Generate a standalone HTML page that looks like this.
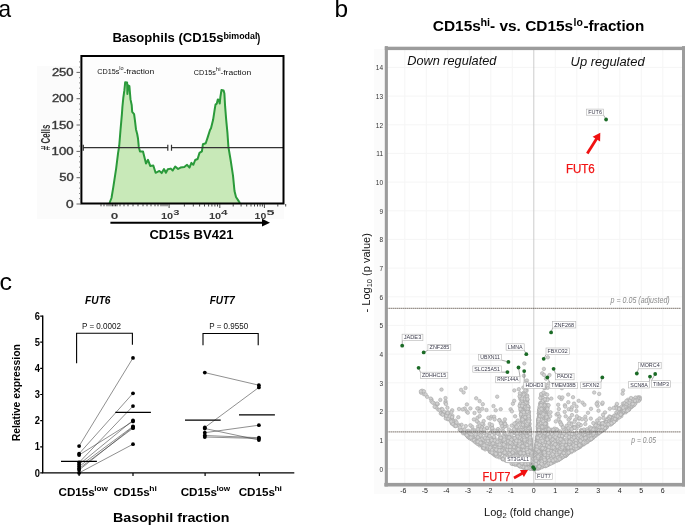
<!DOCTYPE html>
<html><head><meta charset="utf-8"><style>
html,body{margin:0;padding:0;background:#fff;}
svg{display:block;font-family:"Liberation Sans", sans-serif;}
.cl circle{r:1.75px;fill:#d0d0d0;stroke:#a6a6a6;stroke-width:0.55px;}
</style></head><body>
<svg width="685" height="525" viewBox="0 0 685 525">
<text x="-1.5" y="16.9" font-size="24" fill="#000" textLength="12.6" lengthAdjust="spacingAndGlyphs">a</text>
<text x="334.4" y="16.9" font-size="24" fill="#000" textLength="13.6" lengthAdjust="spacingAndGlyphs">b</text>
<text x="-0.5" y="289.6" font-size="24" fill="#000" textLength="12.5" lengthAdjust="spacingAndGlyphs">c</text>
<rect x="37" y="66" width="247" height="153" fill="#fbfbfb"/>
<rect x="82" y="57" width="201" height="146" fill="#fdfdfd"/>
<text x="112.4" y="42.4" font-size="12.5" fill="#000" font-weight="bold" textLength="111.1" lengthAdjust="spacingAndGlyphs">Basophils (CD15s</text>
<text x="223.4" y="38.7" font-size="8.4" fill="#000" font-weight="bold" textLength="34.0" lengthAdjust="spacingAndGlyphs">bimodal</text>
<text x="257.1" y="42.4" font-size="12.5" fill="#000" font-weight="bold" textLength="3.3" lengthAdjust="spacingAndGlyphs">)</text>
<path d="M109.5 203.0 L111.5 198.0 L113.3 187.1 L116.2 168.1 L118.1 152.9 L119.2 146.0 L120.5 130.0 L121.9 114.2 L122.4 107.0 L123.3 97.9 L124.4 90.2 L125.2 82.2 L127.1 82.4 L127.4 94.0 L128.2 85.3 L129.4 86.0 L130.5 99.4 L131.7 105.0 L132.2 111.9 L134.1 114.1 L134.9 120.2 L136.0 129.4 L137.2 134.0 L138.0 138.5 L138.8 146.9 L140.0 151.4 L143.0 151.4 L144.5 157.5 L146.0 163.6 L148.0 159.8 L150.2 165.9 L153.3 165.5 L155.6 172.8 L159.4 170.9 L161.7 173.1 L164.0 169.0 L165.9 172.8 L167.8 169.3 L170.8 168.6 L172.7 170.5 L175.2 166.5 L178.1 169.0 L180.5 167.6 L184.3 167.1 L187.1 164.8 L189.5 167.6 L191.4 162.9 L193.3 164.8 L195.2 160.0 L197.6 159.0 L199.5 152.9 L201.9 151.4 L202.9 144.3 L205.7 143.3 L207.6 137.6 L210.0 130.0 L211.0 128.2 L213.1 119.8 L214.7 109.3 L215.5 104.6 L216.8 103.6 L217.8 99.4 L218.9 99.9 L219.7 103.6 L220.4 96.8 L221.5 90.0 L223.6 90.5 L224.4 93.6 L225.1 106.2 L226.2 119.8 L227.4 132.4 L228.4 146.8 L230.7 160.5 L233.0 175.7 L234.5 191.0 L236.0 197.0 L239.0 201.6 L240.0 203.0 Z" fill="#c8e9b8" stroke="none"/>
<path d="M109.5 203.0 L111.5 198.0 L113.3 187.1 L116.2 168.1 L118.1 152.9 L119.2 146.0 L120.5 130.0 L121.9 114.2 L122.4 107.0 L123.3 97.9 L124.4 90.2 L125.2 82.2 L127.1 82.4 L127.4 94.0 L128.2 85.3 L129.4 86.0 L130.5 99.4 L131.7 105.0 L132.2 111.9 L134.1 114.1 L134.9 120.2 L136.0 129.4 L137.2 134.0 L138.0 138.5 L138.8 146.9 L140.0 151.4 L143.0 151.4 L144.5 157.5 L146.0 163.6 L148.0 159.8 L150.2 165.9 L153.3 165.5 L155.6 172.8 L159.4 170.9 L161.7 173.1 L164.0 169.0 L165.9 172.8 L167.8 169.3 L170.8 168.6 L172.7 170.5 L175.2 166.5 L178.1 169.0 L180.5 167.6 L184.3 167.1 L187.1 164.8 L189.5 167.6 L191.4 162.9 L193.3 164.8 L195.2 160.0 L197.6 159.0 L199.5 152.9 L201.9 151.4 L202.9 144.3 L205.7 143.3 L207.6 137.6 L210.0 130.0 L211.0 128.2 L213.1 119.8 L214.7 109.3 L215.5 104.6 L216.8 103.6 L217.8 99.4 L218.9 99.9 L219.7 103.6 L220.4 96.8 L221.5 90.0 L223.6 90.5 L224.4 93.6 L225.1 106.2 L226.2 119.8 L227.4 132.4 L228.4 146.8 L230.7 160.5 L233.0 175.7 L234.5 191.0 L236.0 197.0 L239.0 201.6 L240.0 203.0" fill="none" stroke="#2a9a3a" stroke-width="2" stroke-linejoin="round"/>
<path d="M83.3 147.7 H167.8 M83.3 144.8 V150.8 M167.8 144.8 V150.8 M171.5 144.8 V150.8 M171.5 147.7 H283" stroke="#333" stroke-width="1.2" fill="none"/>
<path d="M81.4 56 V203.4 H283.5 V56 Z" fill="none" stroke="#000" stroke-width="2"/>
<path d="M76.5 204.0 H81 M79.3 198.7 H81 M79.3 193.5 H81 M79.3 188.2 H81 M79.3 182.9 H81 M76.5 177.7 H81 M79.3 172.4 H81 M79.3 167.2 H81 M79.3 161.9 H81 M79.3 156.6 H81 M76.5 151.4 H81 M79.3 146.1 H81 M79.3 140.8 H81 M79.3 135.6 H81 M79.3 130.3 H81 M76.5 125.0 H81 M79.3 119.8 H81 M79.3 114.5 H81 M79.3 109.2 H81 M79.3 104.0 H81 M76.5 98.7 H81 M79.3 93.5 H81 M79.3 88.2 H81 M79.3 82.9 H81 M79.3 77.7 H81 M76.5 72.4 H81 M79.3 67.1 H81 M79.3 61.9 H81" stroke="#666" stroke-width="1"/>
<text x="66.1" y="207.5" font-size="10.0" fill="#383838" textLength="7.6" lengthAdjust="spacingAndGlyphs" stroke="#383838" stroke-width="0.35">0</text>
<text x="59.2" y="181.2" font-size="10.0" fill="#383838" textLength="14.4" lengthAdjust="spacingAndGlyphs" stroke="#383838" stroke-width="0.35">50</text>
<text x="51.6" y="154.9" font-size="10.0" fill="#383838" textLength="22.0" lengthAdjust="spacingAndGlyphs" stroke="#383838" stroke-width="0.35">100</text>
<text x="51.6" y="128.5" font-size="10.0" fill="#383838" textLength="22.0" lengthAdjust="spacingAndGlyphs" stroke="#383838" stroke-width="0.35">150</text>
<text x="51.9" y="102.2" font-size="10.0" fill="#383838" textLength="21.7" lengthAdjust="spacingAndGlyphs" stroke="#383838" stroke-width="0.35">200</text>
<text x="51.9" y="75.9" font-size="10.0" fill="#383838" textLength="21.7" lengthAdjust="spacingAndGlyphs" stroke="#383838" stroke-width="0.35">250</text>
<text x="0.0" y="0.0" font-size="12" fill="#333" font-weight="bold" text-anchor="middle" textLength="25.5" lengthAdjust="spacingAndGlyphs" transform="translate(49.8 137.4) rotate(-90)"># Cells</text>
<path d="M184.4 204 V206.5 M193.3 204 V206.5 M199.6 204 V206.5 M204.5 204 V206.5 M208.6 204 V206.5 M211.9 204 V206.5 M214.9 204 V206.5 M217.5 204 V206.5 M233.2 204 V206.5 M241.1 204 V206.5 M246.7 204 V206.5 M251.0 204 V206.5 M254.5 204 V206.5 M257.5 204 V206.5 M260.1 204 V206.5 M262.4 204 V206.5 M277.8 204 V206.5 M285.7 204 V206.5 M169.1 204 V208 M219.8 204 V208 M264.4 204 V208 M101.0 204 V206.3 M104.0 204 V206.3 M107.0 204 V206.3 M109.0 204 V206.3 M111.0 204 V206.3 M112.5 204 V206.3 M114.0 204 V206.3 M115.5 204 V206.3 M117.0 204 V206.3 M120.0 204 V206.3 M124.0 204 V206.3 M128.0 204 V206.3 M133.0 204 V206.3 M138.0 204 V206.3 M143.0 204 V206.3 M147.0 204 V206.3 M151.0 204 V206.3 M155.0 204 V206.3 M158.0 204 V206.3 M161.0 204 V206.3 M163.0 204 V206.3 M165.0 204 V206.3 M167.0 204 V206.3" stroke="#333" stroke-width="0.9"/>
<text x="110.8" y="218.6" font-size="8.4" fill="#3a3a3a" font-weight="bold" textLength="7.6" lengthAdjust="spacingAndGlyphs">0</text>
<text x="160.9" y="218.6" font-size="8.4" fill="#3a3a3a" font-weight="bold" textLength="12.2" lengthAdjust="spacingAndGlyphs">10</text>
<text x="173.2" y="214.7" font-size="6.9" fill="#3a3a3a" font-weight="bold" textLength="6.2" lengthAdjust="spacingAndGlyphs">3</text>
<text x="208.9" y="218.6" font-size="8.4" fill="#3a3a3a" font-weight="bold" textLength="12.2" lengthAdjust="spacingAndGlyphs">10</text>
<text x="221.0" y="214.7" font-size="6.9" fill="#3a3a3a" font-weight="bold" textLength="6.6" lengthAdjust="spacingAndGlyphs">4</text>
<text x="254.6" y="218.6" font-size="8.4" fill="#3a3a3a" font-weight="bold" textLength="11.7" lengthAdjust="spacingAndGlyphs">10</text>
<text x="266.6" y="214.7" font-size="6.9" fill="#3a3a3a" font-weight="bold" textLength="8.0" lengthAdjust="spacingAndGlyphs">5</text>
<path d="M110.4 222.7 H263" stroke="#000" stroke-width="2"/>
<path d="M262 218.8 L270 222.7 L262 226.6 Z" fill="#000"/>
<text x="149.4" y="239.4" font-size="13.6" fill="#000" font-weight="bold" textLength="84.0" lengthAdjust="spacingAndGlyphs">CD15s BV421</text>
<text x="97.2" y="73.8" font-size="7.3" fill="#111" textLength="22.2" lengthAdjust="spacingAndGlyphs">CD15s</text>
<text x="119.3" y="70.1" font-size="4.8" fill="#222" textLength="4.3" lengthAdjust="spacingAndGlyphs">lo</text>
<text x="123.5" y="73.8" font-size="7.3" fill="#111" textLength="30.8" lengthAdjust="spacingAndGlyphs">-fraction</text>
<text x="193.8" y="74.8" font-size="7.3" fill="#111" textLength="22.1" lengthAdjust="spacingAndGlyphs">CD15s</text>
<text x="215.8" y="71.1" font-size="4.8" fill="#222" textLength="4.7" lengthAdjust="spacingAndGlyphs">hi</text>
<text x="220.4" y="74.8" font-size="7.3" fill="#111" textLength="30.8" lengthAdjust="spacingAndGlyphs">-fraction</text>
<path d="M42.7 315.5 V473.5 M42 472.9 H294.3" stroke="#000" stroke-width="1.4" fill="none"/>
<path d="M40.2 472.9 H42.7 M40.2 446.8 H42.7 M40.2 420.6 H42.7 M40.2 394.5 H42.7 M40.2 368.4 H42.7 M40.2 342.2 H42.7 M40.2 316.1 H42.7 M79.1 472.9 V476 M133.0 472.9 V476 M205.1 472.9 V476 M259.4 472.9 V476" stroke="#000" stroke-width="1.2"/>
<text x="40.0" y="476.5" font-size="10" fill="#000" font-weight="bold" text-anchor="end" textLength="5.2" lengthAdjust="spacingAndGlyphs">0</text>
<text x="40.0" y="450.4" font-size="10" fill="#000" font-weight="bold" text-anchor="end" textLength="5.2" lengthAdjust="spacingAndGlyphs">1</text>
<text x="40.0" y="424.2" font-size="10" fill="#000" font-weight="bold" text-anchor="end" textLength="5.2" lengthAdjust="spacingAndGlyphs">2</text>
<text x="40.0" y="398.1" font-size="10" fill="#000" font-weight="bold" text-anchor="end" textLength="5.2" lengthAdjust="spacingAndGlyphs">3</text>
<text x="40.0" y="372.0" font-size="10" fill="#000" font-weight="bold" text-anchor="end" textLength="5.2" lengthAdjust="spacingAndGlyphs">4</text>
<text x="40.0" y="345.9" font-size="10" fill="#000" font-weight="bold" text-anchor="end" textLength="5.2" lengthAdjust="spacingAndGlyphs">5</text>
<text x="40.0" y="319.7" font-size="10" fill="#000" font-weight="bold" text-anchor="end" textLength="5.2" lengthAdjust="spacingAndGlyphs">6</text>
<text x="-0.7" y="0.0" font-size="10.6" fill="#000" font-weight="bold" textLength="97.1" lengthAdjust="spacingAndGlyphs" transform="translate(19.9 440.6) rotate(-90)">Relative expression</text>
<text x="85.1" y="304.0" font-size="11.2" fill="#000" font-weight="bold" font-style="italic" textLength="25.4" lengthAdjust="spacingAndGlyphs">FUT6</text>
<text x="209.7" y="304.0" font-size="11.2" fill="#000" font-weight="bold" font-style="italic" textLength="25.0" lengthAdjust="spacingAndGlyphs">FUT7</text>
<text x="81.9" y="328.7" font-size="9.3" fill="#111" textLength="39.2" lengthAdjust="spacingAndGlyphs">P = 0.0002</text>
<text x="209.2" y="329.1" font-size="9.3" fill="#111" textLength="39.0" lengthAdjust="spacingAndGlyphs">P = 0.9550</text>
<path d="M76.6 363.2 V333.3 H132.4 V344.8 M203 345.2 V333.5 H258.2 V345.2" stroke="#000" stroke-width="1.1" fill="none"/>
<path d="M79.1 446.1 L133 357.9 M79.1 453.7 L133 393.3 M79.1 455.0 L133 421.4 M79.1 462.5 L133 406.1 M79.1 464.5 L133 420.3 M79.1 466.5 L133 426.4 M79.1 468.5 L133 428.2 M79.1 470.0 L133 427.0 M79.1 472.9 L133 444.2 M204.8 372.6 L258.9 385.2 M204.8 427.5 L258.9 387.4 M204.8 428.5 L258.9 440.0 M204.8 432.7 L258.9 425.2 M204.8 435.5 L258.9 437.7 M204.8 437.0 L258.9 438.5" stroke="#333" stroke-width="0.55" fill="none"/>
<g fill="#000"><circle cx="79.1" cy="446.1" r="1.9"/><circle cx="133" cy="357.9" r="1.9"/><circle cx="79.1" cy="453.7" r="1.9"/><circle cx="133" cy="393.3" r="1.9"/><circle cx="79.1" cy="455.0" r="1.9"/><circle cx="133" cy="421.4" r="1.9"/><circle cx="79.1" cy="462.5" r="1.9"/><circle cx="133" cy="406.1" r="1.9"/><circle cx="79.1" cy="464.5" r="1.9"/><circle cx="133" cy="420.3" r="1.9"/><circle cx="79.1" cy="466.5" r="1.9"/><circle cx="133" cy="426.4" r="1.9"/><circle cx="79.1" cy="468.5" r="1.9"/><circle cx="133" cy="428.2" r="1.9"/><circle cx="79.1" cy="470.0" r="1.9"/><circle cx="133" cy="427.0" r="1.9"/><circle cx="79.1" cy="472.9" r="1.9"/><circle cx="133" cy="444.2" r="1.9"/><circle cx="204.8" cy="372.6" r="1.9"/><circle cx="258.9" cy="385.2" r="1.9"/><circle cx="204.8" cy="427.5" r="1.9"/><circle cx="258.9" cy="387.4" r="1.9"/><circle cx="204.8" cy="428.5" r="1.9"/><circle cx="258.9" cy="440.0" r="1.9"/><circle cx="204.8" cy="432.7" r="1.9"/><circle cx="258.9" cy="425.2" r="1.9"/><circle cx="204.8" cy="435.5" r="1.9"/><circle cx="258.9" cy="437.7" r="1.9"/><circle cx="204.8" cy="437.0" r="1.9"/><circle cx="258.9" cy="438.5" r="1.9"/></g>
<path d="M61 461.3 H96.9 M115.3 412.3 H150.9 M185 420.1 H220.7 M239 414.9 H274.9" stroke="#000" stroke-width="1.15"/>
<text x="58.5" y="495.7" font-size="10.8" fill="#000" font-weight="bold" textLength="36.3" lengthAdjust="spacingAndGlyphs">CD15s</text>
<text x="94.2" y="491.2" font-size="7.2" fill="#000" font-weight="bold" textLength="13.6" lengthAdjust="spacingAndGlyphs">low</text>
<text x="180.7" y="495.7" font-size="10.8" fill="#000" font-weight="bold" textLength="36.3" lengthAdjust="spacingAndGlyphs">CD15s</text>
<text x="216.4" y="491.2" font-size="7.2" fill="#000" font-weight="bold" textLength="13.6" lengthAdjust="spacingAndGlyphs">low</text>
<text x="113.5" y="495.7" font-size="10.8" fill="#000" font-weight="bold" textLength="36.3" lengthAdjust="spacingAndGlyphs">CD15s</text>
<text x="149.2" y="491.2" font-size="7.2" fill="#000" font-weight="bold" textLength="7.6" lengthAdjust="spacingAndGlyphs">hi</text>
<text x="238.7" y="495.7" font-size="10.8" fill="#000" font-weight="bold" textLength="36.3" lengthAdjust="spacingAndGlyphs">CD15s</text>
<text x="274.4" y="491.2" font-size="7.2" fill="#000" font-weight="bold" textLength="7.6" lengthAdjust="spacingAndGlyphs">hi</text>
<text x="113.0" y="522.2" font-size="13.2" fill="#000" font-weight="bold" textLength="116.4" lengthAdjust="spacingAndGlyphs">Basophil fraction</text>
<rect x="374" y="49" width="311" height="445" fill="#fbfbfb"/>
<rect x="386" y="48" width="297.5" height="436.5" fill="#fff"/>
<path d="M404.8 49 V483 M426.3 49 V483 M447.8 49 V483 M469.3 49 V483 M490.8 49 V483 M512.3 49 V483 M555.3 49 V483 M576.8 49 V483 M598.3 49 V483 M619.8 49 V483 M641.3 49 V483 M662.8 49 V483 M387 468.8 H682 M387 440.1 H682 M387 411.5 H682 M387 382.8 H682 M387 354.1 H682 M387 325.4 H682 M387 296.8 H682 M387 268.1 H682 M387 239.4 H682 M387 210.8 H682 M387 182.1 H682 M387 153.4 H682 M387 124.8 H682 M387 96.1 H682 M387 67.4 H682" stroke="#f5f5f5" stroke-width="1"/>
<path d="M533.8 49 V483" stroke="#cccccc" stroke-width="1"/>
<text x="432.8" y="30.8" font-size="15.2" fill="#000" font-weight="bold" textLength="48.0" lengthAdjust="spacingAndGlyphs">CD15s</text>
<text x="480.4" y="25.5" font-size="10" fill="#000" font-weight="bold" textLength="9.6" lengthAdjust="spacingAndGlyphs">hi</text>
<text x="490.0" y="30.8" font-size="15.2" fill="#000" font-weight="bold" textLength="83.2" lengthAdjust="spacingAndGlyphs">- vs. CD15s</text>
<text x="573.5" y="25.6" font-size="10" fill="#000" font-weight="bold" textLength="9.3" lengthAdjust="spacingAndGlyphs">lo</text>
<text x="583.4" y="30.8" font-size="15.2" fill="#000" font-weight="bold" textLength="60.8" lengthAdjust="spacingAndGlyphs">-fraction</text>
<text x="407.2" y="65.3" font-size="12.6" fill="#111" font-style="italic" textLength="89.2" lengthAdjust="spacingAndGlyphs">Down regulated</text>
<text x="570.6" y="65.6" font-size="12.6" fill="#111" font-style="italic" textLength="74.0" lengthAdjust="spacingAndGlyphs">Up regulated</text>
<text x="383.0" y="471.5" font-size="6.5" fill="#333" text-anchor="end">0</text>
<text x="383.0" y="442.8" font-size="6.5" fill="#333" text-anchor="end">1</text>
<text x="383.0" y="414.2" font-size="6.5" fill="#333" text-anchor="end">2</text>
<text x="383.0" y="385.5" font-size="6.5" fill="#333" text-anchor="end">3</text>
<text x="383.0" y="356.8" font-size="6.5" fill="#333" text-anchor="end">4</text>
<text x="383.0" y="328.1" font-size="6.5" fill="#333" text-anchor="end">5</text>
<text x="383.0" y="299.5" font-size="6.5" fill="#333" text-anchor="end">6</text>
<text x="383.0" y="270.8" font-size="6.5" fill="#333" text-anchor="end">7</text>
<text x="383.0" y="242.1" font-size="6.5" fill="#333" text-anchor="end">8</text>
<text x="383.0" y="213.5" font-size="6.5" fill="#333" text-anchor="end">9</text>
<text x="383.0" y="184.8" font-size="6.5" fill="#333" text-anchor="end">10</text>
<text x="383.0" y="156.1" font-size="6.5" fill="#333" text-anchor="end">11</text>
<text x="383.0" y="127.5" font-size="6.5" fill="#333" text-anchor="end">12</text>
<text x="383.0" y="98.8" font-size="6.5" fill="#333" text-anchor="end">13</text>
<text x="383.0" y="70.1" font-size="6.5" fill="#333" text-anchor="end">14</text>
<text x="403.4" y="492.7" font-size="7" fill="#222" text-anchor="middle">-6</text>
<text x="424.9" y="492.7" font-size="7" fill="#222" text-anchor="middle">-5</text>
<text x="446.4" y="492.7" font-size="7" fill="#222" text-anchor="middle">-4</text>
<text x="467.9" y="492.7" font-size="7" fill="#222" text-anchor="middle">-3</text>
<text x="489.4" y="492.7" font-size="7" fill="#222" text-anchor="middle">-2</text>
<text x="510.9" y="492.7" font-size="7" fill="#222" text-anchor="middle">-1</text>
<text x="533.8" y="492.7" font-size="7" fill="#222" text-anchor="middle">0</text>
<text x="555.3" y="492.7" font-size="7" fill="#222" text-anchor="middle">1</text>
<text x="576.8" y="492.7" font-size="7" fill="#222" text-anchor="middle">2</text>
<text x="598.3" y="492.7" font-size="7" fill="#222" text-anchor="middle">3</text>
<text x="619.8" y="492.7" font-size="7" fill="#222" text-anchor="middle">4</text>
<text x="641.3" y="492.7" font-size="7" fill="#222" text-anchor="middle">5</text>
<text x="662.8" y="492.7" font-size="7" fill="#222" text-anchor="middle">6</text>
<text transform="translate(370.3 312.4) rotate(-90)" font-size="11" fill="#111">- Log<tspan font-size="7.5" dy="2">10</tspan><tspan dy="-2"> (p value)</tspan></text>
<text x="484.1" y="515.5" font-size="11" fill="#111">Log<tspan font-size="7.5" dy="2.5">2</tspan><tspan dy="-2.5"> (fold change)</tspan></text>
<g class="cl"><circle cx="529.6" cy="452.5"/><circle cx="538.5" cy="432.9"/><circle cx="567.2" cy="446.1"/><circle cx="528.2" cy="448.6"/><circle cx="562.2" cy="455.4"/><circle cx="529.6" cy="457.7"/><circle cx="467.3" cy="434.5"/><circle cx="574.6" cy="443.7"/><circle cx="543.5" cy="406.9"/><circle cx="539.9" cy="439.0"/><circle cx="500.4" cy="452.3"/><circle cx="515.1" cy="416.3"/><circle cx="506.2" cy="446.8"/><circle cx="628.0" cy="406.2"/><circle cx="523.9" cy="442.0"/><circle cx="534.5" cy="464.0"/><circle cx="564.3" cy="453.1"/><circle cx="555.1" cy="458.6"/><circle cx="607.7" cy="418.4"/><circle cx="521.9" cy="410.8"/><circle cx="528.7" cy="440.6"/><circle cx="489.8" cy="447.4"/><circle cx="551.5" cy="446.2"/><circle cx="531.5" cy="449.8"/><circle cx="529.7" cy="453.1"/><circle cx="531.3" cy="455.9"/><circle cx="454.6" cy="423.6"/><circle cx="600.5" cy="430.7"/><circle cx="596.2" cy="431.6"/><circle cx="557.3" cy="445.0"/><circle cx="527.4" cy="427.3"/><circle cx="600.9" cy="427.8"/><circle cx="527.1" cy="438.1"/><circle cx="540.1" cy="458.2"/><circle cx="528.3" cy="427.0"/><circle cx="515.0" cy="457.1"/><circle cx="528.7" cy="438.7"/><circle cx="538.1" cy="424.6"/><circle cx="474.4" cy="430.1"/><circle cx="572.5" cy="436.2"/><circle cx="595.0" cy="429.1"/><circle cx="542.3" cy="434.9"/><circle cx="532.5" cy="466.0"/><circle cx="526.2" cy="446.3"/><circle cx="525.5" cy="442.7"/><circle cx="608.7" cy="422.7"/><circle cx="547.4" cy="438.7"/><circle cx="531.0" cy="461.3"/><circle cx="527.2" cy="412.0"/><circle cx="540.1" cy="446.0"/><circle cx="538.6" cy="421.5"/><circle cx="526.6" cy="450.9"/><circle cx="537.0" cy="451.7"/><circle cx="538.9" cy="450.2"/><circle cx="539.9" cy="440.4"/><circle cx="565.6" cy="446.2"/><circle cx="540.1" cy="443.1"/><circle cx="535.5" cy="456.6"/><circle cx="534.4" cy="466.4"/><circle cx="524.8" cy="454.0"/><circle cx="488.2" cy="437.2"/><circle cx="494.6" cy="432.8"/><circle cx="539.4" cy="411.1"/><circle cx="521.9" cy="406.9"/><circle cx="531.0" cy="462.5"/><circle cx="431.5" cy="399.5"/><circle cx="438.2" cy="409.5"/><circle cx="529.2" cy="431.7"/><circle cx="529.3" cy="441.6"/><circle cx="541.7" cy="416.8"/><circle cx="555.6" cy="453.5"/><circle cx="491.3" cy="416.8"/><circle cx="494.2" cy="416.8"/><circle cx="610.9" cy="423.8"/><circle cx="525.8" cy="430.9"/><circle cx="567.2" cy="440.0"/><circle cx="609.7" cy="420.0"/><circle cx="541.6" cy="437.2"/><circle cx="530.3" cy="452.3"/><circle cx="509.9" cy="443.7"/><circle cx="571.1" cy="437.1"/><circle cx="539.0" cy="455.8"/><circle cx="539.3" cy="459.0"/><circle cx="513.1" cy="463.9"/><circle cx="527.3" cy="443.3"/><circle cx="539.0" cy="435.2"/><circle cx="540.2" cy="451.6"/><circle cx="526.4" cy="434.0"/><circle cx="521.7" cy="418.4"/><circle cx="526.5" cy="435.4"/><circle cx="461.6" cy="424.8"/><circle cx="588.8" cy="439.4"/><circle cx="531.1" cy="450.7"/><circle cx="446.1" cy="417.1"/><circle cx="551.0" cy="440.7"/><circle cx="472.6" cy="438.8"/><circle cx="537.5" cy="457.5"/><circle cx="530.5" cy="447.6"/><circle cx="546.4" cy="450.1"/><circle cx="545.9" cy="462.3"/><circle cx="535.6" cy="458.0"/><circle cx="536.3" cy="461.7"/><circle cx="597.1" cy="433.1"/><circle cx="606.5" cy="422.5"/><circle cx="590.8" cy="418.6"/><circle cx="527.9" cy="453.9"/><circle cx="548.0" cy="461.1"/><circle cx="597.5" cy="402.4"/><circle cx="593.2" cy="437.2"/><circle cx="539.0" cy="447.4"/><circle cx="526.4" cy="385.3"/><circle cx="528.6" cy="455.7"/><circle cx="525.1" cy="437.2"/><circle cx="545.2" cy="461.0"/><circle cx="468.2" cy="430.8"/><circle cx="513.4" cy="441.9"/><circle cx="538.5" cy="428.4"/><circle cx="484.6" cy="443.8"/><circle cx="537.4" cy="442.0"/><circle cx="520.9" cy="451.2"/><circle cx="638.5" cy="398.0"/><circle cx="530.5" cy="445.3"/><circle cx="538.1" cy="425.7"/><circle cx="538.9" cy="413.6"/><circle cx="541.3" cy="412.2"/><circle cx="539.4" cy="411.1"/><circle cx="577.6" cy="447.4"/><circle cx="531.8" cy="460.6"/><circle cx="546.1" cy="446.0"/><circle cx="626.9" cy="409.3"/><circle cx="483.2" cy="447.2"/><circle cx="543.3" cy="412.7"/><circle cx="580.0" cy="440.8"/><circle cx="527.4" cy="451.4"/><circle cx="548.2" cy="444.2"/><circle cx="534.3" cy="466.1"/><circle cx="476.2" cy="398.3"/><circle cx="549.6" cy="448.6"/><circle cx="621.3" cy="416.1"/><circle cx="493.5" cy="406.1"/><circle cx="564.4" cy="452.6"/><circle cx="513.9" cy="433.0"/><circle cx="491.2" cy="439.6"/><circle cx="525.1" cy="457.0"/><circle cx="531.3" cy="450.8"/><circle cx="527.9" cy="411.8"/><circle cx="639.7" cy="399.7"/><circle cx="530.2" cy="450.5"/><circle cx="508.5" cy="451.5"/><circle cx="538.4" cy="420.2"/><circle cx="549.7" cy="460.4"/><circle cx="529.3" cy="454.3"/><circle cx="550.3" cy="454.6"/><circle cx="512.7" cy="455.6"/><circle cx="528.3" cy="438.7"/><circle cx="527.9" cy="443.2"/><circle cx="598.5" cy="429.8"/><circle cx="544.9" cy="425.4"/><circle cx="465.5" cy="388.0"/><circle cx="504.7" cy="422.8"/><circle cx="597.7" cy="405.8"/><circle cx="547.8" cy="462.0"/><circle cx="585.3" cy="416.7"/><circle cx="529.7" cy="443.8"/><circle cx="520.0" cy="427.1"/><circle cx="543.2" cy="424.3"/><circle cx="524.6" cy="467.8"/><circle cx="541.1" cy="453.9"/><circle cx="600.2" cy="430.4"/><circle cx="529.3" cy="435.6"/><circle cx="543.1" cy="446.8"/><circle cx="535.9" cy="459.8"/><circle cx="526.6" cy="465.7"/><circle cx="542.4" cy="412.2"/><circle cx="535.6" cy="461.2"/><circle cx="538.0" cy="453.6"/><circle cx="524.1" cy="452.1"/><circle cx="562.4" cy="450.0"/><circle cx="535.6" cy="464.9"/><circle cx="531.7" cy="461.7"/><circle cx="542.2" cy="427.0"/><circle cx="521.0" cy="452.9"/><circle cx="551.0" cy="460.5"/><circle cx="553.1" cy="460.6"/><circle cx="522.9" cy="460.3"/><circle cx="607.2" cy="424.7"/><circle cx="527.0" cy="448.1"/><circle cx="521.3" cy="441.8"/><circle cx="523.7" cy="433.7"/><circle cx="542.3" cy="458.9"/><circle cx="529.1" cy="430.7"/><circle cx="535.7" cy="462.6"/><circle cx="548.8" cy="441.9"/><circle cx="536.2" cy="449.7"/><circle cx="533.1" cy="465.3"/><circle cx="526.3" cy="463.6"/><circle cx="584.3" cy="430.5"/><circle cx="568.6" cy="449.2"/><circle cx="539.7" cy="410.0"/><circle cx="534.3" cy="465.6"/><circle cx="524.3" cy="363.4"/><circle cx="531.6" cy="457.0"/><circle cx="536.1" cy="460.3"/><circle cx="527.7" cy="449.1"/><circle cx="526.4" cy="389.7"/><circle cx="528.4" cy="458.6"/><circle cx="533.0" cy="464.0"/><circle cx="533.7" cy="468.5"/><circle cx="447.4" cy="407.8"/><circle cx="539.6" cy="437.3"/><circle cx="540.2" cy="452.4"/><circle cx="482.1" cy="427.6"/><circle cx="535.9" cy="458.3"/><circle cx="536.3" cy="467.0"/><circle cx="528.1" cy="468.1"/><circle cx="574.0" cy="447.1"/><circle cx="524.2" cy="441.0"/><circle cx="549.4" cy="434.4"/><circle cx="529.4" cy="439.6"/><circle cx="599.3" cy="431.3"/><circle cx="483.6" cy="446.7"/><circle cx="527.2" cy="416.6"/><circle cx="534.7" cy="465.9"/><circle cx="445.5" cy="398.1"/><circle cx="532.7" cy="464.3"/><circle cx="531.5" cy="464.0"/><circle cx="528.3" cy="434.0"/><circle cx="575.4" cy="447.7"/><circle cx="620.0" cy="409.6"/><circle cx="533.9" cy="468.5"/><circle cx="535.4" cy="464.8"/><circle cx="534.6" cy="464.4"/><circle cx="546.8" cy="407.6"/><circle cx="629.3" cy="408.4"/><circle cx="537.0" cy="449.4"/><circle cx="523.3" cy="459.3"/><circle cx="554.2" cy="447.3"/><circle cx="499.6" cy="446.1"/><circle cx="543.9" cy="427.9"/><circle cx="521.5" cy="412.7"/><circle cx="542.2" cy="409.9"/><circle cx="526.4" cy="413.1"/><circle cx="541.5" cy="433.2"/><circle cx="539.0" cy="444.3"/><circle cx="530.3" cy="455.6"/><circle cx="529.2" cy="449.4"/><circle cx="631.3" cy="405.4"/><circle cx="600.0" cy="423.9"/><circle cx="510.6" cy="409.3"/><circle cx="525.1" cy="426.6"/><circle cx="526.0" cy="419.7"/><circle cx="559.6" cy="439.9"/><circle cx="559.1" cy="459.1"/><circle cx="511.7" cy="425.6"/><circle cx="507.3" cy="460.6"/><circle cx="573.4" cy="434.3"/><circle cx="579.0" cy="418.7"/><circle cx="530.4" cy="441.1"/><circle cx="566.9" cy="453.4"/><circle cx="538.6" cy="419.6"/><circle cx="584.7" cy="440.1"/><circle cx="535.1" cy="465.9"/><circle cx="631.9" cy="406.5"/><circle cx="567.0" cy="449.9"/><circle cx="529.9" cy="451.0"/><circle cx="545.4" cy="393.9"/><circle cx="562.1" cy="445.6"/><circle cx="532.3" cy="459.5"/><circle cx="584.5" cy="440.3"/><circle cx="528.4" cy="447.6"/><circle cx="529.3" cy="449.6"/><circle cx="536.2" cy="454.2"/><circle cx="623.1" cy="390.4"/><circle cx="567.6" cy="434.0"/><circle cx="517.4" cy="430.1"/><circle cx="514.6" cy="446.7"/><circle cx="484.4" cy="447.8"/><circle cx="525.4" cy="445.0"/><circle cx="569.3" cy="452.0"/><circle cx="538.1" cy="425.9"/><circle cx="533.8" cy="467.2"/><circle cx="531.3" cy="455.4"/><circle cx="538.0" cy="438.7"/><circle cx="537.9" cy="451.0"/><circle cx="632.0" cy="401.6"/><circle cx="536.8" cy="450.8"/><circle cx="504.0" cy="441.8"/><circle cx="535.8" cy="460.9"/><circle cx="530.6" cy="453.4"/><circle cx="524.3" cy="439.9"/><circle cx="543.9" cy="432.1"/><circle cx="544.8" cy="400.7"/><circle cx="525.9" cy="446.5"/><circle cx="602.5" cy="426.5"/><circle cx="533.5" cy="467.5"/><circle cx="531.5" cy="459.8"/><circle cx="568.3" cy="450.4"/><circle cx="468.8" cy="436.3"/><circle cx="540.9" cy="408.1"/><circle cx="558.6" cy="419.0"/><circle cx="533.3" cy="467.2"/><circle cx="540.9" cy="431.5"/><circle cx="612.6" cy="417.1"/><circle cx="543.4" cy="432.6"/><circle cx="587.2" cy="435.3"/><circle cx="564.9" cy="405.2"/><circle cx="538.0" cy="452.6"/><circle cx="582.5" cy="402.7"/><circle cx="539.9" cy="428.4"/><circle cx="516.5" cy="464.6"/><circle cx="529.0" cy="457.4"/><circle cx="525.6" cy="421.2"/><circle cx="575.8" cy="439.0"/><circle cx="537.9" cy="443.2"/><circle cx="520.5" cy="405.6"/><circle cx="539.4" cy="410.0"/><circle cx="547.4" cy="440.9"/><circle cx="543.0" cy="455.2"/><circle cx="586.4" cy="440.2"/><circle cx="524.6" cy="463.8"/><circle cx="548.7" cy="383.6"/><circle cx="586.1" cy="435.0"/><circle cx="523.9" cy="434.9"/><circle cx="531.8" cy="455.3"/><circle cx="550.6" cy="442.5"/><circle cx="546.1" cy="407.2"/><circle cx="540.1" cy="420.4"/><circle cx="603.7" cy="428.6"/><circle cx="556.1" cy="453.6"/><circle cx="528.4" cy="440.9"/><circle cx="542.6" cy="457.7"/><circle cx="584.1" cy="439.5"/><circle cx="545.3" cy="427.2"/><circle cx="532.3" cy="460.9"/><circle cx="531.3" cy="462.9"/><circle cx="545.9" cy="453.1"/><circle cx="533.8" cy="468.8"/><circle cx="524.5" cy="443.4"/><circle cx="532.0" cy="455.2"/><circle cx="526.6" cy="447.9"/><circle cx="529.0" cy="453.3"/><circle cx="603.5" cy="417.9"/><circle cx="532.4" cy="463.0"/><circle cx="443.4" cy="412.8"/><circle cx="527.6" cy="459.9"/><circle cx="551.7" cy="443.4"/><circle cx="535.5" cy="460.1"/><circle cx="530.5" cy="452.0"/><circle cx="538.2" cy="461.6"/><circle cx="541.8" cy="465.9"/><circle cx="574.4" cy="447.1"/><circle cx="589.3" cy="439.2"/><circle cx="548.7" cy="460.5"/><circle cx="529.6" cy="433.1"/><circle cx="639.8" cy="397.4"/><circle cx="543.0" cy="406.4"/><circle cx="532.1" cy="455.6"/><circle cx="535.5" cy="460.7"/><circle cx="527.1" cy="447.2"/><circle cx="627.6" cy="406.3"/><circle cx="639.7" cy="398.8"/><circle cx="535.5" cy="463.1"/><circle cx="523.4" cy="413.9"/><circle cx="529.2" cy="434.8"/><circle cx="522.2" cy="459.1"/><circle cx="541.5" cy="464.5"/><circle cx="533.8" cy="467.5"/><circle cx="543.3" cy="426.7"/><circle cx="532.1" cy="464.2"/><circle cx="535.5" cy="464.2"/><circle cx="516.4" cy="442.1"/><circle cx="547.6" cy="449.0"/><circle cx="553.4" cy="452.7"/><circle cx="537.6" cy="466.8"/><circle cx="518.7" cy="430.4"/><circle cx="521.5" cy="453.1"/><circle cx="532.3" cy="462.1"/><circle cx="528.1" cy="440.7"/><circle cx="523.5" cy="434.8"/><circle cx="523.1" cy="451.3"/><circle cx="521.0" cy="442.2"/><circle cx="529.4" cy="454.6"/><circle cx="565.2" cy="433.7"/><circle cx="430.7" cy="398.6"/><circle cx="605.4" cy="427.0"/><circle cx="545.6" cy="465.1"/><circle cx="558.7" cy="450.9"/><circle cx="532.4" cy="459.4"/><circle cx="549.8" cy="454.0"/><circle cx="525.5" cy="436.7"/><circle cx="521.1" cy="416.1"/><circle cx="541.7" cy="420.5"/><circle cx="512.4" cy="432.6"/><circle cx="530.4" cy="460.3"/><circle cx="544.2" cy="445.8"/><circle cx="572.3" cy="444.0"/><circle cx="540.9" cy="456.6"/><circle cx="556.9" cy="459.6"/><circle cx="536.8" cy="447.4"/><circle cx="533.1" cy="464.6"/><circle cx="515.0" cy="457.5"/><circle cx="523.7" cy="420.0"/><circle cx="488.7" cy="434.9"/><circle cx="591.0" cy="434.9"/><circle cx="536.9" cy="445.3"/><circle cx="500.6" cy="442.0"/><circle cx="523.1" cy="450.8"/><circle cx="519.4" cy="450.5"/><circle cx="545.8" cy="417.5"/><circle cx="531.2" cy="461.8"/><circle cx="563.0" cy="444.4"/><circle cx="521.3" cy="413.9"/><circle cx="540.7" cy="407.8"/><circle cx="491.9" cy="449.4"/><circle cx="604.3" cy="422.6"/><circle cx="531.8" cy="458.6"/><circle cx="576.2" cy="447.7"/><circle cx="571.0" cy="450.3"/><circle cx="595.5" cy="426.4"/><circle cx="492.2" cy="452.4"/><circle cx="569.0" cy="449.6"/><circle cx="510.2" cy="453.6"/><circle cx="560.4" cy="447.4"/><circle cx="522.2" cy="404.4"/><circle cx="529.9" cy="458.7"/><circle cx="527.8" cy="433.0"/><circle cx="538.0" cy="457.3"/><circle cx="539.5" cy="447.2"/><circle cx="525.5" cy="435.0"/><circle cx="525.6" cy="410.8"/><circle cx="592.2" cy="431.5"/><circle cx="539.7" cy="407.4"/><circle cx="527.2" cy="440.3"/><circle cx="523.2" cy="393.8"/><circle cx="573.2" cy="448.4"/><circle cx="591.2" cy="439.1"/><circle cx="560.2" cy="451.5"/><circle cx="553.2" cy="460.5"/><circle cx="527.2" cy="422.7"/><circle cx="528.4" cy="415.5"/><circle cx="546.9" cy="448.7"/><circle cx="526.8" cy="446.1"/><circle cx="542.8" cy="436.8"/><circle cx="547.7" cy="447.5"/><circle cx="543.6" cy="430.4"/><circle cx="529.5" cy="448.4"/><circle cx="535.0" cy="464.9"/><circle cx="525.8" cy="425.9"/><circle cx="523.1" cy="440.6"/><circle cx="532.4" cy="459.2"/><circle cx="546.4" cy="423.9"/><circle cx="538.4" cy="437.8"/><circle cx="596.0" cy="428.3"/><circle cx="567.3" cy="451.2"/><circle cx="615.2" cy="418.4"/><circle cx="545.6" cy="436.0"/><circle cx="617.8" cy="414.3"/><circle cx="533.1" cy="464.9"/><circle cx="537.4" cy="448.5"/><circle cx="597.8" cy="426.9"/><circle cx="526.2" cy="442.9"/><circle cx="534.8" cy="468.7"/><circle cx="538.6" cy="434.5"/><circle cx="540.7" cy="449.2"/><circle cx="579.2" cy="446.1"/><circle cx="549.0" cy="440.6"/><circle cx="537.2" cy="447.7"/><circle cx="548.5" cy="463.6"/><circle cx="534.9" cy="464.4"/><circle cx="526.4" cy="395.4"/><circle cx="537.9" cy="438.8"/><circle cx="529.1" cy="444.5"/><circle cx="427.1" cy="396.8"/><circle cx="542.0" cy="395.9"/><circle cx="537.2" cy="440.4"/><circle cx="561.2" cy="455.6"/><circle cx="537.9" cy="459.7"/><circle cx="527.2" cy="400.6"/><circle cx="535.7" cy="454.1"/><circle cx="574.9" cy="449.7"/><circle cx="549.8" cy="455.2"/><circle cx="585.4" cy="440.6"/><circle cx="528.4" cy="427.8"/><circle cx="603.9" cy="429.8"/><circle cx="536.0" cy="452.3"/><circle cx="538.1" cy="467.6"/><circle cx="626.3" cy="410.9"/><circle cx="477.5" cy="417.8"/><circle cx="494.5" cy="450.7"/><circle cx="536.9" cy="451.8"/><circle cx="503.9" cy="443.1"/><circle cx="532.6" cy="465.2"/><circle cx="539.7" cy="445.5"/><circle cx="527.4" cy="444.2"/><circle cx="600.2" cy="425.7"/><circle cx="534.9" cy="462.1"/><circle cx="529.2" cy="448.9"/><circle cx="553.7" cy="456.0"/><circle cx="531.7" cy="459.0"/><circle cx="559.0" cy="459.6"/><circle cx="569.0" cy="440.7"/><circle cx="523.0" cy="412.5"/><circle cx="564.5" cy="446.3"/><circle cx="620.6" cy="412.2"/><circle cx="544.6" cy="432.9"/><circle cx="512.9" cy="403.7"/><circle cx="533.7" cy="468.5"/><circle cx="521.8" cy="464.6"/><circle cx="540.9" cy="404.1"/><circle cx="608.9" cy="422.3"/><circle cx="543.1" cy="465.7"/><circle cx="534.7" cy="466.2"/><circle cx="422.1" cy="390.7"/><circle cx="529.1" cy="434.2"/><circle cx="558.9" cy="431.5"/><circle cx="574.7" cy="445.5"/><circle cx="497.7" cy="442.0"/><circle cx="539.4" cy="453.6"/><circle cx="517.8" cy="452.1"/><circle cx="452.2" cy="419.6"/><circle cx="535.0" cy="466.1"/><circle cx="526.6" cy="440.5"/><circle cx="537.3" cy="457.9"/><circle cx="542.4" cy="429.1"/><circle cx="525.5" cy="438.9"/><circle cx="537.4" cy="442.2"/><circle cx="512.0" cy="446.0"/><circle cx="534.4" cy="465.0"/><circle cx="576.5" cy="444.6"/><circle cx="523.5" cy="393.0"/><circle cx="510.4" cy="459.9"/><circle cx="577.8" cy="435.4"/><circle cx="541.8" cy="443.4"/><circle cx="444.7" cy="414.4"/><circle cx="557.1" cy="441.3"/><circle cx="541.1" cy="437.4"/><circle cx="523.3" cy="435.6"/><circle cx="515.8" cy="459.7"/><circle cx="481.3" cy="444.3"/><circle cx="559.7" cy="434.7"/><circle cx="539.2" cy="464.2"/><circle cx="524.7" cy="415.3"/><circle cx="536.9" cy="446.1"/><circle cx="559.5" cy="452.3"/><circle cx="576.5" cy="406.6"/><circle cx="591.3" cy="436.9"/><circle cx="527.8" cy="461.8"/><circle cx="568.2" cy="394.6"/><circle cx="454.0" cy="422.8"/><circle cx="523.8" cy="466.7"/><circle cx="537.4" cy="452.2"/><circle cx="549.1" cy="453.1"/><circle cx="537.8" cy="460.0"/><circle cx="551.8" cy="442.1"/><circle cx="542.0" cy="405.2"/><circle cx="520.5" cy="399.2"/><circle cx="619.2" cy="416.9"/><circle cx="535.4" cy="464.9"/><circle cx="556.0" cy="439.8"/><circle cx="535.1" cy="462.7"/><circle cx="541.8" cy="426.3"/><circle cx="541.1" cy="419.1"/><circle cx="563.5" cy="455.2"/><circle cx="570.0" cy="439.8"/><circle cx="566.6" cy="454.3"/><circle cx="474.9" cy="439.1"/><circle cx="557.0" cy="444.5"/><circle cx="529.9" cy="449.1"/><circle cx="527.2" cy="468.0"/><circle cx="623.0" cy="403.6"/><circle cx="541.5" cy="457.1"/><circle cx="541.1" cy="439.6"/><circle cx="513.8" cy="438.1"/><circle cx="581.0" cy="430.4"/><circle cx="565.7" cy="450.0"/><circle cx="521.8" cy="436.2"/><circle cx="529.8" cy="429.8"/><circle cx="530.3" cy="461.0"/><circle cx="531.1" cy="454.6"/><circle cx="541.4" cy="433.0"/><circle cx="616.7" cy="416.3"/><circle cx="496.3" cy="451.4"/><circle cx="596.6" cy="403.9"/><circle cx="537.4" cy="457.6"/><circle cx="530.4" cy="452.2"/><circle cx="524.3" cy="440.8"/><circle cx="527.6" cy="458.5"/><circle cx="490.1" cy="442.5"/><circle cx="548.5" cy="445.8"/><circle cx="531.9" cy="460.9"/><circle cx="532.2" cy="458.2"/><circle cx="535.5" cy="463.0"/><circle cx="513.2" cy="459.9"/><circle cx="541.0" cy="430.7"/><circle cx="538.1" cy="432.6"/><circle cx="599.2" cy="393.9"/><circle cx="524.9" cy="460.2"/><circle cx="544.9" cy="436.6"/><circle cx="494.6" cy="455.1"/><circle cx="557.0" cy="458.0"/><circle cx="581.1" cy="444.7"/><circle cx="531.9" cy="458.0"/><circle cx="528.4" cy="464.5"/><circle cx="539.0" cy="431.8"/><circle cx="541.6" cy="422.5"/><circle cx="509.0" cy="455.8"/><circle cx="530.1" cy="457.8"/><circle cx="535.5" cy="461.9"/><circle cx="536.3" cy="456.6"/><circle cx="421.1" cy="392.7"/><circle cx="500.4" cy="447.8"/><circle cx="530.7" cy="442.2"/><circle cx="540.8" cy="445.9"/><circle cx="542.2" cy="434.9"/><circle cx="541.2" cy="444.6"/><circle cx="472.6" cy="436.7"/><circle cx="517.5" cy="453.7"/><circle cx="524.3" cy="457.9"/><circle cx="607.9" cy="423.6"/><circle cx="636.2" cy="398.9"/><circle cx="637.7" cy="400.3"/><circle cx="544.8" cy="430.6"/><circle cx="538.4" cy="446.9"/><circle cx="510.9" cy="444.3"/><circle cx="538.3" cy="451.7"/><circle cx="538.5" cy="452.0"/><circle cx="535.6" cy="457.3"/><circle cx="491.6" cy="429.8"/><circle cx="526.5" cy="390.9"/><circle cx="535.0" cy="464.5"/><circle cx="581.8" cy="439.5"/><circle cx="532.0" cy="463.8"/><circle cx="539.8" cy="439.3"/><circle cx="526.0" cy="439.7"/><circle cx="536.9" cy="444.5"/><circle cx="532.6" cy="465.9"/><circle cx="545.0" cy="408.0"/><circle cx="528.6" cy="433.5"/><circle cx="537.5" cy="443.2"/><circle cx="530.8" cy="442.6"/><circle cx="547.6" cy="427.4"/><circle cx="530.2" cy="448.4"/><circle cx="535.1" cy="461.6"/><circle cx="563.9" cy="454.7"/><circle cx="525.4" cy="416.7"/><circle cx="635.5" cy="403.1"/><circle cx="568.2" cy="446.0"/><circle cx="528.2" cy="447.7"/><circle cx="538.7" cy="450.8"/><circle cx="544.0" cy="419.2"/><circle cx="520.6" cy="452.5"/><circle cx="540.3" cy="408.4"/><circle cx="594.2" cy="430.0"/><circle cx="565.7" cy="416.3"/><circle cx="537.4" cy="440.5"/><circle cx="558.1" cy="450.8"/><circle cx="568.4" cy="449.1"/><circle cx="563.4" cy="452.0"/><circle cx="529.1" cy="457.3"/><circle cx="542.8" cy="437.4"/><circle cx="536.6" cy="462.2"/><circle cx="587.5" cy="441.5"/><circle cx="541.3" cy="395.3"/><circle cx="553.8" cy="459.4"/><circle cx="477.7" cy="436.9"/><circle cx="534.5" cy="465.7"/><circle cx="527.0" cy="443.4"/><circle cx="547.6" cy="387.8"/><circle cx="521.8" cy="424.0"/><circle cx="526.1" cy="416.1"/><circle cx="556.2" cy="458.7"/><circle cx="533.2" cy="467.1"/><circle cx="548.9" cy="464.1"/><circle cx="528.6" cy="445.9"/><circle cx="537.2" cy="457.4"/><circle cx="531.9" cy="457.0"/><circle cx="525.8" cy="433.9"/><circle cx="465.4" cy="431.9"/><circle cx="537.7" cy="458.4"/><circle cx="535.8" cy="459.3"/><circle cx="523.5" cy="414.7"/><circle cx="510.2" cy="460.6"/><circle cx="531.5" cy="454.7"/><circle cx="544.9" cy="461.2"/><circle cx="531.1" cy="462.2"/><circle cx="545.8" cy="409.6"/><circle cx="539.4" cy="449.7"/><circle cx="577.8" cy="441.8"/><circle cx="542.5" cy="438.4"/><circle cx="553.9" cy="441.9"/><circle cx="577.6" cy="444.1"/><circle cx="461.8" cy="431.4"/><circle cx="527.9" cy="434.9"/><circle cx="582.5" cy="432.4"/><circle cx="535.2" cy="462.5"/><circle cx="527.6" cy="410.4"/><circle cx="528.5" cy="443.9"/><circle cx="534.3" cy="465.5"/><circle cx="530.6" cy="451.1"/><circle cx="524.9" cy="457.3"/><circle cx="492.6" cy="430.3"/><circle cx="524.6" cy="394.0"/><circle cx="519.6" cy="444.7"/><circle cx="540.1" cy="415.9"/><circle cx="540.2" cy="465.4"/><circle cx="541.3" cy="465.7"/><circle cx="548.1" cy="429.9"/><circle cx="637.6" cy="399.4"/><circle cx="538.7" cy="440.2"/><circle cx="596.7" cy="428.9"/><circle cx="523.0" cy="411.7"/><circle cx="623.1" cy="413.1"/><circle cx="536.9" cy="440.7"/><circle cx="544.2" cy="423.8"/><circle cx="604.0" cy="427.5"/><circle cx="541.2" cy="434.0"/><circle cx="544.2" cy="452.2"/><circle cx="544.5" cy="420.1"/><circle cx="631.1" cy="407.2"/><circle cx="519.4" cy="440.0"/><circle cx="529.3" cy="423.4"/><circle cx="616.7" cy="415.1"/><circle cx="531.5" cy="463.4"/><circle cx="585.2" cy="434.9"/><circle cx="552.3" cy="441.2"/><circle cx="543.5" cy="436.2"/><circle cx="539.1" cy="452.7"/><circle cx="527.5" cy="467.2"/><circle cx="527.3" cy="432.6"/><circle cx="534.0" cy="468.1"/><circle cx="579.2" cy="443.2"/><circle cx="504.6" cy="439.2"/><circle cx="540.2" cy="466.9"/><circle cx="540.3" cy="452.3"/><circle cx="538.1" cy="434.9"/><circle cx="615.9" cy="417.9"/><circle cx="521.4" cy="452.6"/><circle cx="541.6" cy="413.3"/><circle cx="555.1" cy="448.6"/><circle cx="514.8" cy="456.6"/><circle cx="611.9" cy="418.6"/><circle cx="532.8" cy="463.3"/><circle cx="598.9" cy="432.8"/><circle cx="612.9" cy="420.2"/><circle cx="510.2" cy="447.6"/><circle cx="541.6" cy="446.7"/><circle cx="535.2" cy="463.0"/><circle cx="612.4" cy="421.6"/><circle cx="516.2" cy="446.6"/><circle cx="523.7" cy="416.4"/><circle cx="530.6" cy="438.5"/><circle cx="529.0" cy="420.3"/><circle cx="536.8" cy="459.1"/><circle cx="526.2" cy="467.3"/><circle cx="554.2" cy="456.9"/><circle cx="529.7" cy="454.7"/><circle cx="623.8" cy="410.9"/><circle cx="486.1" cy="439.4"/><circle cx="538.8" cy="464.8"/><circle cx="528.1" cy="437.1"/><circle cx="617.3" cy="416.4"/><circle cx="544.4" cy="411.6"/><circle cx="506.4" cy="458.9"/><circle cx="506.6" cy="451.9"/><circle cx="528.1" cy="439.3"/><circle cx="529.9" cy="454.6"/><circle cx="576.5" cy="428.7"/><circle cx="519.4" cy="460.2"/><circle cx="530.0" cy="453.3"/><circle cx="534.1" cy="468.1"/><circle cx="534.0" cy="468.1"/><circle cx="540.1" cy="404.1"/><circle cx="536.0" cy="453.5"/><circle cx="531.2" cy="453.7"/><circle cx="609.4" cy="424.0"/><circle cx="544.2" cy="461.1"/><circle cx="537.6" cy="448.8"/><circle cx="529.7" cy="442.4"/><circle cx="514.4" cy="447.7"/><circle cx="497.2" cy="396.7"/><circle cx="531.2" cy="461.2"/><circle cx="567.7" cy="446.7"/><circle cx="538.6" cy="437.1"/><circle cx="479.6" cy="445.4"/><circle cx="563.9" cy="456.5"/><circle cx="531.8" cy="460.3"/><circle cx="510.9" cy="443.6"/><circle cx="525.9" cy="465.6"/><circle cx="528.4" cy="407.5"/><circle cx="516.7" cy="454.3"/><circle cx="485.2" cy="449.4"/><circle cx="535.9" cy="463.7"/><circle cx="537.6" cy="464.1"/><circle cx="537.8" cy="458.1"/><circle cx="525.2" cy="433.4"/><circle cx="541.8" cy="406.0"/><circle cx="517.5" cy="445.2"/><circle cx="535.0" cy="467.6"/><circle cx="533.8" cy="468.7"/><circle cx="466.7" cy="411.4"/><circle cx="446.2" cy="415.2"/><circle cx="529.4" cy="447.2"/><circle cx="515.6" cy="426.8"/><circle cx="491.7" cy="426.4"/><circle cx="560.6" cy="458.3"/><circle cx="539.8" cy="430.4"/><circle cx="536.9" cy="462.0"/><circle cx="514.2" cy="440.8"/><circle cx="531.3" cy="450.8"/><circle cx="542.8" cy="431.5"/><circle cx="543.6" cy="427.9"/><circle cx="566.9" cy="452.0"/><circle cx="545.2" cy="466.1"/><circle cx="552.3" cy="441.7"/><circle cx="628.1" cy="399.7"/><circle cx="537.6" cy="459.1"/><circle cx="527.9" cy="449.7"/><circle cx="553.5" cy="460.9"/><circle cx="480.6" cy="444.1"/><circle cx="616.9" cy="412.6"/><circle cx="523.4" cy="435.6"/><circle cx="528.2" cy="447.8"/><circle cx="582.4" cy="438.3"/><circle cx="507.4" cy="451.0"/><circle cx="518.7" cy="443.2"/><circle cx="539.8" cy="449.1"/><circle cx="518.8" cy="443.0"/><circle cx="590.1" cy="432.0"/><circle cx="493.7" cy="446.3"/><circle cx="542.2" cy="438.3"/><circle cx="533.6" cy="467.5"/><circle cx="531.4" cy="457.3"/><circle cx="605.0" cy="428.2"/><circle cx="536.7" cy="452.7"/><circle cx="557.3" cy="458.3"/><circle cx="529.3" cy="451.3"/><circle cx="543.5" cy="443.0"/><circle cx="584.6" cy="435.3"/><circle cx="532.6" cy="462.8"/><circle cx="573.0" cy="427.1"/><circle cx="587.2" cy="439.9"/><circle cx="528.5" cy="424.1"/><circle cx="485.8" cy="447.2"/><circle cx="529.0" cy="460.9"/><circle cx="538.8" cy="430.6"/><circle cx="536.6" cy="452.3"/><circle cx="532.1" cy="463.4"/><circle cx="544.8" cy="406.6"/><circle cx="447.8" cy="419.2"/><circle cx="527.3" cy="402.5"/><circle cx="535.5" cy="461.0"/><circle cx="585.4" cy="439.1"/><circle cx="538.2" cy="430.0"/><circle cx="528.9" cy="434.6"/><circle cx="574.2" cy="441.8"/><circle cx="604.8" cy="427.8"/><circle cx="569.8" cy="418.2"/><circle cx="622.6" cy="411.9"/><circle cx="532.3" cy="463.5"/><circle cx="551.9" cy="458.7"/><circle cx="533.8" cy="468.5"/><circle cx="538.1" cy="437.1"/><circle cx="540.0" cy="420.0"/><circle cx="490.2" cy="418.6"/><circle cx="541.2" cy="449.0"/><circle cx="525.4" cy="433.1"/><circle cx="563.1" cy="442.2"/><circle cx="525.9" cy="409.0"/><circle cx="533.8" cy="468.6"/><circle cx="550.0" cy="462.3"/><circle cx="532.6" cy="464.1"/><circle cx="558.6" cy="458.8"/><circle cx="533.8" cy="468.3"/><circle cx="560.7" cy="451.0"/><circle cx="542.7" cy="442.5"/><circle cx="529.3" cy="466.0"/><circle cx="514.4" cy="438.9"/><circle cx="536.5" cy="466.5"/><circle cx="564.9" cy="443.8"/><circle cx="605.9" cy="427.3"/><circle cx="539.1" cy="465.7"/><circle cx="527.1" cy="454.6"/><circle cx="535.6" cy="455.3"/><circle cx="533.0" cy="463.1"/><circle cx="539.1" cy="450.8"/><circle cx="527.7" cy="455.0"/><circle cx="574.0" cy="403.6"/><circle cx="551.8" cy="461.9"/><circle cx="571.9" cy="407.2"/><circle cx="545.3" cy="442.3"/><circle cx="553.5" cy="460.4"/><circle cx="521.9" cy="463.6"/><circle cx="548.0" cy="463.0"/><circle cx="542.6" cy="432.1"/><circle cx="526.2" cy="450.6"/><circle cx="559.0" cy="446.7"/><circle cx="633.9" cy="405.1"/><circle cx="527.7" cy="433.1"/><circle cx="605.4" cy="426.9"/><circle cx="532.3" cy="459.8"/><circle cx="540.2" cy="424.7"/><circle cx="508.2" cy="456.0"/><circle cx="535.6" cy="461.2"/><circle cx="539.3" cy="427.9"/><circle cx="482.8" cy="447.8"/><circle cx="537.5" cy="444.7"/><circle cx="520.2" cy="397.5"/><circle cx="470.1" cy="437.7"/><circle cx="494.4" cy="453.7"/><circle cx="529.3" cy="431.1"/><circle cx="538.5" cy="428.5"/><circle cx="538.8" cy="413.4"/><circle cx="548.9" cy="458.9"/><circle cx="530.1" cy="444.4"/><circle cx="553.6" cy="458.2"/><circle cx="520.3" cy="404.4"/><circle cx="533.8" cy="468.7"/><circle cx="528.2" cy="448.8"/><circle cx="542.8" cy="427.4"/><circle cx="552.8" cy="461.1"/><circle cx="516.9" cy="441.2"/><circle cx="524.9" cy="453.6"/><circle cx="593.5" cy="435.1"/><circle cx="618.7" cy="408.2"/><circle cx="545.3" cy="425.2"/><circle cx="534.9" cy="464.7"/><circle cx="537.5" cy="457.1"/><circle cx="537.3" cy="456.7"/><circle cx="571.2" cy="447.6"/><circle cx="598.0" cy="433.9"/><circle cx="498.0" cy="429.1"/><circle cx="541.5" cy="413.5"/><circle cx="525.4" cy="409.4"/><circle cx="532.0" cy="455.7"/><circle cx="535.0" cy="463.5"/><circle cx="535.0" cy="461.4"/><circle cx="626.4" cy="406.1"/><circle cx="496.7" cy="453.5"/><circle cx="491.3" cy="426.8"/><circle cx="589.9" cy="427.3"/><circle cx="539.8" cy="435.3"/><circle cx="526.4" cy="413.5"/><circle cx="561.6" cy="454.3"/><circle cx="531.6" cy="462.1"/><circle cx="532.7" cy="466.0"/><circle cx="526.0" cy="445.7"/><circle cx="525.8" cy="413.1"/><circle cx="532.5" cy="464.6"/><circle cx="543.4" cy="438.6"/><circle cx="535.1" cy="465.0"/><circle cx="530.1" cy="441.6"/><circle cx="585.4" cy="441.3"/><circle cx="458.3" cy="417.2"/><circle cx="579.0" cy="446.4"/><circle cx="542.9" cy="440.4"/><circle cx="534.6" cy="466.2"/><circle cx="546.1" cy="404.8"/><circle cx="527.2" cy="435.0"/><circle cx="594.9" cy="434.0"/><circle cx="581.1" cy="444.1"/><circle cx="553.7" cy="454.8"/><circle cx="525.1" cy="411.2"/><circle cx="590.5" cy="437.7"/><circle cx="539.9" cy="413.4"/><circle cx="585.2" cy="437.0"/><circle cx="534.2" cy="466.5"/><circle cx="480.5" cy="444.3"/><circle cx="536.0" cy="465.5"/><circle cx="585.3" cy="424.0"/><circle cx="533.4" cy="467.9"/><circle cx="508.1" cy="461.1"/><circle cx="545.8" cy="454.5"/><circle cx="459.7" cy="429.7"/><circle cx="528.1" cy="451.9"/><circle cx="538.9" cy="466.1"/><circle cx="535.9" cy="456.9"/><circle cx="541.3" cy="440.5"/><circle cx="529.3" cy="428.2"/><circle cx="473.0" cy="437.2"/><circle cx="513.5" cy="442.8"/><circle cx="546.0" cy="378.7"/><circle cx="561.6" cy="448.8"/><circle cx="532.4" cy="458.8"/><circle cx="606.0" cy="420.7"/><circle cx="528.1" cy="438.1"/><circle cx="562.3" cy="438.4"/><circle cx="548.4" cy="460.9"/><circle cx="483.4" cy="424.7"/><circle cx="565.6" cy="454.9"/><circle cx="542.2" cy="373.3"/><circle cx="544.4" cy="429.5"/><circle cx="558.9" cy="445.5"/><circle cx="547.6" cy="444.2"/><circle cx="546.2" cy="432.2"/><circle cx="502.8" cy="440.5"/><circle cx="526.3" cy="444.1"/><circle cx="541.9" cy="442.0"/><circle cx="588.3" cy="439.3"/><circle cx="531.1" cy="447.5"/><circle cx="563.2" cy="440.6"/><circle cx="528.6" cy="426.0"/><circle cx="525.7" cy="444.3"/><circle cx="538.8" cy="449.3"/><circle cx="537.3" cy="438.3"/><circle cx="555.8" cy="421.4"/><circle cx="532.2" cy="463.8"/><circle cx="534.8" cy="464.5"/><circle cx="539.2" cy="427.8"/><circle cx="632.5" cy="405.8"/><circle cx="528.0" cy="441.9"/><circle cx="518.5" cy="454.0"/><circle cx="558.8" cy="409.0"/><circle cx="537.8" cy="441.2"/><circle cx="525.2" cy="455.5"/><circle cx="495.1" cy="432.1"/><circle cx="536.4" cy="451.3"/><circle cx="454.4" cy="425.3"/><circle cx="533.4" cy="467.3"/><circle cx="543.9" cy="418.1"/><circle cx="594.5" cy="433.7"/><circle cx="539.9" cy="445.0"/><circle cx="537.1" cy="445.0"/><circle cx="534.8" cy="465.4"/><circle cx="544.9" cy="412.4"/><circle cx="491.5" cy="449.5"/><circle cx="528.9" cy="425.5"/><circle cx="541.0" cy="423.4"/><circle cx="538.1" cy="440.1"/><circle cx="499.9" cy="430.5"/><circle cx="436.7" cy="404.1"/><circle cx="467.8" cy="433.9"/><circle cx="615.4" cy="418.1"/><circle cx="538.2" cy="465.6"/><circle cx="586.4" cy="435.2"/><circle cx="543.6" cy="434.7"/><circle cx="530.5" cy="439.8"/><circle cx="528.1" cy="442.8"/><circle cx="592.5" cy="434.6"/><circle cx="482.2" cy="423.7"/><circle cx="452.4" cy="415.7"/><circle cx="511.8" cy="463.6"/><circle cx="539.7" cy="467.1"/><circle cx="581.4" cy="430.2"/><circle cx="538.3" cy="468.4"/><circle cx="492.1" cy="439.7"/><circle cx="525.4" cy="443.4"/><circle cx="542.0" cy="409.4"/><circle cx="521.2" cy="451.8"/><circle cx="489.2" cy="450.2"/><circle cx="530.9" cy="447.4"/><circle cx="526.6" cy="437.1"/><circle cx="478.4" cy="422.6"/><circle cx="543.5" cy="431.2"/><circle cx="547.2" cy="407.9"/><circle cx="539.6" cy="421.5"/><circle cx="615.9" cy="417.7"/><circle cx="534.6" cy="464.2"/><circle cx="526.5" cy="421.0"/><circle cx="539.3" cy="431.4"/><circle cx="483.1" cy="448.1"/><circle cx="592.8" cy="437.2"/><circle cx="516.4" cy="445.5"/><circle cx="516.3" cy="422.6"/><circle cx="517.6" cy="461.2"/><circle cx="548.6" cy="440.0"/><circle cx="581.5" cy="431.9"/><circle cx="540.4" cy="460.2"/><circle cx="546.8" cy="413.0"/><circle cx="528.9" cy="438.8"/><circle cx="541.9" cy="422.4"/><circle cx="542.4" cy="466.5"/><circle cx="488.8" cy="446.4"/><circle cx="542.4" cy="414.0"/><circle cx="559.4" cy="436.1"/><circle cx="531.3" cy="453.1"/><circle cx="549.0" cy="457.0"/><circle cx="541.7" cy="436.4"/><circle cx="544.9" cy="463.9"/><circle cx="524.8" cy="410.3"/><circle cx="516.5" cy="433.8"/><circle cx="542.4" cy="462.0"/><circle cx="542.3" cy="452.3"/><circle cx="526.5" cy="447.2"/><circle cx="437.7" cy="404.2"/><circle cx="578.6" cy="446.9"/><circle cx="532.9" cy="465.5"/><circle cx="543.7" cy="453.1"/><circle cx="595.9" cy="423.8"/><circle cx="560.0" cy="458.9"/><circle cx="589.5" cy="440.0"/><circle cx="541.9" cy="407.6"/><circle cx="541.2" cy="410.9"/><circle cx="544.7" cy="448.1"/><circle cx="539.3" cy="433.6"/><circle cx="586.0" cy="441.4"/><circle cx="579.6" cy="425.3"/><circle cx="495.7" cy="410.3"/><circle cx="542.1" cy="458.5"/><circle cx="525.6" cy="444.0"/><circle cx="536.3" cy="460.8"/><circle cx="524.2" cy="458.2"/><circle cx="447.7" cy="417.9"/><circle cx="600.8" cy="429.5"/><circle cx="527.1" cy="436.2"/><circle cx="582.5" cy="440.1"/><circle cx="541.8" cy="437.6"/><circle cx="528.1" cy="454.5"/><circle cx="523.9" cy="400.1"/><circle cx="538.6" cy="456.7"/><circle cx="537.5" cy="438.6"/><circle cx="538.2" cy="444.3"/><circle cx="452.6" cy="423.3"/><circle cx="494.3" cy="437.6"/><circle cx="516.2" cy="441.7"/><circle cx="565.5" cy="454.1"/><circle cx="529.4" cy="467.7"/><circle cx="519.7" cy="444.7"/><circle cx="526.5" cy="448.7"/><circle cx="534.4" cy="466.4"/><circle cx="619.7" cy="408.6"/><circle cx="566.6" cy="429.2"/><circle cx="549.7" cy="457.1"/><circle cx="602.1" cy="426.4"/><circle cx="538.4" cy="446.6"/><circle cx="542.7" cy="406.1"/><circle cx="561.0" cy="452.6"/><circle cx="555.9" cy="442.9"/><circle cx="538.8" cy="449.9"/><circle cx="523.5" cy="394.7"/><circle cx="553.0" cy="452.2"/><circle cx="548.5" cy="463.1"/><circle cx="624.0" cy="411.5"/><circle cx="621.6" cy="412.9"/><circle cx="465.8" cy="426.1"/><circle cx="520.2" cy="456.1"/><circle cx="526.6" cy="428.5"/><circle cx="540.8" cy="444.5"/><circle cx="510.2" cy="448.2"/><circle cx="527.9" cy="431.7"/><circle cx="579.9" cy="441.8"/><circle cx="536.9" cy="458.0"/><circle cx="594.0" cy="434.5"/><circle cx="541.5" cy="465.8"/><circle cx="536.9" cy="449.2"/><circle cx="541.1" cy="463.2"/><circle cx="573.3" cy="447.5"/><circle cx="471.5" cy="439.0"/><circle cx="539.8" cy="409.2"/><circle cx="530.8" cy="444.0"/><circle cx="556.8" cy="452.4"/><circle cx="526.4" cy="444.7"/><circle cx="545.4" cy="427.2"/><circle cx="573.0" cy="448.2"/><circle cx="538.2" cy="438.3"/><circle cx="538.2" cy="466.9"/><circle cx="510.0" cy="443.7"/><circle cx="580.7" cy="434.6"/><circle cx="520.5" cy="434.3"/><circle cx="538.6" cy="422.3"/><circle cx="594.6" cy="433.5"/><circle cx="540.7" cy="425.7"/><circle cx="534.9" cy="466.7"/><circle cx="546.6" cy="453.7"/><circle cx="531.6" cy="451.9"/><circle cx="464.8" cy="408.6"/><circle cx="520.2" cy="445.7"/><circle cx="629.9" cy="400.5"/><circle cx="535.0" cy="460.6"/><circle cx="488.8" cy="449.4"/><circle cx="538.1" cy="436.1"/><circle cx="533.9" cy="468.5"/><circle cx="525.0" cy="411.9"/><circle cx="528.0" cy="437.8"/><circle cx="627.3" cy="406.2"/><circle cx="579.3" cy="439.7"/><circle cx="537.8" cy="451.5"/><circle cx="622.6" cy="393.7"/><circle cx="547.8" cy="464.9"/><circle cx="552.0" cy="441.0"/><circle cx="539.2" cy="468.2"/><circle cx="514.3" cy="443.2"/><circle cx="468.0" cy="435.4"/><circle cx="527.8" cy="426.5"/><circle cx="530.6" cy="452.5"/><circle cx="536.6" cy="458.4"/><circle cx="638.6" cy="400.9"/><circle cx="538.3" cy="439.2"/><circle cx="540.5" cy="448.6"/><circle cx="593.6" cy="436.4"/><circle cx="497.2" cy="454.9"/><circle cx="424.0" cy="394.2"/><circle cx="540.6" cy="418.6"/><circle cx="531.5" cy="449.7"/><circle cx="535.3" cy="464.3"/><circle cx="540.6" cy="443.2"/><circle cx="527.8" cy="453.5"/><circle cx="530.6" cy="447.3"/><circle cx="542.6" cy="442.6"/><circle cx="575.2" cy="419.9"/><circle cx="524.4" cy="409.3"/><circle cx="581.4" cy="435.0"/><circle cx="536.9" cy="448.1"/><circle cx="523.9" cy="441.3"/><circle cx="600.7" cy="430.4"/><circle cx="606.5" cy="427.2"/><circle cx="530.8" cy="458.4"/><circle cx="592.2" cy="434.4"/><circle cx="530.6" cy="455.2"/><circle cx="528.9" cy="447.3"/><circle cx="534.8" cy="464.1"/><circle cx="624.9" cy="411.2"/><circle cx="538.0" cy="452.3"/><circle cx="495.1" cy="450.2"/><circle cx="471.2" cy="437.8"/><circle cx="547.6" cy="465.0"/><circle cx="536.4" cy="460.5"/><circle cx="531.4" cy="462.8"/><circle cx="568.8" cy="449.6"/><circle cx="502.1" cy="438.5"/><circle cx="526.9" cy="431.4"/><circle cx="540.0" cy="447.0"/><circle cx="526.0" cy="458.1"/><circle cx="577.7" cy="443.7"/><circle cx="528.8" cy="443.0"/><circle cx="574.7" cy="447.8"/><circle cx="534.8" cy="463.9"/><circle cx="523.8" cy="449.2"/><circle cx="552.7" cy="461.2"/><circle cx="543.2" cy="409.5"/><circle cx="535.6" cy="459.2"/><circle cx="532.1" cy="459.5"/><circle cx="544.7" cy="453.3"/><circle cx="560.4" cy="438.9"/><circle cx="472.1" cy="426.8"/><circle cx="544.3" cy="448.0"/><circle cx="594.2" cy="434.3"/><circle cx="524.1" cy="407.3"/><circle cx="524.5" cy="467.8"/><circle cx="526.2" cy="439.5"/><circle cx="527.6" cy="417.1"/><circle cx="506.0" cy="441.9"/><circle cx="529.9" cy="437.7"/><circle cx="474.0" cy="441.0"/><circle cx="527.8" cy="410.6"/><circle cx="528.7" cy="433.0"/><circle cx="531.8" cy="460.8"/><circle cx="551.8" cy="453.0"/><circle cx="533.0" cy="466.6"/><circle cx="531.0" cy="452.1"/><circle cx="572.9" cy="444.0"/><circle cx="527.8" cy="431.0"/><circle cx="544.2" cy="444.6"/><circle cx="588.5" cy="439.7"/><circle cx="452.2" cy="410.3"/><circle cx="533.9" cy="468.5"/><circle cx="551.9" cy="459.4"/><circle cx="607.1" cy="425.6"/><circle cx="583.9" cy="429.5"/><circle cx="592.9" cy="437.9"/><circle cx="638.5" cy="397.4"/><circle cx="494.6" cy="453.8"/><circle cx="531.0" cy="445.2"/><circle cx="516.3" cy="422.9"/><circle cx="529.8" cy="438.9"/><circle cx="521.8" cy="446.9"/><circle cx="534.4" cy="466.0"/><circle cx="536.6" cy="456.6"/><circle cx="539.5" cy="415.8"/><circle cx="538.7" cy="448.7"/><circle cx="528.6" cy="447.2"/><circle cx="539.3" cy="449.7"/><circle cx="518.2" cy="453.5"/><circle cx="536.4" cy="453.5"/><circle cx="549.8" cy="458.4"/><circle cx="528.6" cy="411.9"/><circle cx="533.4" cy="466.5"/><circle cx="563.4" cy="451.4"/><circle cx="534.5" cy="466.3"/><circle cx="554.9" cy="450.3"/><circle cx="467.9" cy="436.0"/><circle cx="534.3" cy="467.1"/><circle cx="534.8" cy="463.1"/><circle cx="537.1" cy="445.2"/><circle cx="532.3" cy="459.3"/><circle cx="539.6" cy="417.5"/><circle cx="553.2" cy="462.4"/><circle cx="586.3" cy="441.4"/><circle cx="528.3" cy="432.1"/><circle cx="530.1" cy="442.2"/><circle cx="605.0" cy="422.9"/><circle cx="527.2" cy="450.7"/><circle cx="538.9" cy="418.7"/><circle cx="526.1" cy="453.2"/><circle cx="534.5" cy="466.1"/><circle cx="483.6" cy="445.4"/><circle cx="481.0" cy="443.3"/><circle cx="530.8" cy="447.9"/><circle cx="564.5" cy="451.2"/><circle cx="540.4" cy="442.4"/><circle cx="569.3" cy="445.3"/><circle cx="601.4" cy="430.5"/><circle cx="545.3" cy="426.2"/><circle cx="534.8" cy="462.8"/><circle cx="543.5" cy="452.5"/><circle cx="530.2" cy="434.8"/><circle cx="542.5" cy="399.3"/><circle cx="522.9" cy="402.6"/><circle cx="532.1" cy="463.8"/><circle cx="516.4" cy="453.3"/><circle cx="532.1" cy="463.6"/><circle cx="575.4" cy="437.7"/><circle cx="529.7" cy="468.4"/><circle cx="529.8" cy="443.7"/><circle cx="545.5" cy="410.6"/><circle cx="537.0" cy="447.1"/><circle cx="523.8" cy="413.5"/><circle cx="496.2" cy="441.2"/><circle cx="538.9" cy="441.4"/><circle cx="608.9" cy="423.5"/><circle cx="528.8" cy="438.8"/><circle cx="568.6" cy="445.6"/><circle cx="539.5" cy="434.1"/><circle cx="519.0" cy="455.8"/><circle cx="587.8" cy="430.8"/><circle cx="532.6" cy="464.9"/><circle cx="522.8" cy="430.9"/><circle cx="534.6" cy="464.4"/><circle cx="549.5" cy="445.3"/><circle cx="537.9" cy="440.6"/><circle cx="538.5" cy="420.4"/><circle cx="509.6" cy="450.0"/><circle cx="526.5" cy="439.1"/><circle cx="525.3" cy="431.1"/><circle cx="620.7" cy="413.4"/><circle cx="528.0" cy="451.3"/><circle cx="486.3" cy="435.0"/><circle cx="574.4" cy="446.5"/><circle cx="523.9" cy="421.2"/><circle cx="515.9" cy="463.1"/><circle cx="541.9" cy="407.8"/><circle cx="544.1" cy="413.4"/><circle cx="555.7" cy="430.2"/><circle cx="534.0" cy="468.1"/><circle cx="530.6" cy="450.1"/><circle cx="581.3" cy="443.2"/><circle cx="594.9" cy="433.9"/><circle cx="572.9" cy="448.5"/><circle cx="545.7" cy="463.5"/><circle cx="529.5" cy="449.1"/><circle cx="544.1" cy="414.1"/><circle cx="527.5" cy="448.2"/><circle cx="549.0" cy="437.7"/><circle cx="610.1" cy="417.0"/><circle cx="541.2" cy="432.3"/><circle cx="555.2" cy="460.8"/><circle cx="525.5" cy="437.5"/><circle cx="527.2" cy="414.3"/><circle cx="537.6" cy="451.6"/><circle cx="627.4" cy="402.2"/><circle cx="509.2" cy="453.5"/><circle cx="542.2" cy="461.7"/><circle cx="524.2" cy="459.8"/><circle cx="528.2" cy="454.9"/><circle cx="542.1" cy="433.2"/><circle cx="553.7" cy="447.1"/><circle cx="547.8" cy="459.8"/><circle cx="560.4" cy="455.4"/><circle cx="586.4" cy="438.8"/><circle cx="529.1" cy="440.0"/><circle cx="533.9" cy="468.4"/><circle cx="534.2" cy="466.9"/><circle cx="522.9" cy="438.7"/><circle cx="526.7" cy="417.8"/><circle cx="535.6" cy="463.3"/><circle cx="523.5" cy="424.6"/><circle cx="503.5" cy="452.8"/><circle cx="476.3" cy="432.3"/><circle cx="529.1" cy="442.8"/><circle cx="542.5" cy="424.0"/><circle cx="537.5" cy="432.0"/><circle cx="581.7" cy="443.7"/><circle cx="557.5" cy="444.2"/><circle cx="541.9" cy="466.0"/><circle cx="568.7" cy="409.2"/><circle cx="492.6" cy="453.4"/><circle cx="538.0" cy="458.9"/><circle cx="530.6" cy="440.5"/><circle cx="583.5" cy="441.5"/><circle cx="545.7" cy="465.1"/><circle cx="546.3" cy="462.8"/><circle cx="538.1" cy="436.6"/><circle cx="528.1" cy="451.2"/><circle cx="610.2" cy="422.3"/><circle cx="522.3" cy="420.0"/><circle cx="472.7" cy="438.1"/><circle cx="591.8" cy="437.3"/><circle cx="533.0" cy="466.0"/><circle cx="527.5" cy="412.3"/><circle cx="540.4" cy="438.8"/><circle cx="539.2" cy="436.5"/><circle cx="634.6" cy="404.3"/><circle cx="534.8" cy="466.6"/><circle cx="528.6" cy="415.8"/><circle cx="571.4" cy="409.8"/><circle cx="538.7" cy="445.6"/><circle cx="435.6" cy="406.8"/><circle cx="543.0" cy="398.1"/><circle cx="532.9" cy="464.2"/><circle cx="531.0" cy="462.4"/><circle cx="564.5" cy="428.7"/><circle cx="538.3" cy="428.4"/><circle cx="541.9" cy="423.6"/><circle cx="540.7" cy="443.3"/><circle cx="610.6" cy="420.0"/><circle cx="529.2" cy="454.6"/><circle cx="612.0" cy="421.0"/><circle cx="545.9" cy="412.2"/><circle cx="539.8" cy="465.0"/><circle cx="527.5" cy="422.7"/><circle cx="527.8" cy="413.5"/><circle cx="528.3" cy="455.6"/><circle cx="538.2" cy="454.4"/><circle cx="531.2" cy="468.2"/><circle cx="502.1" cy="445.9"/><circle cx="507.1" cy="445.2"/><circle cx="605.5" cy="425.8"/><circle cx="537.1" cy="444.0"/><circle cx="502.0" cy="450.0"/><circle cx="526.1" cy="443.5"/><circle cx="521.9" cy="407.5"/><circle cx="577.5" cy="424.8"/><circle cx="514.7" cy="459.1"/><circle cx="534.6" cy="463.8"/><circle cx="547.6" cy="404.9"/><circle cx="544.2" cy="426.1"/><circle cx="547.4" cy="407.5"/><circle cx="441.2" cy="412.4"/><circle cx="506.6" cy="425.9"/><circle cx="447.3" cy="418.0"/><circle cx="563.4" cy="455.1"/><circle cx="535.7" cy="459.9"/><circle cx="626.8" cy="406.0"/><circle cx="580.6" cy="434.2"/><circle cx="618.2" cy="417.8"/><circle cx="553.4" cy="432.8"/><circle cx="590.6" cy="433.4"/><circle cx="495.3" cy="455.1"/><circle cx="530.3" cy="445.2"/><circle cx="536.1" cy="457.8"/><circle cx="530.3" cy="455.3"/><circle cx="523.5" cy="429.2"/><circle cx="528.0" cy="430.2"/><circle cx="540.5" cy="402.7"/><circle cx="613.3" cy="422.1"/><circle cx="505.2" cy="437.1"/><circle cx="581.9" cy="442.7"/><circle cx="497.3" cy="441.0"/><circle cx="578.7" cy="400.8"/><circle cx="530.6" cy="459.7"/><circle cx="504.9" cy="453.0"/><circle cx="536.7" cy="446.1"/><circle cx="603.5" cy="429.4"/><circle cx="525.0" cy="463.1"/><circle cx="492.8" cy="431.0"/><circle cx="484.3" cy="432.6"/><circle cx="445.6" cy="401.4"/><circle cx="515.3" cy="427.8"/><circle cx="597.7" cy="432.7"/><circle cx="525.4" cy="426.8"/><circle cx="546.4" cy="449.9"/><circle cx="463.2" cy="433.3"/><circle cx="552.5" cy="454.5"/><circle cx="536.7" cy="454.8"/><circle cx="524.1" cy="429.4"/><circle cx="476.8" cy="421.2"/><circle cx="537.7" cy="443.9"/><circle cx="543.1" cy="411.8"/><circle cx="534.9" cy="466.6"/><circle cx="481.9" cy="442.4"/><circle cx="531.8" cy="457.8"/><circle cx="524.9" cy="449.4"/><circle cx="534.7" cy="463.0"/><circle cx="548.4" cy="436.2"/><circle cx="534.5" cy="465.1"/><circle cx="525.0" cy="463.5"/><circle cx="533.0" cy="465.5"/><circle cx="525.0" cy="453.0"/><circle cx="598.2" cy="425.1"/><circle cx="535.0" cy="462.2"/><circle cx="509.3" cy="456.7"/><circle cx="522.8" cy="417.8"/><circle cx="520.6" cy="458.5"/><circle cx="551.0" cy="429.7"/><circle cx="543.6" cy="410.9"/><circle cx="542.3" cy="450.8"/><circle cx="570.6" cy="446.4"/><circle cx="534.3" cy="466.5"/><circle cx="537.0" cy="456.7"/><circle cx="532.2" cy="461.3"/><circle cx="532.6" cy="465.9"/><circle cx="544.5" cy="451.4"/><circle cx="526.1" cy="440.2"/><circle cx="505.1" cy="453.3"/><circle cx="514.6" cy="454.3"/><circle cx="616.2" cy="416.1"/><circle cx="526.2" cy="453.0"/><circle cx="518.7" cy="440.6"/><circle cx="586.5" cy="442.2"/><circle cx="551.6" cy="462.8"/><circle cx="542.7" cy="464.7"/><circle cx="507.6" cy="451.3"/><circle cx="527.4" cy="441.4"/><circle cx="541.6" cy="425.6"/><circle cx="535.7" cy="454.1"/><circle cx="530.8" cy="450.4"/><circle cx="543.9" cy="368.9"/><circle cx="550.3" cy="459.4"/><circle cx="532.0" cy="460.4"/><circle cx="543.3" cy="446.0"/><circle cx="536.1" cy="460.2"/><circle cx="580.7" cy="446.1"/><circle cx="534.6" cy="466.3"/><circle cx="537.2" cy="452.8"/><circle cx="545.8" cy="465.9"/><circle cx="532.5" cy="465.7"/><circle cx="553.7" cy="454.2"/><circle cx="537.6" cy="467.2"/><circle cx="530.6" cy="454.2"/><circle cx="538.9" cy="440.2"/><circle cx="614.7" cy="419.0"/><circle cx="527.3" cy="411.7"/><circle cx="534.5" cy="465.3"/><circle cx="532.3" cy="465.7"/><circle cx="559.1" cy="441.0"/><circle cx="531.7" cy="455.3"/><circle cx="541.6" cy="447.1"/><circle cx="529.7" cy="430.1"/><circle cx="541.8" cy="422.7"/><circle cx="538.2" cy="443.5"/><circle cx="573.5" cy="438.7"/><circle cx="524.7" cy="408.8"/><circle cx="455.4" cy="426.1"/><circle cx="469.9" cy="438.3"/><circle cx="521.8" cy="401.2"/><circle cx="569.6" cy="433.2"/><circle cx="526.9" cy="407.5"/><circle cx="524.1" cy="456.1"/><circle cx="528.5" cy="456.1"/><circle cx="525.2" cy="404.9"/><circle cx="596.0" cy="426.9"/><circle cx="538.8" cy="436.2"/><circle cx="622.0" cy="413.7"/><circle cx="539.0" cy="417.1"/><circle cx="572.6" cy="428.4"/><circle cx="534.1" cy="467.8"/><circle cx="494.2" cy="433.5"/><circle cx="509.9" cy="444.9"/><circle cx="489.1" cy="437.8"/><circle cx="489.0" cy="440.2"/><circle cx="616.2" cy="406.0"/><circle cx="529.2" cy="454.9"/><circle cx="534.8" cy="466.2"/><circle cx="501.9" cy="450.4"/><circle cx="548.2" cy="431.3"/><circle cx="595.4" cy="432.7"/><circle cx="525.7" cy="446.5"/><circle cx="537.4" cy="460.0"/><circle cx="522.5" cy="414.5"/><circle cx="534.0" cy="468.0"/><circle cx="525.0" cy="405.0"/><circle cx="544.5" cy="445.7"/><circle cx="534.9" cy="465.0"/><circle cx="543.6" cy="413.9"/><circle cx="607.9" cy="423.5"/><circle cx="500.4" cy="454.2"/><circle cx="540.3" cy="450.2"/><circle cx="533.8" cy="467.3"/><circle cx="540.8" cy="425.7"/><circle cx="590.8" cy="439.3"/><circle cx="536.9" cy="440.6"/><circle cx="621.7" cy="406.8"/><circle cx="539.5" cy="452.6"/><circle cx="533.8" cy="468.7"/><circle cx="523.7" cy="441.7"/><circle cx="528.1" cy="412.2"/><circle cx="472.4" cy="439.7"/><circle cx="539.0" cy="417.3"/><circle cx="483.7" cy="421.1"/><circle cx="541.7" cy="412.7"/><circle cx="530.7" cy="461.5"/><circle cx="537.9" cy="432.1"/><circle cx="536.0" cy="460.7"/><circle cx="499.4" cy="447.9"/><circle cx="478.0" cy="426.5"/><circle cx="433.9" cy="403.1"/><circle cx="580.3" cy="437.3"/><circle cx="601.7" cy="428.2"/><circle cx="545.3" cy="429.0"/><circle cx="534.3" cy="466.6"/><circle cx="539.3" cy="437.6"/><circle cx="531.7" cy="456.7"/><circle cx="445.8" cy="418.4"/><circle cx="582.9" cy="432.7"/><circle cx="575.2" cy="438.7"/><circle cx="544.8" cy="388.1"/><circle cx="594.8" cy="431.2"/><circle cx="585.2" cy="439.2"/><circle cx="451.3" cy="412.3"/><circle cx="536.3" cy="463.9"/><circle cx="540.5" cy="424.4"/><circle cx="529.4" cy="435.7"/><circle cx="529.4" cy="429.8"/><circle cx="625.7" cy="412.3"/><circle cx="530.1" cy="452.8"/><circle cx="522.4" cy="443.2"/><circle cx="526.7" cy="449.7"/><circle cx="530.3" cy="448.9"/><circle cx="539.1" cy="426.9"/><circle cx="571.4" cy="447.0"/><circle cx="533.7" cy="468.1"/><circle cx="528.0" cy="432.8"/><circle cx="558.1" cy="449.5"/><circle cx="537.8" cy="438.3"/><circle cx="539.7" cy="467.7"/><circle cx="513.7" cy="439.4"/><circle cx="525.8" cy="427.6"/><circle cx="560.1" cy="422.1"/><circle cx="536.2" cy="462.9"/><circle cx="541.5" cy="438.7"/><circle cx="538.0" cy="447.7"/><circle cx="535.6" cy="464.8"/><circle cx="478.5" cy="408.4"/><circle cx="494.3" cy="440.3"/><circle cx="534.8" cy="463.3"/><circle cx="535.9" cy="466.8"/><circle cx="524.1" cy="424.5"/><circle cx="515.7" cy="458.1"/><circle cx="524.6" cy="441.3"/><circle cx="570.0" cy="438.9"/><circle cx="486.2" cy="446.2"/><circle cx="565.4" cy="442.8"/><circle cx="534.3" cy="466.1"/><circle cx="527.1" cy="413.2"/><circle cx="510.2" cy="449.3"/><circle cx="505.1" cy="435.0"/><circle cx="544.0" cy="437.6"/><circle cx="485.5" cy="445.8"/><circle cx="557.8" cy="443.5"/><circle cx="527.1" cy="424.3"/><circle cx="531.5" cy="454.7"/><circle cx="513.9" cy="429.3"/><circle cx="538.3" cy="443.6"/><circle cx="538.1" cy="441.1"/><circle cx="530.9" cy="458.3"/><circle cx="549.5" cy="375.1"/><circle cx="530.5" cy="457.6"/><circle cx="544.3" cy="445.5"/><circle cx="526.0" cy="445.7"/><circle cx="509.5" cy="450.6"/><circle cx="546.6" cy="451.9"/><circle cx="526.8" cy="449.6"/><circle cx="528.4" cy="430.4"/><circle cx="528.1" cy="406.4"/><circle cx="516.4" cy="447.4"/><circle cx="526.0" cy="453.4"/><circle cx="543.3" cy="402.7"/><circle cx="541.1" cy="394.1"/><circle cx="530.8" cy="445.6"/><circle cx="588.2" cy="440.6"/><circle cx="539.0" cy="427.3"/><circle cx="537.2" cy="461.4"/><circle cx="578.5" cy="425.9"/><circle cx="516.6" cy="453.8"/><circle cx="566.0" cy="452.4"/><circle cx="536.6" cy="455.3"/><circle cx="571.4" cy="452.0"/><circle cx="546.9" cy="407.0"/><circle cx="504.6" cy="440.8"/><circle cx="538.6" cy="432.3"/><circle cx="531.5" cy="450.1"/><circle cx="515.2" cy="424.5"/><circle cx="534.5" cy="467.0"/><circle cx="622.4" cy="411.4"/><circle cx="563.7" cy="454.7"/><circle cx="602.5" cy="427.0"/><circle cx="529.6" cy="450.1"/><circle cx="531.2" cy="447.4"/><circle cx="526.0" cy="439.9"/><circle cx="543.4" cy="392.5"/><circle cx="520.0" cy="423.1"/><circle cx="567.2" cy="447.5"/><circle cx="526.9" cy="438.9"/><circle cx="526.1" cy="406.2"/><circle cx="533.5" cy="467.4"/><circle cx="499.3" cy="446.2"/><circle cx="539.6" cy="461.9"/><circle cx="507.5" cy="453.4"/><circle cx="487.2" cy="428.4"/><circle cx="530.0" cy="466.7"/><circle cx="544.1" cy="387.9"/><circle cx="539.1" cy="427.4"/><circle cx="568.6" cy="419.6"/><circle cx="591.2" cy="437.7"/><circle cx="520.4" cy="449.4"/><circle cx="519.3" cy="465.2"/><circle cx="562.3" cy="454.7"/><circle cx="536.2" cy="459.6"/><circle cx="535.9" cy="453.9"/><circle cx="534.8" cy="464.7"/><circle cx="544.5" cy="449.6"/><circle cx="534.9" cy="466.2"/><circle cx="516.9" cy="434.6"/><circle cx="522.9" cy="445.0"/><circle cx="543.1" cy="439.4"/><circle cx="565.8" cy="451.4"/><circle cx="546.5" cy="454.9"/><circle cx="528.8" cy="440.4"/><circle cx="557.9" cy="450.0"/><circle cx="511.7" cy="463.6"/><circle cx="533.3" cy="465.9"/><circle cx="448.2" cy="414.2"/><circle cx="545.0" cy="430.1"/><circle cx="555.0" cy="459.0"/><circle cx="538.4" cy="457.0"/><circle cx="530.6" cy="442.5"/><circle cx="532.8" cy="463.8"/><circle cx="581.8" cy="440.5"/><circle cx="572.0" cy="448.5"/><circle cx="590.1" cy="435.4"/><circle cx="492.6" cy="450.4"/><circle cx="528.8" cy="430.4"/><circle cx="532.5" cy="459.7"/><circle cx="528.4" cy="445.7"/><circle cx="529.0" cy="420.1"/><circle cx="483.0" cy="440.0"/><circle cx="520.4" cy="394.7"/><circle cx="526.1" cy="423.2"/><circle cx="491.0" cy="446.0"/><circle cx="481.7" cy="437.0"/><circle cx="523.7" cy="442.9"/><circle cx="533.2" cy="466.6"/><circle cx="565.7" cy="455.5"/><circle cx="543.9" cy="453.3"/><circle cx="525.8" cy="428.0"/><circle cx="518.9" cy="449.1"/><circle cx="542.4" cy="420.1"/><circle cx="516.9" cy="445.7"/><circle cx="596.0" cy="434.1"/><circle cx="564.7" cy="451.7"/><circle cx="537.3" cy="439.0"/><circle cx="525.5" cy="401.0"/><circle cx="530.5" cy="468.4"/><circle cx="535.8" cy="456.1"/><circle cx="528.7" cy="438.9"/><circle cx="527.1" cy="449.6"/><circle cx="534.1" cy="467.8"/><circle cx="554.0" cy="443.0"/><circle cx="570.3" cy="442.9"/><circle cx="534.3" cy="467.3"/><circle cx="604.7" cy="429.2"/><circle cx="532.0" cy="456.7"/><circle cx="482.0" cy="445.1"/><circle cx="503.8" cy="452.9"/><circle cx="527.6" cy="464.8"/><circle cx="542.1" cy="429.7"/><circle cx="548.8" cy="419.6"/><circle cx="530.2" cy="447.4"/><circle cx="452.8" cy="423.0"/><circle cx="530.8" cy="468.7"/><circle cx="528.3" cy="413.4"/><circle cx="533.2" cy="467.1"/><circle cx="527.6" cy="408.8"/><circle cx="532.4" cy="458.8"/><circle cx="536.3" cy="461.0"/><circle cx="592.4" cy="433.6"/><circle cx="591.3" cy="436.0"/><circle cx="532.2" cy="462.6"/><circle cx="492.3" cy="428.2"/><circle cx="562.2" cy="456.5"/><circle cx="556.8" cy="460.3"/><circle cx="599.3" cy="431.8"/><circle cx="555.4" cy="440.5"/><circle cx="529.7" cy="456.3"/><circle cx="524.7" cy="426.2"/><circle cx="525.7" cy="453.2"/><circle cx="523.0" cy="406.9"/><circle cx="540.0" cy="434.0"/><circle cx="528.1" cy="454.7"/><circle cx="531.7" cy="468.4"/><circle cx="516.9" cy="459.2"/><circle cx="615.1" cy="420.1"/><circle cx="536.0" cy="457.7"/><circle cx="548.4" cy="448.3"/><circle cx="561.4" cy="399.0"/><circle cx="539.5" cy="463.7"/><circle cx="544.9" cy="430.3"/><circle cx="524.4" cy="459.6"/><circle cx="504.8" cy="459.2"/><circle cx="557.5" cy="444.9"/><circle cx="528.9" cy="431.6"/><circle cx="541.1" cy="406.1"/><circle cx="527.0" cy="439.0"/><circle cx="496.3" cy="456.0"/><circle cx="543.1" cy="419.9"/><circle cx="524.5" cy="445.0"/><circle cx="526.4" cy="416.1"/><circle cx="436.2" cy="407.4"/><circle cx="532.2" cy="459.6"/><circle cx="598.9" cy="431.8"/><circle cx="529.5" cy="431.5"/><circle cx="584.3" cy="442.3"/><circle cx="537.9" cy="455.4"/><circle cx="530.8" cy="451.5"/><circle cx="543.9" cy="427.9"/><circle cx="599.1" cy="428.9"/><circle cx="528.5" cy="443.2"/><circle cx="546.0" cy="421.6"/><circle cx="528.6" cy="424.8"/><circle cx="529.2" cy="457.2"/><circle cx="526.0" cy="424.7"/><circle cx="534.2" cy="467.2"/><circle cx="538.3" cy="436.9"/><circle cx="527.7" cy="441.0"/><circle cx="521.9" cy="412.2"/><circle cx="570.4" cy="445.2"/><circle cx="577.6" cy="439.3"/><circle cx="528.0" cy="427.3"/><circle cx="562.6" cy="453.1"/><circle cx="469.4" cy="435.8"/><circle cx="542.5" cy="409.4"/><circle cx="543.2" cy="441.6"/><circle cx="505.3" cy="438.1"/><circle cx="529.3" cy="430.5"/><circle cx="529.6" cy="465.6"/><circle cx="534.4" cy="466.8"/><circle cx="528.8" cy="416.6"/><circle cx="527.0" cy="450.1"/><circle cx="479.4" cy="439.5"/><circle cx="540.6" cy="420.0"/><circle cx="537.2" cy="441.2"/><circle cx="539.8" cy="418.9"/><circle cx="538.1" cy="441.7"/><circle cx="574.5" cy="448.4"/><circle cx="522.0" cy="422.7"/><circle cx="614.6" cy="415.8"/><circle cx="527.4" cy="450.4"/><circle cx="569.3" cy="429.5"/><circle cx="463.6" cy="392.4"/><circle cx="526.8" cy="440.6"/><circle cx="523.1" cy="454.6"/><circle cx="536.2" cy="462.6"/><circle cx="536.2" cy="450.6"/><circle cx="525.4" cy="409.1"/><circle cx="550.8" cy="459.3"/><circle cx="533.7" cy="468.7"/><circle cx="535.4" cy="463.1"/><circle cx="532.4" cy="465.2"/><circle cx="538.9" cy="447.6"/><circle cx="514.5" cy="446.4"/><circle cx="562.1" cy="453.8"/><circle cx="533.2" cy="465.7"/><circle cx="528.0" cy="454.5"/><circle cx="528.8" cy="450.5"/><circle cx="520.5" cy="403.4"/><circle cx="497.0" cy="431.3"/><circle cx="574.2" cy="427.4"/><circle cx="549.6" cy="439.4"/><circle cx="497.1" cy="455.3"/><circle cx="599.3" cy="430.1"/><circle cx="586.1" cy="439.7"/><circle cx="523.8" cy="406.5"/><circle cx="515.4" cy="446.4"/><circle cx="535.2" cy="461.1"/><circle cx="613.2" cy="418.4"/><circle cx="542.3" cy="442.9"/><circle cx="533.7" cy="468.0"/><circle cx="540.5" cy="451.0"/><circle cx="529.7" cy="459.3"/><circle cx="494.2" cy="442.3"/><circle cx="510.5" cy="446.9"/><circle cx="527.6" cy="432.7"/><circle cx="541.4" cy="412.4"/><circle cx="528.7" cy="449.1"/><circle cx="524.8" cy="418.9"/><circle cx="508.6" cy="459.9"/><circle cx="557.3" cy="453.4"/><circle cx="554.7" cy="457.5"/><circle cx="525.7" cy="408.3"/><circle cx="534.1" cy="468.0"/><circle cx="535.4" cy="462.2"/><circle cx="594.0" cy="430.0"/><circle cx="532.8" cy="465.1"/><circle cx="535.8" cy="459.8"/><circle cx="600.1" cy="426.9"/><circle cx="522.4" cy="433.5"/><circle cx="593.3" cy="433.3"/><circle cx="533.1" cy="465.8"/><circle cx="526.7" cy="427.0"/><circle cx="542.6" cy="441.2"/><circle cx="511.9" cy="411.3"/><circle cx="520.9" cy="461.4"/><circle cx="559.2" cy="457.8"/><circle cx="538.2" cy="443.9"/><circle cx="556.0" cy="458.1"/><circle cx="527.5" cy="439.3"/><circle cx="547.3" cy="463.0"/><circle cx="563.6" cy="435.1"/><circle cx="522.2" cy="424.3"/><circle cx="533.8" cy="468.5"/><circle cx="533.5" cy="468.2"/><circle cx="535.5" cy="458.1"/><circle cx="553.3" cy="444.2"/><circle cx="551.4" cy="462.6"/><circle cx="561.9" cy="388.2"/><circle cx="621.3" cy="413.4"/><circle cx="537.6" cy="467.8"/><circle cx="526.7" cy="422.6"/><circle cx="528.3" cy="462.3"/><circle cx="540.9" cy="429.9"/><circle cx="529.9" cy="431.0"/><circle cx="549.9" cy="452.7"/><circle cx="516.3" cy="442.8"/><circle cx="467.3" cy="435.5"/><circle cx="531.3" cy="457.7"/><circle cx="529.0" cy="441.0"/><circle cx="547.6" cy="435.0"/><circle cx="595.8" cy="425.9"/><circle cx="523.4" cy="387.5"/><circle cx="539.5" cy="455.0"/><circle cx="540.6" cy="453.3"/><circle cx="541.1" cy="459.1"/><circle cx="526.9" cy="438.7"/><circle cx="535.0" cy="465.2"/><circle cx="544.7" cy="418.5"/><circle cx="549.9" cy="443.8"/><circle cx="543.8" cy="433.5"/><circle cx="542.0" cy="414.8"/><circle cx="627.8" cy="407.9"/><circle cx="531.0" cy="447.9"/><circle cx="542.9" cy="414.1"/><circle cx="602.6" cy="430.0"/><circle cx="547.4" cy="429.2"/><circle cx="545.9" cy="456.9"/><circle cx="569.1" cy="448.9"/><circle cx="540.7" cy="408.7"/><circle cx="526.3" cy="463.2"/><circle cx="475.5" cy="434.2"/><circle cx="535.4" cy="467.9"/><circle cx="486.9" cy="448.4"/><circle cx="555.7" cy="439.1"/><circle cx="528.6" cy="461.9"/><circle cx="529.3" cy="441.3"/><circle cx="547.0" cy="410.1"/><circle cx="546.8" cy="450.5"/><circle cx="535.8" cy="465.2"/><circle cx="556.6" cy="414.5"/><circle cx="538.8" cy="451.6"/><circle cx="502.4" cy="458.9"/><circle cx="594.3" cy="435.9"/><circle cx="538.4" cy="458.9"/><circle cx="541.1" cy="405.8"/><circle cx="534.2" cy="467.7"/><circle cx="531.9" cy="464.3"/><circle cx="545.0" cy="454.6"/><circle cx="531.1" cy="461.3"/><circle cx="567.0" cy="444.6"/><circle cx="538.4" cy="455.4"/><circle cx="543.9" cy="435.6"/><circle cx="535.1" cy="465.8"/><circle cx="528.1" cy="430.3"/><circle cx="505.7" cy="448.7"/><circle cx="553.0" cy="431.1"/><circle cx="619.2" cy="416.2"/><circle cx="451.9" cy="417.5"/><circle cx="532.4" cy="464.5"/><circle cx="536.0" cy="452.5"/><circle cx="529.9" cy="439.8"/><circle cx="576.2" cy="447.0"/><circle cx="560.0" cy="442.1"/><circle cx="539.8" cy="452.1"/><circle cx="569.4" cy="445.2"/><circle cx="548.7" cy="460.7"/><circle cx="610.4" cy="421.6"/><circle cx="536.9" cy="457.6"/><circle cx="532.5" cy="460.3"/><circle cx="534.3" cy="466.6"/><circle cx="546.7" cy="459.4"/><circle cx="504.4" cy="456.7"/><circle cx="538.2" cy="423.5"/><circle cx="537.5" cy="453.7"/><circle cx="525.1" cy="432.2"/><circle cx="531.2" cy="461.5"/><circle cx="524.1" cy="450.8"/><circle cx="499.4" cy="420.1"/><circle cx="442.0" cy="413.5"/><circle cx="536.6" cy="460.6"/><circle cx="557.5" cy="433.3"/><circle cx="530.1" cy="447.1"/><circle cx="509.2" cy="440.1"/><circle cx="537.9" cy="426.5"/><circle cx="575.3" cy="444.9"/><circle cx="542.5" cy="442.1"/><circle cx="528.8" cy="454.1"/><circle cx="530.4" cy="445.8"/><circle cx="499.7" cy="441.2"/><circle cx="614.4" cy="415.6"/><circle cx="483.6" cy="443.4"/><circle cx="534.8" cy="465.3"/><circle cx="528.8" cy="418.4"/><circle cx="524.0" cy="465.3"/><circle cx="484.0" cy="433.2"/><circle cx="616.0" cy="407.9"/><circle cx="504.9" cy="443.3"/><circle cx="579.8" cy="444.1"/><circle cx="529.7" cy="452.9"/><circle cx="636.8" cy="399.5"/><circle cx="543.0" cy="433.9"/><circle cx="547.3" cy="453.7"/><circle cx="561.7" cy="424.8"/><circle cx="604.5" cy="423.1"/><circle cx="528.2" cy="436.9"/><circle cx="518.3" cy="465.3"/><circle cx="536.8" cy="454.4"/><circle cx="538.2" cy="451.5"/><circle cx="529.0" cy="416.9"/><circle cx="523.1" cy="457.5"/><circle cx="546.6" cy="444.4"/><circle cx="544.0" cy="450.1"/><circle cx="504.4" cy="432.9"/><circle cx="532.6" cy="466.0"/><circle cx="531.0" cy="450.9"/><circle cx="521.7" cy="410.9"/><circle cx="529.8" cy="445.6"/><circle cx="562.9" cy="450.6"/><circle cx="543.6" cy="435.4"/><circle cx="508.9" cy="452.9"/><circle cx="536.0" cy="462.0"/><circle cx="542.1" cy="439.7"/><circle cx="557.5" cy="458.1"/><circle cx="526.4" cy="421.1"/><circle cx="528.4" cy="456.9"/><circle cx="582.4" cy="433.0"/><circle cx="566.7" cy="425.8"/><circle cx="539.8" cy="458.5"/><circle cx="526.7" cy="434.7"/><circle cx="534.8" cy="465.6"/><circle cx="573.5" cy="448.0"/><circle cx="529.2" cy="447.4"/><circle cx="517.2" cy="440.8"/><circle cx="589.6" cy="438.2"/><circle cx="599.2" cy="423.1"/><circle cx="522.7" cy="466.6"/><circle cx="440.3" cy="399.9"/><circle cx="591.6" cy="435.6"/><circle cx="526.6" cy="451.1"/><circle cx="574.6" cy="427.0"/><circle cx="541.6" cy="407.0"/><circle cx="557.0" cy="438.1"/><circle cx="530.0" cy="434.6"/><circle cx="579.6" cy="442.5"/><circle cx="524.5" cy="447.1"/><circle cx="592.4" cy="431.9"/><circle cx="562.2" cy="457.3"/><circle cx="523.9" cy="432.2"/><circle cx="531.3" cy="457.6"/><circle cx="532.3" cy="459.5"/><circle cx="536.1" cy="458.4"/><circle cx="520.1" cy="455.9"/><circle cx="466.5" cy="434.7"/><circle cx="483.2" cy="431.1"/><circle cx="534.9" cy="463.4"/><circle cx="542.0" cy="440.1"/><circle cx="535.5" cy="459.4"/><circle cx="532.9" cy="464.9"/><circle cx="431.5" cy="401.3"/><circle cx="528.3" cy="419.6"/><circle cx="527.6" cy="443.8"/><circle cx="552.4" cy="462.0"/><circle cx="477.5" cy="439.8"/><circle cx="538.7" cy="432.7"/><circle cx="542.1" cy="410.9"/><circle cx="530.9" cy="444.3"/><circle cx="525.8" cy="431.7"/><circle cx="506.9" cy="436.8"/><circle cx="498.8" cy="454.9"/><circle cx="550.5" cy="437.9"/><circle cx="539.1" cy="446.3"/><circle cx="532.5" cy="460.1"/><circle cx="537.9" cy="444.2"/><circle cx="568.9" cy="437.0"/><circle cx="441.5" cy="409.0"/><circle cx="442.6" cy="413.3"/><circle cx="548.8" cy="463.4"/><circle cx="528.6" cy="431.0"/><circle cx="505.0" cy="446.2"/><circle cx="532.5" cy="464.0"/><circle cx="523.2" cy="426.0"/><circle cx="506.4" cy="453.4"/><circle cx="531.3" cy="453.3"/><circle cx="493.4" cy="453.8"/><circle cx="525.7" cy="432.4"/><circle cx="539.0" cy="422.2"/><circle cx="525.2" cy="415.4"/><circle cx="536.6" cy="444.6"/><circle cx="534.8" cy="464.5"/><circle cx="539.9" cy="438.1"/><circle cx="629.0" cy="409.6"/><circle cx="524.5" cy="422.7"/><circle cx="529.4" cy="427.3"/><circle cx="507.4" cy="448.8"/><circle cx="527.7" cy="435.1"/><circle cx="534.6" cy="464.9"/><circle cx="536.3" cy="447.0"/><circle cx="523.4" cy="417.2"/><circle cx="603.0" cy="428.7"/><circle cx="532.3" cy="461.8"/><circle cx="562.5" cy="456.7"/><circle cx="507.0" cy="460.3"/><circle cx="531.3" cy="452.1"/><circle cx="533.1" cy="466.5"/><circle cx="544.4" cy="411.6"/><circle cx="533.0" cy="464.3"/><circle cx="545.0" cy="420.7"/><circle cx="568.5" cy="428.1"/><circle cx="528.7" cy="439.8"/><circle cx="472.4" cy="430.1"/><circle cx="500.5" cy="447.1"/><circle cx="528.3" cy="447.8"/><circle cx="538.7" cy="449.9"/><circle cx="538.1" cy="452.6"/><circle cx="537.5" cy="452.8"/><circle cx="536.6" cy="449.3"/><circle cx="505.3" cy="457.7"/><circle cx="530.6" cy="439.4"/><circle cx="535.9" cy="454.7"/><circle cx="529.6" cy="454.2"/><circle cx="565.3" cy="453.3"/><circle cx="574.5" cy="427.8"/><circle cx="595.9" cy="435.5"/><circle cx="554.1" cy="458.2"/><circle cx="536.3" cy="454.5"/><circle cx="529.2" cy="419.8"/><circle cx="454.4" cy="425.4"/><circle cx="548.7" cy="461.5"/><circle cx="565.9" cy="440.2"/><circle cx="514.1" cy="442.6"/><circle cx="539.1" cy="438.3"/><circle cx="521.1" cy="464.0"/><circle cx="446.9" cy="412.6"/><circle cx="537.9" cy="428.7"/><circle cx="550.4" cy="449.8"/><circle cx="539.4" cy="413.2"/><circle cx="527.2" cy="399.4"/><circle cx="524.4" cy="425.7"/><circle cx="470.4" cy="425.3"/><circle cx="555.9" cy="444.1"/><circle cx="506.3" cy="459.9"/><circle cx="528.3" cy="452.2"/><circle cx="516.1" cy="450.4"/><circle cx="545.5" cy="448.0"/><circle cx="532.9" cy="464.1"/><circle cx="599.2" cy="432.7"/><circle cx="580.8" cy="440.3"/><circle cx="527.0" cy="450.8"/><circle cx="532.4" cy="460.9"/><circle cx="539.6" cy="446.2"/><circle cx="551.7" cy="441.3"/><circle cx="589.7" cy="438.2"/><circle cx="538.1" cy="467.6"/><circle cx="529.4" cy="424.4"/><circle cx="568.8" cy="450.0"/><circle cx="577.3" cy="443.9"/><circle cx="505.4" cy="460.3"/><circle cx="536.1" cy="463.7"/><circle cx="477.5" cy="441.3"/><circle cx="522.9" cy="427.7"/><circle cx="541.4" cy="460.7"/><circle cx="493.9" cy="446.5"/><circle cx="538.5" cy="433.9"/><circle cx="536.8" cy="451.5"/><circle cx="574.2" cy="450.4"/><circle cx="562.9" cy="453.4"/><circle cx="531.6" cy="450.4"/><circle cx="519.9" cy="465.9"/><circle cx="513.9" cy="456.8"/><circle cx="525.6" cy="429.1"/><circle cx="528.7" cy="428.5"/><circle cx="545.4" cy="423.4"/><circle cx="528.2" cy="453.4"/><circle cx="534.6" cy="464.1"/><circle cx="445.4" cy="402.9"/><circle cx="531.9" cy="455.3"/><circle cx="526.6" cy="423.9"/><circle cx="538.1" cy="457.0"/><circle cx="533.5" cy="468.0"/><circle cx="536.4" cy="464.9"/><circle cx="503.1" cy="435.9"/><circle cx="558.0" cy="451.3"/><circle cx="540.2" cy="409.7"/><circle cx="516.2" cy="448.0"/><circle cx="546.7" cy="415.0"/><circle cx="550.5" cy="412.3"/><circle cx="530.5" cy="449.3"/><circle cx="512.0" cy="445.0"/><circle cx="531.0" cy="459.6"/><circle cx="616.5" cy="412.3"/><circle cx="513.2" cy="442.2"/><circle cx="594.9" cy="430.6"/><circle cx="498.8" cy="444.0"/><circle cx="587.0" cy="439.0"/><circle cx="542.9" cy="414.0"/><circle cx="533.6" cy="467.8"/><circle cx="570.0" cy="449.9"/><circle cx="559.4" cy="459.2"/><circle cx="540.3" cy="411.9"/><circle cx="528.8" cy="456.4"/><circle cx="574.7" cy="443.8"/><circle cx="538.6" cy="440.9"/><circle cx="483.1" cy="443.0"/><circle cx="487.0" cy="427.8"/><circle cx="536.4" cy="449.5"/><circle cx="489.7" cy="436.8"/><circle cx="537.7" cy="455.0"/><circle cx="529.2" cy="452.1"/><circle cx="536.5" cy="452.6"/><circle cx="534.3" cy="468.8"/><circle cx="532.5" cy="464.0"/><circle cx="583.3" cy="434.4"/><circle cx="565.5" cy="455.5"/><circle cx="461.1" cy="389.8"/><circle cx="520.2" cy="406.2"/><circle cx="588.9" cy="439.5"/><circle cx="525.6" cy="384.9"/><circle cx="535.4" cy="460.2"/><circle cx="525.3" cy="432.9"/><circle cx="531.4" cy="462.8"/><circle cx="534.5" cy="465.3"/><circle cx="527.4" cy="452.5"/><circle cx="496.5" cy="447.3"/><circle cx="491.0" cy="442.0"/><circle cx="525.9" cy="404.9"/><circle cx="532.2" cy="460.9"/><circle cx="540.1" cy="413.6"/><circle cx="444.0" cy="411.7"/><circle cx="540.1" cy="452.8"/><circle cx="515.7" cy="451.4"/><circle cx="516.4" cy="463.9"/><circle cx="629.7" cy="405.3"/><circle cx="529.7" cy="459.0"/><circle cx="624.2" cy="405.1"/><circle cx="541.7" cy="446.6"/><circle cx="538.4" cy="422.1"/><circle cx="577.2" cy="446.1"/><circle cx="531.7" cy="463.8"/><circle cx="608.6" cy="419.4"/><circle cx="535.7" cy="463.3"/><circle cx="539.2" cy="446.1"/><circle cx="534.9" cy="464.3"/><circle cx="573.3" cy="444.5"/><circle cx="574.8" cy="445.3"/><circle cx="535.3" cy="462.0"/><circle cx="583.2" cy="432.4"/><circle cx="539.4" cy="458.4"/><circle cx="529.3" cy="458.2"/><circle cx="603.1" cy="424.3"/><circle cx="597.3" cy="427.9"/><circle cx="539.3" cy="416.0"/><circle cx="536.1" cy="454.5"/><circle cx="530.4" cy="457.8"/><circle cx="522.3" cy="410.9"/><circle cx="499.6" cy="456.8"/><circle cx="494.2" cy="442.2"/><circle cx="490.3" cy="451.6"/><circle cx="602.2" cy="403.9"/><circle cx="524.6" cy="457.3"/><circle cx="527.2" cy="423.5"/><circle cx="506.5" cy="437.4"/><circle cx="536.2" cy="463.9"/><circle cx="580.2" cy="439.3"/><circle cx="540.6" cy="430.8"/><circle cx="612.1" cy="423.3"/><circle cx="537.1" cy="461.2"/><circle cx="538.6" cy="453.7"/><circle cx="479.6" cy="401.1"/><circle cx="529.2" cy="457.1"/><circle cx="535.0" cy="460.8"/><circle cx="557.0" cy="438.8"/><circle cx="535.1" cy="463.1"/><circle cx="547.2" cy="461.8"/><circle cx="507.9" cy="443.5"/><circle cx="527.5" cy="446.5"/><circle cx="490.3" cy="438.2"/><circle cx="535.4" cy="458.2"/><circle cx="529.0" cy="432.3"/><circle cx="541.0" cy="449.0"/><circle cx="611.9" cy="423.3"/><circle cx="528.2" cy="408.5"/><circle cx="534.4" cy="467.2"/><circle cx="526.4" cy="404.1"/><circle cx="525.8" cy="450.9"/><circle cx="538.4" cy="450.0"/><circle cx="477.3" cy="442.3"/><circle cx="527.9" cy="436.9"/><circle cx="609.4" cy="416.4"/><circle cx="529.5" cy="440.2"/><circle cx="509.4" cy="442.6"/><circle cx="513.1" cy="438.2"/><circle cx="586.7" cy="439.6"/><circle cx="525.0" cy="422.9"/><circle cx="624.7" cy="403.1"/><circle cx="537.6" cy="456.8"/><circle cx="531.0" cy="451.1"/><circle cx="578.4" cy="446.9"/><circle cx="537.4" cy="448.4"/><circle cx="572.5" cy="450.5"/><circle cx="462.9" cy="429.5"/><circle cx="594.0" cy="427.6"/><circle cx="542.7" cy="445.1"/><circle cx="558.2" cy="404.8"/><circle cx="534.2" cy="466.9"/><circle cx="539.5" cy="408.9"/><circle cx="489.9" cy="433.2"/><circle cx="536.2" cy="455.7"/><circle cx="530.0" cy="456.1"/><circle cx="506.6" cy="459.7"/><circle cx="495.0" cy="446.0"/><circle cx="543.1" cy="464.5"/><circle cx="528.5" cy="424.9"/><circle cx="630.6" cy="406.9"/><circle cx="543.8" cy="431.1"/><circle cx="481.7" cy="443.5"/><circle cx="533.6" cy="468.1"/><circle cx="524.1" cy="421.8"/><circle cx="539.8" cy="425.6"/><circle cx="514.4" cy="423.6"/><circle cx="541.9" cy="422.8"/><circle cx="529.4" cy="437.5"/><circle cx="541.0" cy="425.0"/><circle cx="531.9" cy="457.7"/><circle cx="536.9" cy="467.2"/><circle cx="544.3" cy="410.7"/><circle cx="551.7" cy="445.7"/><circle cx="536.9" cy="454.4"/><circle cx="539.8" cy="459.6"/><circle cx="537.3" cy="443.8"/><circle cx="531.0" cy="449.7"/><circle cx="526.2" cy="420.4"/><circle cx="530.9" cy="447.5"/><circle cx="541.6" cy="446.3"/><circle cx="531.3" cy="458.4"/><circle cx="529.8" cy="434.1"/><circle cx="618.5" cy="411.6"/><circle cx="477.5" cy="437.9"/><circle cx="532.5" cy="461.7"/><circle cx="553.6" cy="458.3"/><circle cx="537.9" cy="427.0"/><circle cx="542.9" cy="427.1"/><circle cx="536.8" cy="454.5"/><circle cx="558.2" cy="459.7"/><circle cx="531.8" cy="456.8"/><circle cx="543.0" cy="431.5"/><circle cx="560.3" cy="456.0"/><circle cx="532.0" cy="455.8"/><circle cx="564.0" cy="454.6"/><circle cx="513.6" cy="460.2"/><circle cx="531.3" cy="459.1"/><circle cx="527.9" cy="436.9"/><circle cx="536.9" cy="461.4"/><circle cx="537.6" cy="438.6"/><circle cx="535.0" cy="462.3"/><circle cx="515.0" cy="464.7"/><circle cx="528.8" cy="466.7"/><circle cx="493.8" cy="449.3"/><circle cx="531.3" cy="461.9"/><circle cx="542.8" cy="434.9"/><circle cx="522.2" cy="427.3"/><circle cx="495.2" cy="443.9"/><circle cx="591.0" cy="408.8"/><circle cx="525.5" cy="430.5"/><circle cx="540.5" cy="466.4"/><circle cx="623.5" cy="408.6"/><circle cx="575.3" cy="443.6"/><circle cx="524.7" cy="447.5"/><circle cx="528.7" cy="411.2"/><circle cx="609.8" cy="408.7"/><circle cx="530.5" cy="458.7"/><circle cx="535.4" cy="460.1"/><circle cx="491.9" cy="450.4"/><circle cx="529.1" cy="448.5"/><circle cx="540.8" cy="423.9"/><circle cx="541.2" cy="410.7"/><circle cx="556.6" cy="452.2"/><circle cx="526.9" cy="380.5"/><circle cx="559.6" cy="457.8"/><circle cx="536.7" cy="457.4"/><circle cx="467.9" cy="432.7"/><circle cx="619.1" cy="415.6"/><circle cx="585.0" cy="435.1"/><circle cx="538.0" cy="455.9"/><circle cx="542.2" cy="442.7"/><circle cx="546.6" cy="417.5"/><circle cx="541.3" cy="429.0"/><circle cx="522.8" cy="422.0"/><circle cx="541.0" cy="404.1"/><circle cx="529.1" cy="441.1"/><circle cx="446.0" cy="404.1"/><circle cx="582.2" cy="441.1"/><circle cx="538.2" cy="427.9"/><circle cx="545.4" cy="440.6"/><circle cx="584.4" cy="404.8"/><circle cx="540.3" cy="398.0"/><circle cx="530.4" cy="440.4"/><circle cx="590.9" cy="438.8"/><circle cx="580.6" cy="441.9"/><circle cx="525.5" cy="459.1"/><circle cx="540.1" cy="451.1"/><circle cx="530.7" cy="453.6"/><circle cx="532.4" cy="459.7"/><circle cx="503.2" cy="427.9"/><circle cx="610.5" cy="424.7"/><circle cx="525.2" cy="429.2"/><circle cx="491.8" cy="452.1"/><circle cx="531.8" cy="462.8"/><circle cx="548.1" cy="460.1"/><circle cx="532.0" cy="464.7"/><circle cx="541.2" cy="437.0"/><circle cx="482.4" cy="445.2"/><circle cx="517.3" cy="436.5"/><circle cx="533.1" cy="467.5"/><circle cx="538.9" cy="429.2"/><circle cx="553.2" cy="455.4"/><circle cx="518.4" cy="442.4"/><circle cx="525.1" cy="432.8"/><circle cx="523.8" cy="436.3"/><circle cx="520.7" cy="424.3"/><circle cx="531.9" cy="461.4"/><circle cx="541.2" cy="403.5"/><circle cx="531.8" cy="461.9"/><circle cx="531.7" cy="461.4"/><circle cx="625.0" cy="409.0"/><circle cx="485.2" cy="438.0"/><circle cx="553.6" cy="456.0"/><circle cx="465.2" cy="433.4"/><circle cx="574.1" cy="447.1"/><circle cx="492.9" cy="431.6"/><circle cx="629.0" cy="406.5"/><circle cx="529.4" cy="450.4"/><circle cx="544.8" cy="415.7"/><circle cx="531.6" cy="457.7"/><circle cx="523.3" cy="467.3"/><circle cx="533.4" cy="467.2"/><circle cx="525.4" cy="465.6"/><circle cx="531.2" cy="458.9"/><circle cx="536.9" cy="448.1"/><circle cx="533.2" cy="465.3"/><circle cx="482.8" cy="404.2"/><circle cx="531.8" cy="461.5"/><circle cx="541.5" cy="444.2"/><circle cx="509.5" cy="436.7"/><circle cx="526.1" cy="460.1"/><circle cx="533.3" cy="465.8"/><circle cx="524.8" cy="419.5"/><circle cx="536.6" cy="445.9"/><circle cx="623.1" cy="412.2"/><circle cx="534.4" cy="467.0"/><circle cx="534.7" cy="463.5"/><circle cx="533.5" cy="467.4"/><circle cx="619.7" cy="412.8"/><circle cx="598.5" cy="430.4"/><circle cx="528.6" cy="412.2"/><circle cx="472.2" cy="435.9"/><circle cx="538.9" cy="447.8"/><circle cx="534.1" cy="467.8"/><circle cx="573.8" cy="445.9"/><circle cx="559.4" cy="416.3"/><circle cx="490.9" cy="450.5"/><circle cx="541.8" cy="424.6"/><circle cx="523.1" cy="404.5"/><circle cx="541.4" cy="435.9"/><circle cx="494.4" cy="441.3"/><circle cx="534.7" cy="464.8"/><circle cx="582.0" cy="440.2"/><circle cx="537.1" cy="449.3"/><circle cx="542.7" cy="433.6"/><circle cx="465.5" cy="431.4"/><circle cx="558.0" cy="413.6"/><circle cx="582.9" cy="438.6"/><circle cx="572.0" cy="415.1"/><circle cx="530.2" cy="459.0"/><circle cx="577.4" cy="446.7"/><circle cx="539.9" cy="448.0"/><circle cx="529.1" cy="457.1"/><circle cx="535.4" cy="457.7"/><circle cx="549.4" cy="462.5"/><circle cx="522.9" cy="430.8"/><circle cx="527.6" cy="432.1"/><circle cx="566.0" cy="442.8"/><circle cx="537.5" cy="448.0"/><circle cx="534.6" cy="463.4"/><circle cx="529.4" cy="433.6"/><circle cx="518.9" cy="448.0"/><circle cx="562.4" cy="436.0"/><circle cx="549.9" cy="445.0"/><circle cx="577.5" cy="442.1"/><circle cx="508.4" cy="441.6"/><circle cx="545.6" cy="414.1"/><circle cx="534.4" cy="465.6"/><circle cx="522.8" cy="467.3"/><circle cx="534.2" cy="466.3"/><circle cx="539.2" cy="441.5"/><circle cx="468.2" cy="435.5"/><circle cx="502.9" cy="459.3"/><circle cx="527.5" cy="429.0"/><circle cx="551.6" cy="439.1"/><circle cx="529.9" cy="438.9"/><circle cx="541.2" cy="403.0"/><circle cx="528.8" cy="420.1"/><circle cx="528.7" cy="426.9"/><circle cx="585.0" cy="438.7"/><circle cx="530.4" cy="444.1"/><circle cx="545.7" cy="439.6"/><circle cx="622.9" cy="412.1"/><circle cx="561.0" cy="457.9"/><circle cx="558.3" cy="449.8"/><circle cx="550.7" cy="444.8"/><circle cx="492.2" cy="441.1"/><circle cx="537.1" cy="459.0"/><circle cx="571.7" cy="446.5"/><circle cx="532.5" cy="459.9"/><circle cx="550.6" cy="438.5"/><circle cx="530.0" cy="444.6"/><circle cx="484.0" cy="443.9"/><circle cx="554.3" cy="455.1"/><circle cx="532.6" cy="461.7"/><circle cx="504.7" cy="426.3"/><circle cx="466.9" cy="404.4"/><circle cx="540.7" cy="448.5"/><circle cx="573.0" cy="397.2"/><circle cx="572.1" cy="446.5"/><circle cx="521.0" cy="450.0"/><circle cx="540.7" cy="411.2"/><circle cx="577.0" cy="442.0"/><circle cx="534.9" cy="465.0"/><circle cx="538.6" cy="440.4"/><circle cx="526.5" cy="403.5"/><circle cx="530.9" cy="443.5"/><circle cx="632.8" cy="399.1"/><circle cx="534.8" cy="463.8"/><circle cx="525.5" cy="406.8"/><circle cx="540.7" cy="447.6"/><circle cx="538.3" cy="456.5"/><circle cx="533.2" cy="465.7"/><circle cx="610.9" cy="422.9"/><circle cx="527.9" cy="426.8"/><circle cx="536.8" cy="462.5"/><circle cx="533.2" cy="465.0"/><circle cx="616.3" cy="419.9"/><circle cx="474.1" cy="440.0"/><circle cx="525.1" cy="457.3"/><circle cx="534.8" cy="466.9"/><circle cx="563.2" cy="455.9"/><circle cx="505.4" cy="439.2"/><circle cx="577.3" cy="447.0"/><circle cx="531.5" cy="462.6"/><circle cx="539.8" cy="441.1"/><circle cx="480.9" cy="432.8"/><circle cx="506.8" cy="458.4"/><circle cx="469.6" cy="438.0"/><circle cx="530.7" cy="459.8"/><circle cx="494.5" cy="451.5"/><circle cx="544.7" cy="420.9"/><circle cx="508.4" cy="452.5"/><circle cx="524.5" cy="443.3"/><circle cx="606.6" cy="427.3"/><circle cx="528.2" cy="407.7"/><circle cx="508.1" cy="443.4"/><circle cx="527.6" cy="464.3"/><circle cx="507.8" cy="441.9"/><circle cx="581.9" cy="443.7"/><circle cx="464.0" cy="432.1"/><circle cx="532.2" cy="464.0"/><circle cx="470.9" cy="433.6"/><circle cx="537.9" cy="441.3"/><circle cx="555.5" cy="460.1"/><circle cx="536.4" cy="462.6"/><circle cx="543.8" cy="421.4"/><circle cx="536.6" cy="446.5"/><circle cx="545.2" cy="414.0"/><circle cx="579.3" cy="443.3"/><circle cx="627.9" cy="408.3"/><circle cx="541.6" cy="419.9"/><circle cx="500.9" cy="422.0"/><circle cx="506.5" cy="460.6"/><circle cx="530.2" cy="451.8"/><circle cx="504.9" cy="419.4"/><circle cx="540.4" cy="434.6"/><circle cx="464.5" cy="429.6"/><circle cx="515.5" cy="454.6"/><circle cx="536.2" cy="461.3"/><circle cx="489.4" cy="436.1"/><circle cx="565.9" cy="444.6"/><circle cx="588.0" cy="412.8"/><circle cx="513.7" cy="461.5"/><circle cx="532.3" cy="464.6"/><circle cx="530.4" cy="456.4"/><circle cx="624.5" cy="408.3"/><circle cx="527.8" cy="408.3"/><circle cx="530.6" cy="452.5"/><circle cx="570.9" cy="423.3"/><circle cx="605.5" cy="422.6"/><circle cx="543.0" cy="408.2"/><circle cx="537.8" cy="440.2"/><circle cx="626.4" cy="400.9"/><circle cx="531.6" cy="454.2"/><circle cx="565.2" cy="454.6"/><circle cx="510.5" cy="438.2"/><circle cx="575.0" cy="448.5"/><circle cx="569.6" cy="441.3"/><circle cx="540.2" cy="419.2"/><circle cx="559.0" cy="456.1"/><circle cx="536.7" cy="462.2"/><circle cx="527.5" cy="443.3"/><circle cx="478.0" cy="429.3"/><circle cx="512.1" cy="444.4"/><circle cx="580.1" cy="446.8"/><circle cx="529.0" cy="423.4"/><circle cx="560.4" cy="422.7"/><circle cx="527.6" cy="451.4"/><circle cx="637.5" cy="397.7"/><circle cx="511.1" cy="449.7"/><circle cx="589.4" cy="433.0"/><circle cx="541.1" cy="411.0"/><circle cx="590.9" cy="439.1"/><circle cx="525.2" cy="435.1"/><circle cx="536.7" cy="460.2"/><circle cx="420.9" cy="391.3"/><circle cx="560.6" cy="434.2"/><circle cx="538.0" cy="439.3"/><circle cx="527.5" cy="445.0"/><circle cx="527.2" cy="399.5"/><circle cx="582.0" cy="431.1"/><circle cx="529.2" cy="443.8"/><circle cx="534.1" cy="467.4"/><circle cx="587.4" cy="437.0"/><circle cx="531.9" cy="461.3"/><circle cx="543.3" cy="446.3"/><circle cx="522.8" cy="423.9"/><circle cx="529.8" cy="441.3"/><circle cx="604.3" cy="427.3"/><circle cx="540.2" cy="446.7"/><circle cx="534.7" cy="465.4"/><circle cx="522.9" cy="438.6"/><circle cx="548.1" cy="417.3"/><circle cx="490.0" cy="451.8"/><circle cx="570.7" cy="449.1"/><circle cx="534.7" cy="462.2"/><circle cx="533.8" cy="468.8"/><circle cx="533.6" cy="468.3"/><circle cx="535.5" cy="462.7"/><circle cx="531.4" cy="449.3"/><circle cx="543.8" cy="416.0"/><circle cx="615.8" cy="419.6"/><circle cx="539.8" cy="462.1"/><circle cx="528.9" cy="445.2"/><circle cx="533.0" cy="466.0"/><circle cx="541.4" cy="447.2"/><circle cx="538.7" cy="430.6"/><circle cx="573.9" cy="446.4"/><circle cx="503.3" cy="424.5"/><circle cx="440.8" cy="413.5"/><circle cx="638.1" cy="398.7"/><circle cx="528.0" cy="447.1"/><circle cx="611.2" cy="422.6"/><circle cx="534.3" cy="466.7"/><circle cx="530.3" cy="456.9"/><circle cx="534.4" cy="465.7"/><circle cx="552.0" cy="458.4"/><circle cx="540.5" cy="442.7"/><circle cx="532.3" cy="464.6"/><circle cx="537.3" cy="456.6"/><circle cx="530.6" cy="465.5"/><circle cx="534.3" cy="467.6"/><circle cx="539.3" cy="436.2"/><circle cx="538.0" cy="458.1"/><circle cx="528.7" cy="440.6"/><circle cx="612.6" cy="421.8"/><circle cx="500.4" cy="437.8"/><circle cx="542.6" cy="441.7"/><circle cx="469.8" cy="432.7"/><circle cx="535.7" cy="467.0"/><circle cx="434.6" cy="406.8"/><circle cx="531.1" cy="447.0"/><circle cx="543.7" cy="436.2"/><circle cx="532.6" cy="463.3"/><circle cx="534.3" cy="467.4"/><circle cx="557.8" cy="450.5"/><circle cx="551.5" cy="458.5"/><circle cx="514.4" cy="445.5"/><circle cx="582.0" cy="419.2"/><circle cx="538.0" cy="450.1"/><circle cx="569.6" cy="445.6"/><circle cx="477.2" cy="441.0"/><circle cx="544.3" cy="425.0"/><circle cx="530.0" cy="454.1"/><circle cx="567.6" cy="453.8"/><circle cx="587.1" cy="438.2"/><circle cx="556.8" cy="429.5"/><circle cx="564.7" cy="411.9"/><circle cx="565.2" cy="406.6"/><circle cx="541.9" cy="410.5"/><circle cx="626.9" cy="410.7"/><circle cx="533.8" cy="464.2"/><circle cx="561.8" cy="439.5"/><circle cx="618.6" cy="415.6"/><circle cx="608.1" cy="420.7"/><circle cx="539.9" cy="439.1"/><circle cx="494.5" cy="453.8"/><circle cx="609.9" cy="417.1"/><circle cx="528.7" cy="412.5"/><circle cx="548.8" cy="429.3"/><circle cx="477.3" cy="408.4"/><circle cx="533.8" cy="468.7"/><circle cx="540.1" cy="444.9"/><circle cx="585.6" cy="441.3"/><circle cx="492.6" cy="441.4"/><circle cx="517.3" cy="436.0"/><circle cx="529.5" cy="431.3"/><circle cx="471.9" cy="437.3"/><circle cx="521.9" cy="410.6"/><circle cx="585.9" cy="419.9"/><circle cx="550.3" cy="462.6"/><circle cx="493.4" cy="451.9"/><circle cx="578.2" cy="442.6"/><circle cx="564.2" cy="450.9"/><circle cx="539.5" cy="428.9"/><circle cx="524.9" cy="455.2"/><circle cx="543.9" cy="416.4"/><circle cx="455.5" cy="420.7"/><circle cx="544.2" cy="412.6"/><circle cx="526.6" cy="383.3"/><circle cx="572.0" cy="439.3"/><circle cx="557.8" cy="440.6"/><circle cx="532.4" cy="466.6"/><circle cx="542.1" cy="447.5"/><circle cx="556.8" cy="451.3"/><circle cx="559.4" cy="397.2"/><circle cx="489.7" cy="424.0"/><circle cx="550.7" cy="449.2"/><circle cx="592.2" cy="429.8"/><circle cx="566.6" cy="453.9"/><circle cx="524.2" cy="426.4"/><circle cx="491.2" cy="441.1"/><circle cx="524.1" cy="441.4"/><circle cx="531.1" cy="451.7"/><circle cx="544.9" cy="423.2"/><circle cx="518.8" cy="389.2"/><circle cx="500.7" cy="409.2"/><circle cx="529.4" cy="440.6"/><circle cx="536.6" cy="444.2"/><circle cx="527.0" cy="447.1"/><circle cx="561.6" cy="442.6"/><circle cx="525.8" cy="461.6"/><circle cx="578.8" cy="447.5"/><circle cx="613.7" cy="408.0"/><circle cx="635.5" cy="397.6"/><circle cx="532.7" cy="463.3"/><circle cx="526.6" cy="433.6"/><circle cx="507.7" cy="456.3"/><circle cx="542.9" cy="439.8"/><circle cx="527.6" cy="464.1"/><circle cx="535.8" cy="457.4"/><circle cx="538.6" cy="420.7"/><circle cx="576.5" cy="447.9"/><circle cx="601.0" cy="431.7"/><circle cx="536.0" cy="468.2"/><circle cx="530.5" cy="459.6"/><circle cx="540.0" cy="411.6"/><circle cx="591.1" cy="434.6"/><circle cx="539.1" cy="418.8"/><circle cx="535.6" cy="457.3"/><circle cx="527.4" cy="447.8"/><circle cx="532.2" cy="462.6"/><circle cx="545.2" cy="427.0"/><circle cx="533.4" cy="466.3"/><circle cx="525.7" cy="436.7"/><circle cx="516.0" cy="444.3"/><circle cx="554.5" cy="441.5"/><circle cx="531.9" cy="461.4"/><circle cx="488.7" cy="442.4"/><circle cx="570.4" cy="442.9"/><circle cx="531.4" cy="463.1"/><circle cx="528.8" cy="430.4"/><circle cx="528.0" cy="406.4"/><circle cx="512.3" cy="444.3"/><circle cx="534.4" cy="466.3"/><circle cx="544.8" cy="448.2"/><circle cx="537.8" cy="436.7"/><circle cx="527.3" cy="416.0"/><circle cx="512.7" cy="452.5"/><circle cx="528.8" cy="453.4"/><circle cx="519.6" cy="451.1"/><circle cx="540.1" cy="441.7"/><circle cx="537.2" cy="455.2"/><circle cx="432.6" cy="402.5"/><circle cx="538.6" cy="445.3"/><circle cx="526.1" cy="409.5"/><circle cx="479.4" cy="411.4"/><circle cx="543.5" cy="427.0"/><circle cx="549.3" cy="442.0"/><circle cx="559.6" cy="451.1"/><circle cx="525.3" cy="421.3"/><circle cx="562.1" cy="440.7"/><circle cx="541.0" cy="447.0"/><circle cx="533.7" cy="468.5"/><circle cx="533.2" cy="465.3"/><circle cx="535.0" cy="463.6"/><circle cx="556.5" cy="453.3"/><circle cx="529.2" cy="452.3"/><circle cx="544.6" cy="464.9"/><circle cx="528.7" cy="422.3"/><circle cx="550.5" cy="439.7"/><circle cx="539.5" cy="453.8"/><circle cx="625.9" cy="409.1"/><circle cx="525.3" cy="429.9"/><circle cx="553.9" cy="452.9"/><circle cx="532.3" cy="463.9"/><circle cx="505.4" cy="441.3"/><circle cx="577.7" cy="442.2"/><circle cx="532.0" cy="460.9"/><circle cx="557.6" cy="438.6"/><circle cx="494.8" cy="442.9"/><circle cx="499.1" cy="457.3"/><circle cx="527.9" cy="454.0"/><circle cx="570.2" cy="448.1"/><circle cx="536.4" cy="465.7"/><circle cx="584.4" cy="440.7"/><circle cx="527.9" cy="438.4"/><circle cx="555.3" cy="454.0"/><circle cx="616.1" cy="417.5"/><circle cx="568.4" cy="449.1"/><circle cx="577.8" cy="447.8"/><circle cx="529.5" cy="431.3"/><circle cx="478.8" cy="439.3"/><circle cx="490.6" cy="447.3"/><circle cx="605.0" cy="412.4"/><circle cx="541.5" cy="433.9"/><circle cx="522.5" cy="429.9"/><circle cx="520.8" cy="407.2"/><circle cx="598.0" cy="426.3"/><circle cx="561.4" cy="453.6"/><circle cx="479.1" cy="434.4"/><circle cx="629.2" cy="408.2"/><circle cx="525.6" cy="464.0"/><circle cx="525.9" cy="414.2"/><circle cx="534.9" cy="462.8"/><circle cx="490.6" cy="452.0"/><circle cx="530.9" cy="463.0"/><circle cx="524.9" cy="397.8"/><circle cx="542.9" cy="419.4"/><circle cx="591.0" cy="434.7"/><circle cx="437.2" cy="403.5"/><circle cx="528.1" cy="439.2"/><circle cx="531.9" cy="463.5"/><circle cx="520.9" cy="454.3"/><circle cx="546.3" cy="399.2"/><circle cx="492.5" cy="452.0"/><circle cx="586.1" cy="437.3"/><circle cx="552.8" cy="430.5"/><circle cx="534.9" cy="461.0"/><circle cx="527.4" cy="447.3"/><circle cx="539.0" cy="447.9"/><circle cx="529.3" cy="431.9"/><circle cx="541.2" cy="447.8"/><circle cx="557.1" cy="459.8"/><circle cx="549.0" cy="443.6"/><circle cx="533.0" cy="464.7"/><circle cx="504.9" cy="442.2"/><circle cx="531.0" cy="457.3"/><circle cx="575.2" cy="448.0"/><circle cx="506.4" cy="451.5"/><circle cx="533.0" cy="466.7"/><circle cx="544.0" cy="438.2"/><circle cx="539.3" cy="411.4"/><circle cx="505.1" cy="424.0"/><circle cx="601.9" cy="423.6"/><circle cx="544.0" cy="448.6"/><circle cx="532.1" cy="459.1"/><circle cx="567.0" cy="453.7"/><circle cx="536.9" cy="462.2"/><circle cx="530.7" cy="462.9"/><circle cx="619.7" cy="415.6"/><circle cx="527.6" cy="440.8"/><circle cx="577.6" cy="440.5"/><circle cx="569.7" cy="442.5"/><circle cx="521.9" cy="452.1"/><circle cx="561.6" cy="450.0"/><circle cx="545.0" cy="440.3"/><circle cx="537.3" cy="446.7"/><circle cx="530.2" cy="448.7"/><circle cx="534.4" cy="466.4"/><circle cx="548.0" cy="434.2"/><circle cx="542.4" cy="404.9"/><circle cx="527.3" cy="423.6"/><circle cx="498.4" cy="455.1"/><circle cx="531.5" cy="453.8"/><circle cx="595.4" cy="429.5"/><circle cx="619.2" cy="413.2"/><circle cx="534.4" cy="467.3"/><circle cx="515.8" cy="443.2"/><circle cx="527.2" cy="403.2"/><circle cx="514.2" cy="400.8"/><circle cx="511.4" cy="443.3"/><circle cx="525.3" cy="442.5"/><circle cx="530.5" cy="454.9"/><circle cx="590.9" cy="438.5"/><circle cx="523.2" cy="438.7"/><circle cx="528.5" cy="451.7"/><circle cx="547.4" cy="441.9"/><circle cx="536.4" cy="456.2"/><circle cx="516.4" cy="443.3"/><circle cx="537.3" cy="453.1"/><circle cx="507.8" cy="449.4"/><circle cx="531.9" cy="456.9"/><circle cx="496.2" cy="455.0"/><circle cx="538.8" cy="421.4"/><circle cx="535.3" cy="464.5"/><circle cx="523.2" cy="424.3"/><circle cx="528.6" cy="447.3"/><circle cx="525.0" cy="408.9"/><circle cx="582.1" cy="439.2"/><circle cx="529.3" cy="434.9"/><circle cx="512.3" cy="460.6"/><circle cx="536.3" cy="454.9"/><circle cx="530.6" cy="452.6"/><circle cx="497.4" cy="454.9"/><circle cx="539.0" cy="416.5"/><circle cx="542.9" cy="465.3"/><circle cx="521.1" cy="436.0"/><circle cx="537.1" cy="468.7"/><circle cx="548.6" cy="405.2"/><circle cx="551.3" cy="440.5"/><circle cx="530.2" cy="447.0"/><circle cx="535.6" cy="463.7"/><circle cx="538.5" cy="456.1"/><circle cx="538.6" cy="426.8"/><circle cx="539.1" cy="417.6"/><circle cx="528.2" cy="429.4"/><circle cx="531.2" cy="450.6"/><circle cx="554.6" cy="457.1"/><circle cx="499.5" cy="447.1"/><circle cx="532.3" cy="461.9"/><circle cx="532.3" cy="465.8"/><circle cx="528.3" cy="467.0"/><circle cx="498.0" cy="432.8"/><circle cx="539.5" cy="416.0"/><circle cx="533.0" cy="467.0"/><circle cx="519.8" cy="437.6"/><circle cx="555.7" cy="454.9"/><circle cx="597.2" cy="420.4"/><circle cx="537.0" cy="443.0"/><circle cx="522.2" cy="419.3"/><circle cx="535.5" cy="460.5"/><circle cx="525.8" cy="448.4"/><circle cx="553.5" cy="462.0"/><circle cx="521.0" cy="408.0"/><circle cx="571.2" cy="424.5"/><circle cx="544.2" cy="423.6"/><circle cx="537.9" cy="457.6"/><circle cx="614.3" cy="419.9"/><circle cx="529.5" cy="458.0"/><circle cx="532.1" cy="462.6"/><circle cx="549.3" cy="453.8"/><circle cx="469.7" cy="433.9"/><circle cx="542.3" cy="409.4"/><circle cx="537.5" cy="447.9"/><circle cx="606.2" cy="425.7"/><circle cx="543.9" cy="461.3"/><circle cx="468.4" cy="437.0"/><circle cx="540.3" cy="424.3"/><circle cx="526.0" cy="436.9"/><circle cx="531.6" cy="459.4"/><circle cx="532.9" cy="463.3"/><circle cx="580.8" cy="425.1"/><circle cx="588.0" cy="434.2"/><circle cx="519.6" cy="433.1"/><circle cx="538.5" cy="419.3"/><circle cx="541.9" cy="444.6"/><circle cx="547.1" cy="442.1"/><circle cx="541.6" cy="465.8"/><circle cx="523.7" cy="449.8"/><circle cx="569.0" cy="423.4"/><circle cx="508.1" cy="437.6"/><circle cx="593.1" cy="436.8"/><circle cx="525.8" cy="425.7"/><circle cx="532.4" cy="460.7"/><circle cx="540.3" cy="439.6"/><circle cx="632.0" cy="404.3"/><circle cx="446.4" cy="415.8"/><circle cx="528.5" cy="447.8"/><circle cx="561.9" cy="456.2"/><circle cx="533.8" cy="468.6"/><circle cx="526.2" cy="437.7"/><circle cx="527.3" cy="429.1"/><circle cx="539.7" cy="435.8"/><circle cx="501.8" cy="426.1"/><circle cx="587.8" cy="440.6"/><circle cx="543.1" cy="425.5"/><circle cx="537.1" cy="441.8"/><circle cx="530.0" cy="447.8"/><circle cx="575.6" cy="445.2"/><circle cx="552.6" cy="443.9"/><circle cx="566.2" cy="435.5"/><circle cx="528.8" cy="467.4"/><circle cx="565.5" cy="452.4"/><circle cx="576.9" cy="448.2"/><circle cx="525.9" cy="447.0"/><circle cx="561.6" cy="455.8"/><circle cx="536.3" cy="458.7"/><circle cx="560.1" cy="433.3"/><circle cx="534.5" cy="465.8"/><circle cx="517.7" cy="456.0"/><circle cx="496.8" cy="444.0"/><circle cx="458.6" cy="425.1"/><circle cx="477.7" cy="441.3"/><circle cx="530.3" cy="449.1"/><circle cx="515.7" cy="444.0"/><circle cx="548.7" cy="451.7"/><circle cx="531.6" cy="457.2"/><circle cx="505.4" cy="447.5"/><circle cx="526.2" cy="409.5"/><circle cx="544.2" cy="461.7"/><circle cx="612.7" cy="420.5"/><circle cx="527.8" cy="430.9"/><circle cx="568.7" cy="449.9"/><circle cx="637.0" cy="399.7"/><circle cx="608.3" cy="419.0"/><circle cx="527.8" cy="452.4"/><circle cx="518.2" cy="459.6"/><circle cx="587.0" cy="429.3"/><circle cx="508.9" cy="429.4"/><circle cx="479.8" cy="426.2"/><circle cx="533.0" cy="466.5"/><circle cx="537.4" cy="444.5"/><circle cx="535.5" cy="462.7"/><circle cx="532.1" cy="457.8"/><circle cx="496.9" cy="440.3"/><circle cx="556.7" cy="460.6"/><circle cx="625.4" cy="411.1"/><circle cx="537.5" cy="457.5"/><circle cx="560.1" cy="448.7"/><circle cx="530.2" cy="468.5"/><circle cx="522.4" cy="439.2"/><circle cx="538.5" cy="457.8"/><circle cx="555.5" cy="458.4"/><circle cx="543.6" cy="431.2"/><circle cx="551.3" cy="457.5"/><circle cx="567.5" cy="447.3"/><circle cx="551.6" cy="460.4"/><circle cx="536.6" cy="455.6"/><circle cx="531.7" cy="462.1"/><circle cx="507.4" cy="450.2"/><circle cx="536.7" cy="451.6"/><circle cx="536.3" cy="465.4"/><circle cx="529.2" cy="447.1"/><circle cx="561.6" cy="445.6"/><circle cx="534.7" cy="465.4"/><circle cx="536.2" cy="456.4"/><circle cx="511.2" cy="431.3"/><circle cx="524.6" cy="439.5"/><circle cx="526.0" cy="421.5"/><circle cx="547.5" cy="409.0"/><circle cx="623.2" cy="411.9"/><circle cx="539.6" cy="464.5"/><circle cx="540.2" cy="442.6"/><circle cx="497.9" cy="443.9"/><circle cx="566.2" cy="454.9"/><circle cx="543.8" cy="460.4"/><circle cx="507.3" cy="449.7"/><circle cx="546.5" cy="442.3"/><circle cx="541.4" cy="433.2"/><circle cx="536.5" cy="459.1"/><circle cx="549.9" cy="463.6"/><circle cx="539.9" cy="450.3"/><circle cx="560.5" cy="457.9"/><circle cx="583.3" cy="444.6"/><circle cx="526.2" cy="439.5"/><circle cx="536.1" cy="458.3"/><circle cx="538.8" cy="421.4"/><circle cx="571.5" cy="450.6"/><circle cx="531.6" cy="454.1"/><circle cx="521.6" cy="443.0"/><circle cx="530.7" cy="445.7"/><circle cx="550.5" cy="461.4"/><circle cx="534.2" cy="466.2"/><circle cx="477.5" cy="443.7"/><circle cx="540.4" cy="443.8"/><circle cx="539.5" cy="451.0"/><circle cx="559.4" cy="451.0"/><circle cx="533.6" cy="467.5"/><circle cx="559.5" cy="435.8"/><circle cx="539.5" cy="444.9"/><circle cx="560.6" cy="439.2"/><circle cx="537.2" cy="437.2"/><circle cx="528.5" cy="463.5"/><circle cx="558.9" cy="457.7"/><circle cx="527.8" cy="443.5"/><circle cx="521.1" cy="414.4"/><circle cx="538.6" cy="450.9"/><circle cx="525.2" cy="444.1"/><circle cx="524.3" cy="446.6"/><circle cx="533.8" cy="468.6"/><circle cx="538.9" cy="459.7"/><circle cx="564.4" cy="444.8"/><circle cx="538.6" cy="443.9"/><circle cx="561.4" cy="452.3"/><circle cx="563.5" cy="429.0"/><circle cx="541.1" cy="428.8"/><circle cx="563.1" cy="446.1"/><circle cx="536.4" cy="459.0"/><circle cx="550.8" cy="453.0"/><circle cx="538.2" cy="427.0"/><circle cx="533.3" cy="466.3"/><circle cx="515.9" cy="463.0"/><circle cx="587.1" cy="442.0"/><circle cx="537.8" cy="448.1"/><circle cx="529.5" cy="447.7"/><circle cx="542.3" cy="410.1"/><circle cx="510.3" cy="456.0"/><circle cx="536.0" cy="458.2"/><circle cx="483.2" cy="445.3"/><circle cx="526.2" cy="427.4"/><circle cx="547.7" cy="398.9"/><circle cx="602.6" cy="427.7"/><circle cx="494.8" cy="430.5"/><circle cx="462.7" cy="409.4"/><circle cx="471.4" cy="434.4"/><circle cx="535.0" cy="464.4"/><circle cx="481.6" cy="439.1"/><circle cx="537.9" cy="457.7"/><circle cx="524.0" cy="405.1"/><circle cx="528.4" cy="455.6"/><circle cx="503.7" cy="440.3"/><circle cx="540.3" cy="455.5"/><circle cx="610.3" cy="423.2"/><circle cx="470.4" cy="408.4"/><circle cx="539.5" cy="448.9"/><circle cx="546.0" cy="460.7"/><circle cx="538.7" cy="418.6"/><circle cx="537.2" cy="460.1"/><circle cx="548.6" cy="437.7"/><circle cx="536.9" cy="442.5"/><circle cx="535.3" cy="460.3"/><circle cx="576.4" cy="447.5"/><circle cx="505.2" cy="459.9"/><circle cx="525.6" cy="403.1"/><circle cx="545.9" cy="443.9"/><circle cx="530.2" cy="438.9"/><circle cx="520.4" cy="442.9"/><circle cx="487.9" cy="441.1"/><circle cx="538.8" cy="450.1"/><circle cx="482.0" cy="427.4"/><circle cx="475.3" cy="442.2"/><circle cx="556.7" cy="429.5"/><circle cx="502.8" cy="458.6"/><circle cx="566.1" cy="445.3"/><circle cx="551.9" cy="434.1"/><circle cx="578.1" cy="445.9"/><circle cx="582.0" cy="444.1"/><circle cx="576.5" cy="437.1"/><circle cx="566.2" cy="439.5"/><circle cx="588.1" cy="440.7"/><circle cx="533.3" cy="465.9"/><circle cx="540.0" cy="439.6"/><circle cx="544.1" cy="461.3"/><circle cx="537.6" cy="466.0"/><circle cx="539.5" cy="452.0"/><circle cx="560.8" cy="457.2"/><circle cx="535.2" cy="463.9"/><circle cx="629.1" cy="409.1"/><circle cx="528.9" cy="454.3"/><circle cx="545.5" cy="442.7"/><circle cx="534.5" cy="464.3"/><circle cx="545.1" cy="406.0"/><circle cx="544.6" cy="448.5"/><circle cx="534.3" cy="466.5"/><circle cx="581.2" cy="444.9"/><circle cx="535.8" cy="456.5"/><circle cx="522.6" cy="453.0"/><circle cx="531.3" cy="467.1"/><circle cx="595.3" cy="435.5"/><circle cx="537.6" cy="467.0"/><circle cx="589.8" cy="439.5"/><circle cx="525.8" cy="413.5"/><circle cx="544.6" cy="442.2"/><circle cx="533.7" cy="468.6"/><circle cx="535.7" cy="463.4"/><circle cx="525.3" cy="390.4"/><circle cx="504.7" cy="446.5"/><circle cx="504.0" cy="437.3"/><circle cx="582.7" cy="443.9"/><circle cx="529.8" cy="438.8"/><circle cx="558.2" cy="459.5"/><circle cx="535.1" cy="463.5"/><circle cx="529.6" cy="448.1"/><circle cx="552.1" cy="444.4"/><circle cx="524.8" cy="413.1"/><circle cx="539.3" cy="421.5"/><circle cx="545.2" cy="420.8"/><circle cx="543.6" cy="432.6"/><circle cx="530.3" cy="441.6"/><circle cx="540.0" cy="418.3"/><circle cx="536.7" cy="447.3"/><circle cx="442.5" cy="414.3"/><circle cx="543.5" cy="426.3"/><circle cx="570.9" cy="450.2"/><circle cx="548.4" cy="454.9"/><circle cx="515.4" cy="459.3"/><circle cx="532.1" cy="462.7"/><circle cx="539.3" cy="433.8"/><circle cx="529.6" cy="454.1"/><circle cx="544.5" cy="462.5"/><circle cx="535.3" cy="463.6"/><circle cx="544.3" cy="423.8"/><circle cx="535.4" cy="464.0"/><circle cx="544.8" cy="455.3"/><circle cx="479.8" cy="441.3"/><circle cx="541.3" cy="422.9"/><circle cx="636.9" cy="400.5"/><circle cx="507.1" cy="457.5"/><circle cx="533.8" cy="467.8"/><circle cx="530.8" cy="442.3"/><circle cx="540.0" cy="426.3"/><circle cx="531.7" cy="457.4"/><circle cx="579.4" cy="418.1"/><circle cx="544.7" cy="458.8"/><circle cx="481.3" cy="430.1"/><circle cx="537.6" cy="450.9"/><circle cx="516.7" cy="426.8"/><circle cx="515.5" cy="449.5"/><circle cx="503.3" cy="431.5"/><circle cx="530.4" cy="457.9"/><circle cx="538.0" cy="440.5"/><circle cx="544.6" cy="405.0"/><circle cx="531.6" cy="462.7"/><circle cx="606.9" cy="420.1"/><circle cx="541.6" cy="435.9"/><circle cx="537.5" cy="435.4"/><circle cx="540.1" cy="409.0"/><circle cx="485.8" cy="446.3"/><circle cx="550.5" cy="449.5"/><circle cx="575.8" cy="445.8"/><circle cx="527.9" cy="415.4"/><circle cx="531.3" cy="461.9"/><circle cx="562.4" cy="454.1"/><circle cx="530.7" cy="441.0"/><circle cx="550.2" cy="448.3"/><circle cx="544.3" cy="405.3"/><circle cx="535.8" cy="462.1"/><circle cx="553.0" cy="443.0"/><circle cx="529.2" cy="420.1"/><circle cx="517.5" cy="436.3"/><circle cx="573.5" cy="433.9"/><circle cx="536.7" cy="457.2"/><circle cx="548.8" cy="443.5"/><circle cx="519.5" cy="452.0"/><circle cx="478.4" cy="443.5"/><circle cx="524.0" cy="404.4"/><circle cx="600.4" cy="429.1"/><circle cx="526.9" cy="436.3"/><circle cx="455.8" cy="425.9"/><circle cx="547.5" cy="399.9"/><circle cx="499.0" cy="455.4"/><circle cx="535.2" cy="461.3"/><circle cx="587.3" cy="436.5"/><circle cx="526.8" cy="422.4"/><circle cx="535.6" cy="455.8"/><circle cx="468.2" cy="437.0"/><circle cx="632.7" cy="403.9"/><circle cx="532.7" cy="465.7"/><circle cx="526.3" cy="448.1"/><circle cx="540.9" cy="436.8"/><circle cx="456.5" cy="422.4"/><circle cx="538.0" cy="447.3"/><circle cx="521.8" cy="410.1"/><circle cx="625.3" cy="410.5"/><circle cx="530.4" cy="441.5"/><circle cx="486.4" cy="446.9"/><circle cx="558.3" cy="454.0"/><circle cx="619.0" cy="408.8"/><circle cx="544.3" cy="431.3"/><circle cx="490.0" cy="449.1"/><circle cx="541.2" cy="419.7"/><circle cx="520.7" cy="410.6"/><circle cx="579.4" cy="446.0"/><circle cx="541.8" cy="467.2"/><circle cx="576.4" cy="411.0"/><circle cx="526.0" cy="425.8"/><circle cx="477.2" cy="443.4"/><circle cx="541.6" cy="466.9"/><circle cx="543.7" cy="400.1"/><circle cx="533.8" cy="468.6"/><circle cx="527.0" cy="433.0"/><circle cx="536.8" cy="454.3"/><circle cx="491.5" cy="451.3"/><circle cx="560.0" cy="431.5"/><circle cx="522.8" cy="421.7"/><circle cx="541.4" cy="417.6"/><circle cx="513.8" cy="463.6"/><circle cx="542.5" cy="414.6"/><circle cx="442.7" cy="414.7"/><circle cx="528.4" cy="444.9"/><circle cx="543.2" cy="447.1"/><circle cx="529.8" cy="435.7"/><circle cx="581.9" cy="439.1"/><circle cx="525.3" cy="467.4"/><circle cx="493.0" cy="443.3"/><circle cx="536.8" cy="453.9"/><circle cx="577.2" cy="442.5"/><circle cx="533.9" cy="468.6"/><circle cx="521.1" cy="446.0"/><circle cx="556.9" cy="457.2"/><circle cx="528.6" cy="454.9"/><circle cx="529.5" cy="434.7"/><circle cx="537.5" cy="441.2"/><circle cx="527.5" cy="443.3"/><circle cx="535.6" cy="459.4"/><circle cx="549.5" cy="462.5"/><circle cx="545.1" cy="384.6"/><circle cx="472.3" cy="431.5"/><circle cx="528.8" cy="455.4"/><circle cx="561.4" cy="457.8"/><circle cx="423.9" cy="391.3"/><circle cx="451.9" cy="423.5"/><circle cx="537.2" cy="451.5"/><circle cx="530.0" cy="436.3"/><circle cx="586.3" cy="442.2"/><circle cx="541.3" cy="437.4"/><circle cx="532.2" cy="459.0"/><circle cx="459.0" cy="409.0"/><circle cx="518.4" cy="460.9"/><circle cx="467.4" cy="436.0"/><circle cx="535.3" cy="460.7"/><circle cx="589.6" cy="436.4"/><circle cx="619.2" cy="417.3"/><circle cx="480.5" cy="435.4"/><circle cx="516.4" cy="451.3"/><circle cx="500.9" cy="423.3"/><circle cx="529.9" cy="456.9"/><circle cx="537.6" cy="465.6"/><circle cx="556.3" cy="456.9"/><circle cx="538.2" cy="448.3"/><circle cx="460.6" cy="430.0"/><circle cx="547.1" cy="445.5"/><circle cx="540.3" cy="429.3"/><circle cx="517.8" cy="420.5"/><circle cx="510.8" cy="456.4"/><circle cx="562.6" cy="444.6"/><circle cx="543.3" cy="411.7"/><circle cx="537.7" cy="459.0"/><circle cx="566.3" cy="454.6"/><circle cx="544.7" cy="423.0"/><circle cx="563.6" cy="433.7"/><circle cx="529.8" cy="439.4"/><circle cx="569.5" cy="444.0"/><circle cx="530.5" cy="448.8"/><circle cx="533.6" cy="467.8"/><circle cx="542.2" cy="402.6"/><circle cx="531.3" cy="457.0"/><circle cx="565.7" cy="455.8"/><circle cx="536.9" cy="443.0"/><circle cx="540.1" cy="416.1"/><circle cx="536.4" cy="451.5"/><circle cx="528.3" cy="436.2"/><circle cx="566.4" cy="441.5"/><circle cx="540.8" cy="441.3"/><circle cx="553.0" cy="456.4"/><circle cx="544.5" cy="465.6"/><circle cx="522.8" cy="424.7"/><circle cx="520.2" cy="466.6"/><circle cx="542.2" cy="405.6"/><circle cx="626.4" cy="411.1"/><circle cx="499.1" cy="442.7"/><circle cx="537.7" cy="452.4"/><circle cx="491.7" cy="440.2"/><circle cx="536.3" cy="467.1"/><circle cx="534.9" cy="465.2"/><circle cx="492.1" cy="450.1"/><circle cx="494.9" cy="454.2"/><circle cx="541.9" cy="413.3"/><circle cx="594.1" cy="429.5"/><circle cx="533.7" cy="468.4"/><circle cx="503.3" cy="444.4"/><circle cx="520.6" cy="453.1"/><circle cx="593.6" cy="437.0"/><circle cx="541.7" cy="438.8"/><circle cx="523.4" cy="435.2"/><circle cx="566.0" cy="452.3"/><circle cx="515.6" cy="450.5"/><circle cx="534.8" cy="464.6"/><circle cx="528.5" cy="428.4"/><circle cx="531.8" cy="464.9"/><circle cx="452.8" cy="420.6"/><circle cx="538.1" cy="433.3"/><circle cx="522.5" cy="413.7"/><circle cx="526.6" cy="418.0"/><circle cx="539.3" cy="433.6"/><circle cx="524.1" cy="436.4"/><circle cx="530.5" cy="447.7"/><circle cx="486.5" cy="410.0"/><circle cx="554.2" cy="454.6"/><circle cx="534.8" cy="466.3"/><circle cx="530.0" cy="442.9"/><circle cx="534.6" cy="464.2"/><circle cx="542.2" cy="441.0"/><circle cx="578.1" cy="437.9"/><circle cx="533.0" cy="466.8"/><circle cx="544.0" cy="431.4"/><circle cx="527.1" cy="422.6"/><circle cx="526.7" cy="448.0"/><circle cx="529.3" cy="448.4"/><circle cx="527.8" cy="438.8"/><circle cx="529.9" cy="433.5"/><circle cx="532.5" cy="464.5"/><circle cx="531.5" cy="463.9"/><circle cx="542.1" cy="410.9"/><circle cx="543.1" cy="426.1"/><circle cx="561.8" cy="451.5"/><circle cx="536.9" cy="456.6"/><circle cx="616.9" cy="403.9"/><circle cx="534.7" cy="466.7"/><circle cx="538.5" cy="421.2"/><circle cx="562.4" cy="452.0"/><circle cx="534.9" cy="463.4"/><circle cx="562.9" cy="427.3"/><circle cx="550.8" cy="451.5"/><circle cx="542.5" cy="422.1"/><circle cx="526.9" cy="459.7"/><circle cx="531.0" cy="459.4"/><circle cx="501.7" cy="444.4"/><circle cx="530.6" cy="441.0"/><circle cx="481.2" cy="443.2"/><circle cx="539.9" cy="428.2"/><circle cx="536.5" cy="447.5"/><circle cx="524.6" cy="445.6"/><circle cx="531.4" cy="460.2"/><circle cx="525.6" cy="415.5"/><circle cx="577.5" cy="448.1"/><circle cx="538.4" cy="439.8"/><circle cx="538.6" cy="468.1"/><circle cx="536.7" cy="444.2"/><circle cx="530.3" cy="445.4"/><circle cx="576.8" cy="416.3"/><circle cx="530.3" cy="458.9"/><circle cx="535.6" cy="463.6"/><circle cx="518.9" cy="445.4"/><circle cx="538.1" cy="440.4"/><circle cx="626.3" cy="404.7"/><circle cx="534.4" cy="466.6"/><circle cx="557.4" cy="446.7"/><circle cx="614.8" cy="420.7"/><circle cx="526.0" cy="435.2"/><circle cx="476.5" cy="441.8"/><circle cx="602.7" cy="424.7"/><circle cx="539.0" cy="453.1"/><circle cx="574.0" cy="437.5"/><circle cx="487.3" cy="447.4"/><circle cx="581.8" cy="440.6"/><circle cx="530.4" cy="456.2"/><circle cx="541.1" cy="448.4"/><circle cx="479.5" cy="439.9"/><circle cx="588.6" cy="436.4"/><circle cx="542.9" cy="400.8"/><circle cx="526.5" cy="417.6"/><circle cx="537.0" cy="449.6"/><circle cx="529.9" cy="450.7"/><circle cx="546.5" cy="454.9"/><circle cx="538.1" cy="450.0"/><circle cx="532.2" cy="459.9"/><circle cx="538.8" cy="455.6"/><circle cx="527.1" cy="461.0"/><circle cx="538.3" cy="440.3"/><circle cx="539.9" cy="457.8"/><circle cx="537.6" cy="446.2"/><circle cx="537.6" cy="459.9"/><circle cx="562.1" cy="436.0"/><circle cx="621.0" cy="412.9"/><circle cx="533.4" cy="467.3"/><circle cx="528.6" cy="454.7"/><circle cx="527.6" cy="426.4"/><circle cx="528.3" cy="453.7"/><circle cx="535.5" cy="462.3"/><circle cx="523.3" cy="467.1"/><circle cx="536.0" cy="460.2"/><circle cx="524.5" cy="439.6"/><circle cx="599.7" cy="427.6"/><circle cx="526.3" cy="420.9"/><circle cx="570.8" cy="450.9"/><circle cx="539.4" cy="452.6"/><circle cx="535.9" cy="463.3"/><circle cx="534.5" cy="467.4"/><circle cx="538.6" cy="457.3"/><circle cx="504.8" cy="452.5"/><circle cx="602.6" cy="402.7"/><circle cx="522.2" cy="405.0"/><circle cx="538.6" cy="448.6"/><circle cx="516.5" cy="454.9"/><circle cx="598.5" cy="410.7"/><circle cx="553.5" cy="446.6"/><circle cx="536.8" cy="457.7"/><circle cx="448.5" cy="418.8"/><circle cx="530.4" cy="451.0"/><circle cx="525.4" cy="432.9"/><circle cx="535.9" cy="455.8"/><circle cx="527.9" cy="414.1"/><circle cx="535.5" cy="460.3"/><circle cx="504.9" cy="456.8"/><circle cx="527.8" cy="454.6"/><circle cx="608.7" cy="421.9"/><circle cx="582.2" cy="442.9"/><circle cx="538.9" cy="453.5"/><circle cx="522.7" cy="420.1"/><circle cx="595.5" cy="425.2"/><circle cx="494.8" cy="440.5"/><circle cx="624.0" cy="410.1"/><circle cx="543.1" cy="436.5"/><circle cx="580.4" cy="441.0"/><circle cx="542.0" cy="427.1"/><circle cx="547.5" cy="455.6"/><circle cx="528.6" cy="449.7"/><circle cx="530.8" cy="448.1"/><circle cx="550.2" cy="416.2"/><circle cx="528.2" cy="455.1"/><circle cx="425.6" cy="394.4"/><circle cx="529.2" cy="447.9"/><circle cx="470.8" cy="437.6"/><circle cx="528.9" cy="442.3"/><circle cx="539.7" cy="453.2"/><circle cx="613.0" cy="421.8"/><circle cx="540.4" cy="412.0"/><circle cx="509.9" cy="454.5"/><circle cx="550.9" cy="460.1"/><circle cx="524.4" cy="429.7"/><circle cx="574.4" cy="421.8"/><circle cx="509.4" cy="434.2"/><circle cx="538.0" cy="434.9"/><circle cx="535.7" cy="454.6"/><circle cx="490.1" cy="447.4"/><circle cx="537.1" cy="459.8"/><circle cx="496.2" cy="449.7"/><circle cx="449.9" cy="416.3"/><circle cx="517.1" cy="455.8"/><circle cx="499.8" cy="454.0"/><circle cx="523.3" cy="447.2"/><circle cx="459.0" cy="426.2"/><circle cx="481.2" cy="429.5"/><circle cx="539.4" cy="424.4"/><circle cx="557.9" cy="460.2"/><circle cx="577.0" cy="442.0"/><circle cx="567.7" cy="447.4"/><circle cx="529.4" cy="428.7"/><circle cx="534.0" cy="467.7"/><circle cx="563.2" cy="454.9"/><circle cx="554.3" cy="461.8"/><circle cx="526.7" cy="417.7"/><circle cx="526.6" cy="428.8"/><circle cx="534.4" cy="465.6"/><circle cx="532.7" cy="464.9"/><circle cx="532.3" cy="465.0"/><circle cx="554.4" cy="428.7"/><circle cx="546.9" cy="464.2"/><circle cx="533.8" cy="468.7"/><circle cx="574.8" cy="446.4"/><circle cx="527.1" cy="395.5"/><circle cx="533.8" cy="468.7"/><circle cx="535.5" cy="457.3"/><circle cx="529.3" cy="441.5"/><circle cx="527.7" cy="436.2"/><circle cx="523.5" cy="436.3"/><circle cx="539.7" cy="406.7"/><circle cx="547.8" cy="357.3"/><circle cx="532.5" cy="462.7"/><circle cx="534.4" cy="467.1"/><circle cx="538.0" cy="426.7"/><circle cx="529.8" cy="432.1"/><circle cx="484.2" cy="429.4"/><circle cx="578.7" cy="423.7"/><circle cx="556.5" cy="452.9"/><circle cx="514.3" cy="390.4"/><circle cx="618.3" cy="415.0"/><circle cx="545.0" cy="459.3"/><circle cx="522.4" cy="410.5"/><circle cx="519.7" cy="443.6"/><circle cx="539.2" cy="434.7"/><circle cx="523.1" cy="458.8"/><circle cx="510.8" cy="447.3"/><circle cx="538.3" cy="465.9"/><circle cx="537.6" cy="455.6"/><circle cx="527.2" cy="425.1"/><circle cx="536.3" cy="467.7"/><circle cx="538.0" cy="467.4"/><circle cx="542.0" cy="420.9"/><circle cx="528.6" cy="450.9"/><circle cx="488.4" cy="417.7"/><circle cx="548.6" cy="441.9"/><circle cx="541.6" cy="413.0"/><circle cx="508.5" cy="459.8"/><circle cx="568.3" cy="402.2"/><circle cx="540.4" cy="434.5"/><circle cx="591.3" cy="436.2"/><circle cx="541.8" cy="464.0"/><circle cx="533.7" cy="468.4"/><circle cx="539.5" cy="444.2"/><circle cx="561.6" cy="457.7"/><circle cx="533.8" cy="468.8"/><circle cx="535.0" cy="466.2"/><circle cx="534.2" cy="467.0"/><circle cx="450.6" cy="420.8"/><circle cx="545.0" cy="414.3"/><circle cx="530.6" cy="447.7"/><circle cx="536.3" cy="455.5"/><circle cx="542.9" cy="457.7"/><circle cx="520.5" cy="466.4"/><circle cx="538.4" cy="449.6"/><circle cx="579.9" cy="440.0"/><circle cx="477.0" cy="442.0"/><circle cx="530.4" cy="447.2"/><circle cx="497.4" cy="455.9"/><circle cx="535.7" cy="467.2"/><circle cx="573.2" cy="444.0"/><circle cx="540.5" cy="431.2"/><circle cx="531.7" cy="461.9"/><circle cx="505.3" cy="446.0"/><circle cx="608.9" cy="421.8"/><circle cx="528.9" cy="450.8"/><circle cx="544.9" cy="430.1"/><circle cx="508.2" cy="441.1"/><circle cx="587.8" cy="432.5"/><circle cx="541.7" cy="419.9"/><circle cx="582.3" cy="438.6"/><circle cx="526.9" cy="435.9"/><circle cx="532.8" cy="464.7"/><circle cx="547.2" cy="394.7"/><circle cx="538.1" cy="433.5"/><circle cx="497.4" cy="441.8"/><circle cx="516.9" cy="448.7"/><circle cx="538.3" cy="456.9"/><circle cx="594.6" cy="435.2"/><circle cx="566.8" cy="454.8"/><circle cx="605.0" cy="427.8"/><circle cx="602.1" cy="423.8"/><circle cx="517.6" cy="432.9"/><circle cx="542.9" cy="431.7"/><circle cx="499.4" cy="450.4"/><circle cx="518.4" cy="431.4"/><circle cx="527.7" cy="441.9"/><circle cx="610.0" cy="423.1"/><circle cx="550.9" cy="451.3"/><circle cx="536.2" cy="463.2"/><circle cx="614.8" cy="419.0"/><circle cx="496.6" cy="456.3"/><circle cx="551.7" cy="447.6"/><circle cx="530.5" cy="450.5"/><circle cx="532.1" cy="465.5"/><circle cx="605.9" cy="422.5"/><circle cx="499.7" cy="444.8"/><circle cx="586.3" cy="437.4"/><circle cx="526.1" cy="439.8"/><circle cx="562.4" cy="397.4"/><circle cx="537.9" cy="454.0"/><circle cx="529.7" cy="430.6"/><circle cx="556.7" cy="457.4"/><circle cx="513.9" cy="463.6"/><circle cx="533.5" cy="467.2"/><circle cx="584.2" cy="443.8"/><circle cx="540.9" cy="465.4"/><circle cx="592.0" cy="434.5"/><circle cx="569.1" cy="451.4"/><circle cx="466.5" cy="435.0"/><circle cx="514.9" cy="455.8"/><circle cx="511.3" cy="440.2"/><circle cx="593.2" cy="434.3"/><circle cx="517.1" cy="449.9"/><circle cx="527.5" cy="430.6"/><circle cx="530.6" cy="459.9"/><circle cx="535.3" cy="464.4"/><circle cx="554.0" cy="460.8"/><circle cx="536.2" cy="453.9"/><circle cx="524.3" cy="398.9"/><circle cx="591.1" cy="428.6"/><circle cx="548.1" cy="457.9"/><circle cx="544.9" cy="399.4"/><circle cx="599.6" cy="418.4"/><circle cx="538.8" cy="419.3"/><circle cx="534.9" cy="464.8"/><circle cx="606.2" cy="422.4"/><circle cx="537.2" cy="444.8"/><circle cx="544.9" cy="454.8"/><circle cx="580.5" cy="436.8"/><circle cx="560.1" cy="457.2"/><circle cx="507.9" cy="446.7"/><circle cx="539.5" cy="466.4"/><circle cx="533.5" cy="467.9"/><circle cx="474.5" cy="413.0"/><circle cx="541.1" cy="423.1"/><circle cx="537.8" cy="433.8"/><circle cx="589.6" cy="438.7"/><circle cx="528.9" cy="432.8"/><circle cx="500.0" cy="437.7"/><circle cx="563.6" cy="442.0"/><circle cx="530.7" cy="458.5"/><circle cx="536.6" cy="462.8"/><circle cx="534.0" cy="468.4"/><circle cx="530.8" cy="448.7"/><circle cx="537.3" cy="447.8"/><circle cx="530.1" cy="433.7"/><circle cx="522.7" cy="403.9"/><circle cx="529.5" cy="427.9"/><circle cx="525.9" cy="428.9"/><circle cx="533.6" cy="467.8"/><circle cx="599.8" cy="431.4"/><circle cx="538.0" cy="438.7"/><circle cx="548.8" cy="447.1"/><circle cx="459.8" cy="427.3"/><circle cx="533.6" cy="467.9"/><circle cx="477.9" cy="437.3"/><circle cx="526.5" cy="424.8"/><circle cx="542.0" cy="461.3"/><circle cx="527.8" cy="418.7"/><circle cx="542.4" cy="459.5"/><circle cx="553.7" cy="452.2"/><circle cx="536.5" cy="452.1"/><circle cx="529.7" cy="435.3"/><circle cx="574.3" cy="448.2"/><circle cx="534.4" cy="467.1"/><circle cx="543.8" cy="412.8"/><circle cx="590.7" cy="436.0"/><circle cx="529.8" cy="457.5"/><circle cx="547.5" cy="438.3"/><circle cx="607.1" cy="424.1"/><circle cx="556.6" cy="459.8"/><circle cx="635.0" cy="400.8"/><circle cx="605.1" cy="428.1"/><circle cx="543.1" cy="433.0"/><circle cx="531.9" cy="459.6"/><circle cx="569.1" cy="452.8"/><circle cx="526.3" cy="421.3"/><circle cx="544.7" cy="424.0"/><circle cx="537.3" cy="453.0"/><circle cx="510.8" cy="440.6"/><circle cx="555.0" cy="459.5"/><circle cx="551.4" cy="453.6"/><circle cx="535.7" cy="461.9"/><circle cx="524.1" cy="437.8"/><circle cx="524.6" cy="422.0"/><circle cx="594.2" cy="392.5"/><circle cx="551.0" cy="455.9"/><circle cx="602.1" cy="430.2"/><circle cx="537.3" cy="452.8"/><circle cx="529.9" cy="446.0"/><circle cx="527.4" cy="447.5"/><circle cx="525.7" cy="414.3"/><circle cx="537.1" cy="446.6"/><circle cx="478.0" cy="441.7"/><circle cx="530.1" cy="450.8"/><circle cx="525.2" cy="407.0"/><circle cx="538.9" cy="444.6"/><circle cx="535.4" cy="465.7"/><circle cx="548.4" cy="442.6"/><circle cx="535.5" cy="463.5"/><circle cx="526.6" cy="385.1"/><circle cx="563.0" cy="456.5"/><circle cx="532.6" cy="464.9"/><circle cx="535.4" cy="462.6"/><circle cx="542.9" cy="438.3"/><circle cx="519.6" cy="396.2"/><circle cx="521.8" cy="410.2"/><circle cx="528.1" cy="454.6"/><circle cx="538.5" cy="445.4"/><circle cx="576.6" cy="433.0"/><circle cx="525.1" cy="417.3"/><circle cx="542.0" cy="461.0"/><circle cx="528.3" cy="429.0"/><circle cx="537.7" cy="459.0"/><circle cx="521.9" cy="463.3"/><circle cx="552.1" cy="458.1"/><circle cx="570.8" cy="442.2"/><circle cx="452.7" cy="421.6"/><circle cx="517.1" cy="433.3"/><circle cx="487.6" cy="438.7"/><circle cx="529.9" cy="458.1"/><circle cx="542.7" cy="444.4"/><circle cx="441.5" cy="389.6"/><circle cx="535.6" cy="456.5"/><circle cx="535.9" cy="454.8"/><circle cx="603.0" cy="414.8"/><circle cx="522.7" cy="446.3"/><circle cx="522.0" cy="456.1"/><circle cx="523.7" cy="414.0"/><circle cx="544.6" cy="433.1"/><circle cx="538.1" cy="443.3"/><circle cx="519.6" cy="405.9"/><circle cx="585.2" cy="442.6"/><circle cx="498.9" cy="434.1"/><circle cx="532.6" cy="466.0"/><circle cx="548.9" cy="464.2"/><circle cx="534.0" cy="467.5"/><circle cx="573.4" cy="433.9"/><circle cx="520.3" cy="409.1"/><circle cx="531.0" cy="462.2"/><circle cx="482.3" cy="408.8"/><circle cx="602.2" cy="429.7"/><circle cx="494.6" cy="419.4"/><circle cx="523.8" cy="450.3"/><circle cx="591.4" cy="437.9"/><circle cx="565.1" cy="455.1"/><circle cx="533.8" cy="467.7"/><circle cx="538.0" cy="440.8"/><circle cx="535.8" cy="455.8"/><circle cx="553.2" cy="429.8"/><circle cx="549.4" cy="460.0"/><circle cx="539.7" cy="438.5"/><circle cx="527.9" cy="406.3"/><circle cx="448.2" cy="412.3"/><circle cx="522.5" cy="412.0"/><circle cx="531.8" cy="455.9"/><circle cx="555.1" cy="444.4"/><circle cx="545.9" cy="415.3"/><circle cx="552.5" cy="439.3"/><circle cx="556.6" cy="454.7"/><circle cx="518.4" cy="458.9"/><circle cx="562.0" cy="455.1"/><circle cx="530.1" cy="440.2"/><circle cx="533.2" cy="467.4"/><circle cx="535.6" cy="460.0"/><circle cx="554.1" cy="435.8"/><circle cx="515.5" cy="456.0"/><circle cx="613.9" cy="421.9"/><circle cx="536.1" cy="458.4"/><circle cx="526.1" cy="422.0"/><circle cx="530.3" cy="454.8"/><circle cx="527.4" cy="459.9"/><circle cx="543.2" cy="430.3"/><circle cx="546.1" cy="418.0"/><circle cx="604.4" cy="424.4"/><circle cx="495.9" cy="454.7"/><circle cx="546.5" cy="465.4"/><circle cx="535.8" cy="453.6"/><circle cx="538.0" cy="436.3"/><circle cx="536.2" cy="454.9"/><circle cx="536.6" cy="450.1"/><circle cx="536.4" cy="459.8"/><circle cx="540.6" cy="434.6"/><circle cx="518.4" cy="449.9"/><circle cx="544.1" cy="426.5"/><circle cx="534.3" cy="466.6"/><circle cx="568.4" cy="447.6"/><circle cx="578.7" cy="435.6"/><circle cx="539.1" cy="428.1"/><circle cx="480.6" cy="442.8"/><circle cx="538.4" cy="453.0"/><circle cx="532.7" cy="461.4"/><circle cx="615.9" cy="415.8"/><circle cx="536.8" cy="454.3"/><circle cx="531.5" cy="455.0"/><circle cx="537.3" cy="455.7"/><circle cx="447.5" cy="413.1"/><circle cx="549.2" cy="460.8"/><circle cx="467.8" cy="412.7"/><circle cx="530.0" cy="445.7"/><circle cx="553.5" cy="447.6"/><circle cx="548.6" cy="452.9"/><circle cx="602.5" cy="423.3"/><circle cx="548.2" cy="450.1"/><circle cx="526.7" cy="444.4"/><circle cx="527.2" cy="396.7"/><circle cx="534.5" cy="466.9"/><circle cx="536.9" cy="459.5"/><circle cx="538.5" cy="462.7"/><circle cx="617.7" cy="416.2"/><circle cx="523.8" cy="412.3"/><circle cx="536.2" cy="457.9"/><circle cx="452.1" cy="417.1"/><circle cx="533.3" cy="466.5"/><circle cx="576.3" cy="448.7"/><circle cx="544.4" cy="452.4"/><circle cx="544.0" cy="444.9"/><circle cx="583.4" cy="442.4"/><circle cx="524.3" cy="432.1"/><circle cx="492.0" cy="424.9"/><circle cx="558.2" cy="457.7"/><circle cx="530.9" cy="442.8"/><circle cx="523.8" cy="453.2"/><circle cx="530.5" cy="445.0"/><circle cx="625.7" cy="406.7"/><circle cx="575.9" cy="440.4"/><circle cx="530.6" cy="451.6"/><circle cx="538.8" cy="447.8"/><circle cx="540.6" cy="430.8"/><circle cx="561.4" cy="450.0"/><circle cx="526.3" cy="408.5"/><circle cx="532.4" cy="462.1"/><circle cx="621.3" cy="414.0"/><circle cx="503.0" cy="459.0"/><circle cx="593.2" cy="434.5"/><circle cx="534.5" cy="467.0"/><circle cx="540.8" cy="445.5"/><circle cx="526.8" cy="449.7"/><circle cx="628.7" cy="409.7"/><circle cx="562.7" cy="452.3"/><circle cx="543.5" cy="423.2"/><circle cx="522.1" cy="405.8"/><circle cx="528.1" cy="454.1"/><circle cx="540.7" cy="442.9"/><circle cx="534.7" cy="464.4"/><circle cx="602.4" cy="426.9"/><circle cx="522.5" cy="419.6"/><circle cx="532.7" cy="461.7"/><circle cx="566.0" cy="453.6"/><circle cx="532.1" cy="459.9"/><circle cx="542.7" cy="413.4"/><circle cx="504.2" cy="439.5"/><circle cx="528.8" cy="419.2"/><circle cx="571.1" cy="447.3"/><circle cx="535.6" cy="455.4"/><circle cx="627.5" cy="410.6"/><circle cx="536.8" cy="456.4"/><circle cx="544.1" cy="458.0"/><circle cx="452.7" cy="423.7"/><circle cx="550.2" cy="437.7"/><circle cx="514.7" cy="438.1"/><circle cx="479.7" cy="416.1"/><circle cx="521.1" cy="457.2"/><circle cx="534.1" cy="467.9"/><circle cx="531.8" cy="458.3"/><circle cx="542.5" cy="464.9"/><circle cx="548.7" cy="463.4"/><circle cx="579.0" cy="443.4"/><circle cx="439.6" cy="410.1"/><circle cx="523.9" cy="375.8"/><circle cx="530.5" cy="459.5"/><circle cx="530.7" cy="458.0"/><circle cx="442.4" cy="409.3"/><circle cx="511.4" cy="439.7"/><circle cx="525.3" cy="456.5"/><circle cx="510.0" cy="449.9"/><circle cx="466.8" cy="435.3"/><circle cx="473.9" cy="419.4"/><circle cx="519.1" cy="441.3"/><circle cx="631.0" cy="398.0"/><circle cx="533.7" cy="468.6"/><circle cx="525.5" cy="443.4"/><circle cx="527.7" cy="409.1"/><circle cx="542.5" cy="440.3"/><circle cx="541.0" cy="405.2"/><circle cx="531.1" cy="458.2"/><circle cx="562.4" cy="447.6"/><circle cx="621.0" cy="413.9"/><circle cx="514.0" cy="447.0"/><circle cx="539.6" cy="430.0"/><circle cx="531.6" cy="456.4"/><circle cx="526.5" cy="430.5"/><circle cx="537.2" cy="458.7"/><circle cx="624.6" cy="406.9"/><circle cx="541.8" cy="461.6"/><circle cx="544.7" cy="459.8"/><circle cx="527.4" cy="411.9"/><circle cx="503.8" cy="444.6"/><circle cx="532.5" cy="459.7"/><circle cx="486.8" cy="443.3"/><circle cx="539.6" cy="437.6"/><circle cx="551.3" cy="398.6"/><circle cx="527.4" cy="423.4"/><circle cx="593.3" cy="423.1"/><circle cx="537.9" cy="455.6"/><circle cx="511.6" cy="434.2"/><circle cx="620.8" cy="414.6"/><circle cx="487.9" cy="441.1"/><circle cx="561.9" cy="452.2"/><circle cx="537.1" cy="437.2"/><circle cx="537.5" cy="443.3"/><circle cx="536.5" cy="457.1"/><circle cx="579.7" cy="444.3"/><circle cx="512.6" cy="456.8"/><circle cx="541.5" cy="426.2"/><circle cx="520.9" cy="414.3"/><circle cx="542.6" cy="442.4"/><circle cx="534.2" cy="467.0"/><circle cx="569.5" cy="441.7"/><circle cx="519.2" cy="465.5"/><circle cx="528.4" cy="467.8"/><circle cx="497.7" cy="433.7"/><circle cx="515.7" cy="442.9"/><circle cx="553.4" cy="455.9"/><circle cx="599.4" cy="430.4"/><circle cx="541.5" cy="463.8"/><circle cx="535.7" cy="461.5"/><circle cx="541.5" cy="429.2"/><circle cx="483.8" cy="447.7"/><circle cx="591.3" cy="438.7"/><circle cx="563.4" cy="452.8"/><circle cx="511.2" cy="457.0"/><circle cx="539.2" cy="455.3"/><circle cx="451.2" cy="421.5"/><circle cx="542.2" cy="427.8"/><circle cx="550.9" cy="463.6"/><circle cx="530.6" cy="446.2"/><circle cx="555.4" cy="437.1"/><circle cx="592.2" cy="431.5"/><circle cx="539.6" cy="409.7"/><circle cx="551.1" cy="459.3"/><circle cx="585.4" cy="437.9"/><circle cx="494.1" cy="436.8"/><circle cx="516.4" cy="440.8"/><circle cx="542.3" cy="415.7"/><circle cx="542.5" cy="427.2"/><circle cx="515.7" cy="463.3"/><circle cx="534.5" cy="465.4"/><circle cx="611.4" cy="423.3"/><circle cx="530.1" cy="437.4"/><circle cx="536.7" cy="444.5"/><circle cx="608.3" cy="424.4"/><circle cx="538.4" cy="451.4"/><circle cx="539.8" cy="436.0"/><circle cx="487.2" cy="446.3"/><circle cx="499.3" cy="420.3"/><circle cx="513.5" cy="456.6"/><circle cx="500.8" cy="437.8"/><circle cx="535.3" cy="458.4"/><circle cx="566.9" cy="453.3"/><circle cx="550.0" cy="436.7"/><circle cx="552.6" cy="454.3"/><circle cx="542.8" cy="431.4"/><circle cx="575.9" cy="443.2"/><circle cx="571.6" cy="429.0"/><circle cx="543.2" cy="421.3"/><circle cx="552.9" cy="460.6"/><circle cx="535.4" cy="460.5"/><circle cx="520.3" cy="460.1"/><circle cx="509.1" cy="437.4"/><circle cx="568.7" cy="452.9"/><circle cx="538.7" cy="456.7"/><circle cx="536.8" cy="446.2"/><circle cx="549.1" cy="460.3"/><circle cx="535.1" cy="459.4"/><circle cx="528.7" cy="414.6"/><circle cx="559.6" cy="459.0"/><circle cx="531.1" cy="455.3"/><circle cx="526.6" cy="468.0"/><circle cx="543.4" cy="414.2"/><circle cx="527.5" cy="399.1"/><circle cx="539.0" cy="432.6"/><circle cx="559.7" cy="452.0"/><circle cx="542.2" cy="426.9"/><circle cx="524.7" cy="441.3"/><circle cx="544.0" cy="374.9"/><circle cx="519.9" cy="393.3"/><circle cx="534.7" cy="462.7"/><circle cx="539.0" cy="429.7"/><circle cx="528.7" cy="444.9"/><circle cx="541.4" cy="408.9"/><circle cx="539.5" cy="447.1"/><circle cx="542.6" cy="448.2"/><circle cx="563.8" cy="453.0"/><circle cx="533.8" cy="468.7"/><circle cx="485.7" cy="445.6"/><circle cx="539.2" cy="466.5"/><circle cx="528.7" cy="421.3"/><circle cx="580.2" cy="445.7"/><circle cx="568.6" cy="452.6"/><circle cx="539.6" cy="442.1"/><circle cx="528.0" cy="431.0"/><circle cx="535.9" cy="461.3"/><circle cx="531.4" cy="453.7"/><circle cx="535.6" cy="458.7"/><circle cx="593.8" cy="433.3"/><circle cx="494.7" cy="453.0"/><circle cx="531.4" cy="452.5"/><circle cx="572.0" cy="433.9"/><circle cx="522.0" cy="398.6"/><circle cx="538.9" cy="430.0"/><circle cx="571.8" cy="450.9"/><circle cx="537.6" cy="446.7"/><circle cx="492.0" cy="452.6"/><circle cx="484.3" cy="445.3"/><circle cx="623.2" cy="407.8"/><circle cx="510.3" cy="442.6"/><circle cx="530.6" cy="447.3"/><circle cx="531.5" cy="461.3"/><circle cx="528.7" cy="416.3"/><circle cx="598.8" cy="430.6"/><circle cx="529.5" cy="451.2"/><circle cx="536.1" cy="460.7"/><circle cx="538.2" cy="447.3"/><circle cx="573.7" cy="445.3"/><circle cx="529.1" cy="432.4"/><circle cx="530.3" cy="460.4"/><circle cx="580.4" cy="441.0"/><circle cx="538.5" cy="451.2"/><circle cx="539.4" cy="439.8"/><circle cx="537.9" cy="437.8"/><circle cx="524.7" cy="441.0"/><circle cx="530.1" cy="433.9"/><circle cx="536.8" cy="443.8"/><circle cx="495.9" cy="453.8"/><circle cx="510.1" cy="446.8"/><circle cx="593.2" cy="429.5"/><circle cx="518.3" cy="449.2"/><circle cx="575.8" cy="446.2"/><circle cx="541.2" cy="438.7"/><circle cx="561.0" cy="424.5"/><circle cx="532.7" cy="465.8"/><circle cx="536.7" cy="449.3"/><circle cx="537.2" cy="446.5"/><circle cx="546.7" cy="417.0"/><circle cx="538.0" cy="458.1"/><circle cx="579.4" cy="445.1"/><circle cx="527.6" cy="452.1"/><circle cx="547.3" cy="439.4"/><circle cx="539.2" cy="444.7"/><circle cx="540.4" cy="441.5"/><circle cx="587.5" cy="431.2"/><circle cx="535.9" cy="464.2"/><circle cx="527.0" cy="444.9"/><circle cx="529.8" cy="442.5"/><circle cx="601.4" cy="430.9"/><circle cx="599.2" cy="432.6"/><circle cx="538.2" cy="456.5"/><circle cx="542.5" cy="440.8"/><circle cx="524.6" cy="439.8"/><circle cx="545.3" cy="423.7"/></g>
<path d="M387 308.4 H681 M387 431.9 H681" stroke="#99928c" stroke-width="1.25" stroke-dasharray="1.6 0.4" style="mix-blend-mode:multiply"/>
<text x="610.6" y="302.8" font-size="8.4" fill="#8a8a8a" font-style="italic" textLength="59.1" lengthAdjust="spacingAndGlyphs">p = 0.05 (adjusted)</text>
<text x="631.3" y="443.4" font-size="8.4" fill="#8a8a8a" font-style="italic" textLength="24.7" lengthAdjust="spacingAndGlyphs">p = 0.05</text>
<path d="M606.1 119.5 L603.6 115.2 M402.2 345.7 L402.3 340.7 M423.7 352.4 L427.9 350.3 M418.6 367.8 L420.4 372.2 M526.3 354.2 L524.2 350.2 M508.4 361.9 L501.5 360.1 M507.4 372.1 L501.5 372.2 M518.5 367.5 L520.0 376.6 M524.2 371.1 L524.2 382.5 M551.1 332.4 L552.6 328.0 M543.7 358.8 L546.0 354.6 M553.6 368.8 L555.5 373.6 M547.3 377.4 L549.8 382.5 M602.3 377.4 L601.0 382.1 M636.8 373.5 L638.5 368.8 M650.0 376.6 L649.5 381.7 M655.2 374.0 L651.4 380.7 M533.1 467.1 L530.8 462.3 M534.2 468.8 L535.5 473.2" stroke="#777" stroke-width="0.6" fill="none"/>
<rect x="586.6" y="109.1" width="17.0" height="6.1" fill="#fff" stroke="#b4b4b4" stroke-width="0.6"/>
<text x="595.1" y="113.8" font-size="5.6" fill="#3a3a4a" text-anchor="middle" textLength="13.8" lengthAdjust="spacingAndGlyphs">FUT6</text>
<rect x="402.1" y="334.2" width="20.8" height="6.5" fill="#fff" stroke="#b4b4b4" stroke-width="0.6"/>
<text x="412.5" y="339.3" font-size="5.6" fill="#3a3a4a" text-anchor="middle" textLength="17.6" lengthAdjust="spacingAndGlyphs">JADE3</text>
<rect x="427.9" y="344.4" width="22.9" height="5.9" fill="#fff" stroke="#b4b4b4" stroke-width="0.6"/>
<text x="439.4" y="348.9" font-size="5.6" fill="#3a3a4a" text-anchor="middle" textLength="19.7" lengthAdjust="spacingAndGlyphs">ZNF285</text>
<rect x="420.4" y="372.2" width="27.4" height="6.1" fill="#fff" stroke="#b4b4b4" stroke-width="0.6"/>
<text x="434.1" y="376.9" font-size="5.6" fill="#3a3a4a" text-anchor="middle" textLength="24.2" lengthAdjust="spacingAndGlyphs">ZDHHC15</text>
<rect x="506.1" y="343.8" width="18.1" height="6.4" fill="#fff" stroke="#b4b4b4" stroke-width="0.6"/>
<text x="515.2" y="348.8" font-size="5.6" fill="#3a3a4a" text-anchor="middle" textLength="14.9" lengthAdjust="spacingAndGlyphs">LMNA</text>
<rect x="478.6" y="354.3" width="22.9" height="5.8" fill="#fff" stroke="#b4b4b4" stroke-width="0.6"/>
<text x="490.1" y="358.7" font-size="5.6" fill="#3a3a4a" text-anchor="middle" textLength="19.7" lengthAdjust="spacingAndGlyphs">UBXN11</text>
<rect x="472.8" y="365.9" width="28.7" height="6.3" fill="#fff" stroke="#b4b4b4" stroke-width="0.6"/>
<text x="487.1" y="370.8" font-size="5.6" fill="#3a3a4a" text-anchor="middle" textLength="25.5" lengthAdjust="spacingAndGlyphs">SLC25A51</text>
<rect x="495.7" y="376.6" width="24.3" height="6.2" fill="#fff" stroke="#b4b4b4" stroke-width="0.6"/>
<text x="507.9" y="381.4" font-size="5.6" fill="#3a3a4a" text-anchor="middle" textLength="21.1" lengthAdjust="spacingAndGlyphs">RNF144A</text>
<rect x="523.8" y="382.5" width="21.2" height="5.9" fill="#fff" stroke="#b4b4b4" stroke-width="0.6"/>
<text x="534.4" y="387.0" font-size="5.6" fill="#3a3a4a" text-anchor="middle" textLength="18.0" lengthAdjust="spacingAndGlyphs">HDHD3</text>
<rect x="552.6" y="321.4" width="23.2" height="6.6" fill="#fff" stroke="#b4b4b4" stroke-width="0.6"/>
<text x="564.2" y="326.6" font-size="5.6" fill="#3a3a4a" text-anchor="middle" textLength="20.0" lengthAdjust="spacingAndGlyphs">ZNF268</text>
<rect x="546.0" y="348.0" width="23.3" height="6.6" fill="#fff" stroke="#b4b4b4" stroke-width="0.6"/>
<text x="557.6" y="353.2" font-size="5.6" fill="#3a3a4a" text-anchor="middle" textLength="20.1" lengthAdjust="spacingAndGlyphs">FBXO32</text>
<rect x="555.5" y="373.6" width="18.6" height="6.2" fill="#fff" stroke="#b4b4b4" stroke-width="0.6"/>
<text x="564.8" y="378.4" font-size="5.6" fill="#3a3a4a" text-anchor="middle" textLength="15.4" lengthAdjust="spacingAndGlyphs">PADI2</text>
<rect x="549.8" y="382.5" width="27.5" height="6.2" fill="#fff" stroke="#b4b4b4" stroke-width="0.6"/>
<text x="563.5" y="387.3" font-size="5.6" fill="#3a3a4a" text-anchor="middle" textLength="24.3" lengthAdjust="spacingAndGlyphs">TMEM38B</text>
<rect x="580.7" y="382.1" width="20.3" height="6.3" fill="#fff" stroke="#b4b4b4" stroke-width="0.6"/>
<text x="590.9" y="387.0" font-size="5.6" fill="#3a3a4a" text-anchor="middle" textLength="17.1" lengthAdjust="spacingAndGlyphs">SFXN2</text>
<rect x="638.5" y="362.3" width="22.7" height="6.5" fill="#fff" stroke="#b4b4b4" stroke-width="0.6"/>
<text x="649.9" y="367.4" font-size="5.6" fill="#3a3a4a" text-anchor="middle" textLength="19.5" lengthAdjust="spacingAndGlyphs">MORC4</text>
<rect x="628.6" y="381.7" width="20.9" height="6.3" fill="#fff" stroke="#b4b4b4" stroke-width="0.6"/>
<text x="639.0" y="386.6" font-size="5.6" fill="#3a3a4a" text-anchor="middle" textLength="17.7" lengthAdjust="spacingAndGlyphs">SCN8A</text>
<rect x="651.4" y="380.7" width="19.2" height="6.5" fill="#fff" stroke="#b4b4b4" stroke-width="0.6"/>
<text x="661.0" y="385.8" font-size="5.6" fill="#3a3a4a" text-anchor="middle" textLength="16.0" lengthAdjust="spacingAndGlyphs">TIMP3</text>
<rect x="505.7" y="456.8" width="25.1" height="5.5" fill="#fff" stroke="#b4b4b4" stroke-width="0.6"/>
<text x="518.2" y="460.9" font-size="5.6" fill="#3a3a4a" text-anchor="middle" textLength="21.9" lengthAdjust="spacingAndGlyphs">ST3GAL1</text>
<rect x="535.5" y="473.2" width="17.0" height="6.1" fill="#fff" stroke="#b4b4b4" stroke-width="0.6"/>
<text x="544.0" y="477.9" font-size="5.6" fill="#3a3a4a" text-anchor="middle" textLength="13.8" lengthAdjust="spacingAndGlyphs">FUT7</text>
<g fill="#1b6b26"><circle cx="606.1" cy="119.5" r="1.9"/><circle cx="402.2" cy="345.7" r="1.9"/><circle cx="423.7" cy="352.4" r="1.9"/><circle cx="418.6" cy="367.8" r="1.9"/><circle cx="526.3" cy="354.2" r="1.9"/><circle cx="508.4" cy="361.9" r="1.9"/><circle cx="507.4" cy="372.1" r="1.9"/><circle cx="518.5" cy="367.5" r="1.9"/><circle cx="524.2" cy="371.1" r="1.9"/><circle cx="551.1" cy="332.4" r="1.9"/><circle cx="543.7" cy="358.8" r="1.9"/><circle cx="553.6" cy="368.8" r="1.9"/><circle cx="547.3" cy="377.4" r="1.9"/><circle cx="602.3" cy="377.4" r="1.9"/><circle cx="636.8" cy="373.5" r="1.9"/><circle cx="650.0" cy="376.6" r="1.9"/><circle cx="655.2" cy="374.0" r="1.9"/><circle cx="533.1" cy="467.1" r="1.9"/><circle cx="534.2" cy="468.8" r="1.9"/></g>
<path d="M587.3 153.6 L596.9 138.3" stroke="#f01010" stroke-width="2.8"/>
<path d="M600.3 132.8 L600.1 141.5 L592.6 136.8 Z" fill="#f01010"/>
<path d="M514.0 478.0 L522.8 473.0" stroke="#f01010" stroke-width="2.7"/>
<path d="M528.0 470.1 L523.9 477.0 L519.9 470.1 Z" fill="#f01010"/>
<text x="565.9" y="172.5" font-size="12.0" fill="#f21414" textLength="28.9" lengthAdjust="spacingAndGlyphs" stroke="#f21414" stroke-width="0.25">FUT6</text>
<text x="482.6" y="481.0" font-size="12.0" fill="#f21414" textLength="27.7" lengthAdjust="spacingAndGlyphs" stroke="#f21414" stroke-width="0.25">FUT7</text>
<g fill="#9c9c9c"><rect x="384.8" y="46.7" width="300.2" height="3.4"/><rect x="384.8" y="46.1" width="3.1" height="440.4"/><rect x="682" y="46.1" width="3" height="440.4"/><rect x="384.3" y="482.9" width="300.7" height="3.6"/></g>
</svg></body></html>
